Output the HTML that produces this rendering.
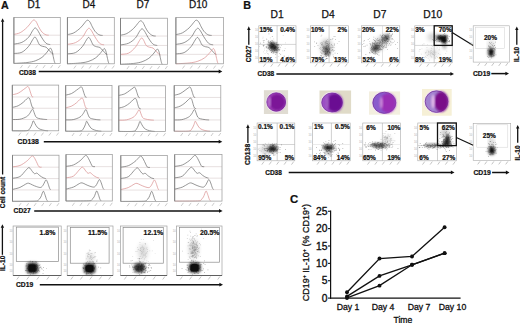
<!DOCTYPE html>
<html><head><meta charset="utf-8"><style>
html,body{margin:0;padding:0;background:#fff;width:520px;height:323px;overflow:hidden;}
svg{display:block;font-family:"Liberation Sans", sans-serif;}
</style></head><body>
<svg width="520" height="323" viewBox="0 0 520 323" font-family='"Liberation Sans", sans-serif'><defs><radialGradient id="cyt" cx="0.5" cy="0.5" r="0.5"><stop offset="0" stop-color="#9c5cc4"/><stop offset="0.8" stop-color="#9454be"/><stop offset="1" stop-color="#b890d0"/></radialGradient><filter id="b1" x="-60%" y="-60%" width="220%" height="220%"><feGaussianBlur stdDeviation="1.4"/></filter><filter id="b2" x="-60%" y="-60%" width="220%" height="220%"><feGaussianBlur stdDeviation="2.5"/></filter><filter id="b05" x="-20%" y="-20%" width="140%" height="140%"><feGaussianBlur stdDeviation="0.5"/></filter><filter id="b07" x="-30%" y="-30%" width="160%" height="160%"><feGaussianBlur stdDeviation="0.8"/></filter></defs><rect width="520" height="323" fill="#fff"/><text x="0.9" y="8.7" font-size="10.7" font-weight="bold" fill="#111" stroke="#111" stroke-width="0.22">A</text>
<text x="243.2" y="8.7" font-size="10.8" font-weight="bold" fill="#111" stroke="#111" stroke-width="0.22">B</text>
<text x="290.0" y="203.1" font-size="11.4" font-weight="bold" fill="#111" stroke="#111" stroke-width="0.22">C</text>
<text x="34.0" y="7.6" font-size="10" text-anchor="middle" fill="#111" stroke="#111" stroke-width="0.25">D1</text>
<text x="89.0" y="7.6" font-size="10" text-anchor="middle" fill="#111" stroke="#111" stroke-width="0.25">D4</text>
<text x="143.0" y="7.6" font-size="10" text-anchor="middle" fill="#111" stroke="#111" stroke-width="0.25">D7</text>
<text x="198.2" y="7.6" font-size="10" text-anchor="middle" fill="#111" stroke="#111" stroke-width="0.25">D10</text>
<line x1="13.9" y1="35.199999999999996" x2="60.3" y2="35.199999999999996" stroke="#ddd3d3" stroke-width="0.7"/>
<line x1="13.9" y1="44.599999999999994" x2="60.3" y2="44.599999999999994" stroke="#ddd3d3" stroke-width="0.7"/>
<line x1="13.9" y1="54.0" x2="60.3" y2="54.0" stroke="#ddd3d3" stroke-width="0.7"/>
<path d="M13.90,34.39 C14.95,34.10 18.05,33.80 20.21,32.66 C22.38,31.53 25.08,29.28 26.89,27.58 C28.70,25.89 29.95,23.78 31.07,22.51 C32.18,21.24 32.74,20.12 33.57,19.97 C34.41,19.82 35.24,20.48 36.08,21.59 C36.91,22.71 37.75,25.11 38.58,26.67 C39.42,28.23 40.26,29.80 41.09,30.94 C41.93,32.07 42.76,32.81 43.60,33.47 C44.43,34.13 45.25,34.61 46.10,34.90 C46.95,35.18 48.27,35.15 48.70,35.20" fill="none" stroke="#d88e8e" stroke-width="0.7"/>
<path d="M13.90,44.09 C15.23,43.80 19.44,43.50 21.88,42.37 C24.32,41.23 26.75,39.27 28.56,37.29 C30.37,35.31 31.62,32.04 32.74,30.49 C33.85,28.93 34.41,27.95 35.24,27.95 C36.08,27.95 36.78,29.06 37.75,30.49 C38.72,31.91 39.98,34.63 41.09,36.48 C42.20,38.32 43.46,40.34 44.43,41.55 C45.41,42.77 45.97,43.28 46.94,43.79 C47.90,44.30 49.68,44.46 50.23,44.60" fill="none" stroke="#6a6a6a" stroke-width="0.7"/>
<path d="M13.90,53.49 C15.23,53.29 19.44,53.46 21.88,52.27 C24.32,51.09 26.75,48.50 28.56,46.38 C30.37,44.27 31.68,41.14 32.74,39.58 C33.80,38.02 34.22,37.04 34.92,37.04 C35.62,37.04 36.16,38.31 36.91,39.58 C37.66,40.85 38.45,43.52 39.42,44.66 C40.39,45.79 41.65,45.96 42.76,46.38 C43.87,46.81 44.99,46.49 46.10,47.20 C47.22,47.91 48.47,49.60 49.44,50.65 C50.42,51.70 51.30,52.93 51.95,53.49 C52.60,54.05 53.11,53.92 53.34,54.00" fill="none" stroke="#6a6a6a" stroke-width="0.7"/>
<path d="M13.90,63.40 C16.07,63.26 23.33,62.97 26.89,62.55 C30.45,62.12 32.74,61.72 35.24,60.86 C37.75,60.01 40.12,58.68 41.93,57.41 C43.74,56.14 44.85,54.65 46.10,53.25 C47.35,51.84 48.70,49.83 49.44,48.98 C50.18,48.13 50.14,47.88 50.56,48.17 C50.97,48.46 51.50,49.30 51.95,50.71 C52.40,52.11 52.84,54.77 53.25,56.60 C53.66,58.42 54.07,60.54 54.41,61.67 C54.74,62.81 55.10,63.11 55.24,63.40" fill="none" stroke="#6a6a6a" stroke-width="0.7"/>
<rect x="13.90" y="17.40" width="46.40" height="46.00" fill="none" stroke="#9c9c9c" stroke-width="0.75"/>
<line x1="13.9" y1="17.4" x2="13.9" y2="63.4" stroke="#7c7c7c" stroke-width="0.9"/>
<path d="M20.3,68.2 L22.5,65.2" stroke="#b4b4b4" stroke-width="0.7" fill="none"/>
<path d="M27.8,68.2 L30.0,65.2" stroke="#b4b4b4" stroke-width="0.7" fill="none"/>
<path d="M35.4,68.2 L37.6,65.2" stroke="#b4b4b4" stroke-width="0.7" fill="none"/>
<path d="M42.9,68.2 L45.1,65.2" stroke="#b4b4b4" stroke-width="0.7" fill="none"/>
<path d="M50.5,68.2 L52.7,65.2" stroke="#b4b4b4" stroke-width="0.7" fill="none"/>
<path d="M58.1,68.2 L60.3,65.2" stroke="#b4b4b4" stroke-width="0.7" fill="none"/>
<line x1="67.4" y1="35.41608695652174" x2="114.3" y2="35.41608695652174" stroke="#ddd3d3" stroke-width="0.7"/>
<line x1="67.4" y1="44.877391304347825" x2="114.3" y2="44.877391304347825" stroke="#ddd3d3" stroke-width="0.7"/>
<line x1="67.4" y1="54.33869565217391" x2="114.3" y2="54.33869565217391" stroke="#ddd3d3" stroke-width="0.7"/>
<path d="M67.40,34.60 C68.46,34.32 71.59,34.01 73.78,32.88 C75.97,31.74 78.70,29.49 80.53,27.80 C82.36,26.11 83.63,23.99 84.75,22.72 C85.88,21.45 86.44,20.34 87.29,20.18 C88.13,20.03 88.97,20.69 89.82,21.81 C90.66,22.93 91.51,25.33 92.35,26.89 C93.20,28.44 94.04,30.02 94.88,31.15 C95.73,32.29 96.57,33.03 97.42,33.69 C98.26,34.35 99.09,34.82 99.95,35.11 C100.81,35.40 102.14,35.37 102.58,35.42" fill="none" stroke="#6a6a6a" stroke-width="0.7"/>
<path d="M67.40,44.37 C68.74,44.08 73.00,43.78 75.47,42.64 C77.94,41.51 80.39,39.55 82.22,37.57 C84.05,35.59 85.32,32.32 86.44,30.76 C87.57,29.21 88.13,28.22 88.97,28.22 C89.82,28.22 90.52,29.34 91.51,30.76 C92.49,32.18 93.76,34.91 94.88,36.75 C96.01,38.60 97.28,40.61 98.26,41.83 C99.25,43.05 99.82,43.56 100.79,44.07 C101.77,44.57 103.57,44.74 104.12,44.88" fill="none" stroke="#d88e8e" stroke-width="0.7"/>
<path d="M67.40,53.83 C68.74,53.63 73.00,53.80 75.47,52.61 C77.94,51.43 80.39,48.84 82.22,46.72 C84.05,44.61 85.37,41.48 86.44,39.92 C87.51,38.36 87.94,37.38 88.65,37.38 C89.35,37.38 89.90,38.65 90.66,39.92 C91.42,41.19 92.21,43.86 93.20,45.00 C94.18,46.13 95.45,46.30 96.57,46.72 C97.70,47.15 98.82,46.82 99.95,47.54 C101.07,48.25 102.34,49.94 103.33,50.99 C104.31,52.04 105.20,53.27 105.86,53.83 C106.51,54.39 107.03,54.25 107.27,54.34" fill="none" stroke="#6a6a6a" stroke-width="0.7"/>
<path d="M67.40,63.80 C69.59,63.66 76.94,63.37 80.53,62.95 C84.13,62.52 86.44,62.12 88.97,61.26 C91.51,60.41 93.90,59.08 95.73,57.81 C97.56,56.54 98.68,55.05 99.95,53.65 C101.21,52.24 102.58,50.23 103.33,49.38 C104.08,48.53 104.03,48.28 104.45,48.57 C104.87,48.86 105.40,49.70 105.86,51.11 C106.31,52.51 106.76,55.17 107.17,57.00 C107.59,58.82 108.01,60.94 108.34,62.07 C108.68,63.21 109.05,63.51 109.19,63.80" fill="none" stroke="#6a6a6a" stroke-width="0.7"/>
<rect x="67.40" y="17.50" width="46.90" height="46.30" fill="none" stroke="#9c9c9c" stroke-width="0.75"/>
<line x1="67.4" y1="17.5" x2="67.4" y2="63.8" stroke="#7c7c7c" stroke-width="0.9"/>
<path d="M73.8,68.6 L76.0,65.6" stroke="#b4b4b4" stroke-width="0.7" fill="none"/>
<path d="M81.5,68.6 L83.7,65.6" stroke="#b4b4b4" stroke-width="0.7" fill="none"/>
<path d="M89.1,68.6 L91.3,65.6" stroke="#b4b4b4" stroke-width="0.7" fill="none"/>
<path d="M96.8,68.6 L99.0,65.6" stroke="#b4b4b4" stroke-width="0.7" fill="none"/>
<path d="M104.4,68.6 L106.6,65.6" stroke="#b4b4b4" stroke-width="0.7" fill="none"/>
<path d="M112.1,68.6 L114.3,65.6" stroke="#b4b4b4" stroke-width="0.7" fill="none"/>
<line x1="120.5" y1="36.038695652173914" x2="167.4" y2="36.038695652173914" stroke="#ddd3d3" stroke-width="0.7"/>
<line x1="120.5" y1="45.45913043478261" x2="167.4" y2="45.45913043478261" stroke="#ddd3d3" stroke-width="0.7"/>
<line x1="120.5" y1="54.8795652173913" x2="167.4" y2="54.8795652173913" stroke="#ddd3d3" stroke-width="0.7"/>
<path d="M120.50,35.23 C121.56,34.94 124.69,34.63 126.88,33.50 C129.07,32.37 131.80,30.12 133.63,28.42 C135.46,26.73 136.73,24.61 137.85,23.35 C138.98,22.08 139.54,20.96 140.39,20.81 C141.23,20.65 142.07,21.31 142.92,22.43 C143.76,23.55 144.61,25.95 145.45,27.51 C146.30,29.07 147.14,30.64 147.98,31.77 C148.83,32.91 149.67,33.65 150.52,34.31 C151.36,34.97 152.19,35.45 153.05,35.73 C153.91,36.02 155.24,35.99 155.68,36.04" fill="none" stroke="#6a6a6a" stroke-width="0.7"/>
<path d="M120.50,44.95 C121.84,44.66 126.10,44.36 128.57,43.23 C131.04,42.09 133.49,40.13 135.32,38.15 C137.15,36.17 138.42,32.90 139.54,31.34 C140.67,29.79 141.23,28.81 142.07,28.81 C142.92,28.81 143.62,29.92 144.61,31.34 C145.59,32.77 146.86,35.49 147.98,37.34 C149.11,39.18 150.38,41.19 151.36,42.41 C152.35,43.63 152.92,44.14 153.89,44.65 C154.87,45.15 156.67,45.32 157.22,45.46" fill="none" stroke="#6a6a6a" stroke-width="0.7"/>
<path d="M120.50,54.37 C121.84,54.17 126.10,54.34 128.57,53.15 C131.04,51.97 133.49,49.38 135.32,47.26 C137.15,45.15 138.47,42.02 139.54,40.46 C140.61,38.90 141.04,37.92 141.75,37.92 C142.45,37.92 143.00,39.19 143.76,40.46 C144.52,41.73 145.31,44.40 146.30,45.54 C147.28,46.67 148.55,46.84 149.67,47.26 C150.80,47.69 151.92,47.37 153.05,48.08 C154.17,48.79 155.44,50.48 156.43,51.53 C157.41,52.58 158.30,53.81 158.96,54.37 C159.61,54.93 160.13,54.79 160.37,54.88" fill="none" stroke="#d88e8e" stroke-width="0.7"/>
<path d="M120.50,64.30 C122.69,64.16 130.04,63.87 133.63,63.45 C137.23,63.02 139.54,62.62 142.07,61.76 C144.61,60.91 147.00,59.58 148.83,58.31 C150.66,57.04 151.78,55.55 153.05,54.15 C154.31,52.74 155.67,50.73 156.43,49.88 C157.18,49.03 157.13,48.78 157.55,49.07 C157.97,49.36 158.50,50.20 158.96,51.61 C159.41,53.01 159.86,55.67 160.27,57.50 C160.69,59.32 161.11,61.44 161.44,62.57 C161.78,63.71 162.15,64.01 162.29,64.30" fill="none" stroke="#6a6a6a" stroke-width="0.7"/>
<rect x="120.50" y="18.20" width="46.90" height="46.10" fill="none" stroke="#9c9c9c" stroke-width="0.75"/>
<line x1="120.5" y1="18.2" x2="120.5" y2="64.3" stroke="#7c7c7c" stroke-width="0.9"/>
<path d="M126.9,69.1 L129.1,66.1" stroke="#b4b4b4" stroke-width="0.7" fill="none"/>
<path d="M134.6,69.1 L136.8,66.1" stroke="#b4b4b4" stroke-width="0.7" fill="none"/>
<path d="M142.2,69.1 L144.4,66.1" stroke="#b4b4b4" stroke-width="0.7" fill="none"/>
<path d="M149.9,69.1 L152.1,66.1" stroke="#b4b4b4" stroke-width="0.7" fill="none"/>
<path d="M157.5,69.1 L159.7,66.1" stroke="#b4b4b4" stroke-width="0.7" fill="none"/>
<path d="M165.2,69.1 L167.4,66.1" stroke="#b4b4b4" stroke-width="0.7" fill="none"/>
<line x1="175.9" y1="35.41608695652174" x2="223.5" y2="35.41608695652174" stroke="#ddd3d3" stroke-width="0.7"/>
<line x1="175.9" y1="44.877391304347825" x2="223.5" y2="44.877391304347825" stroke="#ddd3d3" stroke-width="0.7"/>
<line x1="175.9" y1="54.33869565217391" x2="223.5" y2="54.33869565217391" stroke="#ddd3d3" stroke-width="0.7"/>
<path d="M175.90,34.60 C176.98,34.32 180.15,34.01 182.37,32.88 C184.59,31.74 187.37,29.49 189.23,27.80 C191.08,26.11 192.37,23.99 193.51,22.72 C194.65,21.45 195.23,20.34 196.08,20.18 C196.94,20.03 197.80,20.69 198.65,21.81 C199.51,22.93 200.37,25.33 201.22,26.89 C202.08,28.44 202.94,30.02 203.79,31.15 C204.65,32.29 205.51,33.03 206.36,33.69 C207.22,34.35 208.06,34.82 208.93,35.11 C209.81,35.40 211.16,35.37 211.60,35.42" fill="none" stroke="#6a6a6a" stroke-width="0.7"/>
<path d="M175.90,44.37 C177.26,44.08 181.58,43.78 184.09,42.64 C186.59,41.51 189.09,39.55 190.94,37.57 C192.80,35.59 194.08,32.32 195.23,30.76 C196.37,29.21 196.94,28.22 197.80,28.22 C198.65,28.22 199.37,29.34 200.37,30.76 C201.37,32.18 202.65,34.91 203.79,36.75 C204.94,38.60 206.22,40.61 207.22,41.83 C208.22,43.05 208.80,43.56 209.79,44.07 C210.78,44.57 212.61,44.74 213.17,44.88" fill="none" stroke="#6a6a6a" stroke-width="0.7"/>
<path d="M175.90,53.83 C177.26,53.63 181.58,53.80 184.09,52.61 C186.59,51.43 189.09,48.84 190.94,46.72 C192.80,44.61 194.14,41.48 195.23,39.92 C196.31,38.36 196.75,37.38 197.46,37.38 C198.18,37.38 198.74,38.65 199.51,39.92 C200.28,41.19 201.08,43.86 202.08,45.00 C203.08,46.13 204.36,46.30 205.51,46.72 C206.65,47.15 207.79,46.82 208.93,47.54 C210.08,48.25 211.36,49.94 212.36,50.99 C213.36,52.04 214.27,53.27 214.93,53.83 C215.60,54.39 216.12,54.25 216.36,54.34" fill="none" stroke="#6a6a6a" stroke-width="0.7"/>
<path d="M175.90,63.80 C178.12,63.66 185.58,63.37 189.23,62.95 C192.88,62.52 195.23,62.12 197.80,61.26 C200.37,60.41 202.79,59.08 204.65,57.81 C206.51,56.54 207.65,55.05 208.93,53.65 C210.22,52.24 211.60,50.23 212.36,49.38 C213.12,48.53 213.08,48.28 213.50,48.57 C213.93,48.86 214.47,49.70 214.93,51.11 C215.39,52.51 215.84,55.17 216.26,57.00 C216.69,58.82 217.11,60.94 217.45,62.07 C217.80,63.21 218.17,63.51 218.31,63.80" fill="none" stroke="#d88e8e" stroke-width="0.7"/>
<rect x="175.90" y="17.50" width="47.60" height="46.30" fill="none" stroke="#9c9c9c" stroke-width="0.75"/>
<line x1="175.9" y1="17.5" x2="175.9" y2="63.8" stroke="#7c7c7c" stroke-width="0.9"/>
<path d="M182.5,68.6 L184.7,65.6" stroke="#b4b4b4" stroke-width="0.7" fill="none"/>
<path d="M190.2,68.6 L192.4,65.6" stroke="#b4b4b4" stroke-width="0.7" fill="none"/>
<path d="M198.0,68.6 L200.2,65.6" stroke="#b4b4b4" stroke-width="0.7" fill="none"/>
<path d="M205.7,68.6 L207.9,65.6" stroke="#b4b4b4" stroke-width="0.7" fill="none"/>
<path d="M213.5,68.6 L215.7,65.6" stroke="#b4b4b4" stroke-width="0.7" fill="none"/>
<path d="M221.2,68.6 L223.4,65.6" stroke="#b4b4b4" stroke-width="0.7" fill="none"/>
<line x1="12.3" y1="96.97598684210527" x2="58.7" y2="96.97598684210527" stroke="#ddd3d3" stroke-width="0.7"/>
<line x1="12.3" y1="108.25065789473685" x2="58.7" y2="108.25065789473685" stroke="#ddd3d3" stroke-width="0.7"/>
<line x1="12.3" y1="119.52532894736842" x2="58.7" y2="119.52532894736842" stroke="#ddd3d3" stroke-width="0.7"/>
<path d="M12.30,94.78 C13.28,94.51 16.38,94.01 18.19,93.18 C20.01,92.34 21.81,90.76 23.20,89.78 C24.60,88.79 25.76,87.83 26.54,87.28 C27.33,86.73 27.47,86.34 27.89,86.48 C28.31,86.61 28.58,86.96 29.05,88.08 C29.52,89.19 30.24,91.78 30.72,93.18 C31.20,94.58 31.52,95.84 31.93,96.48 C32.34,97.11 32.97,96.89 33.18,96.98" fill="none" stroke="#d88e8e" stroke-width="0.7"/>
<path d="M12.30,107.45 C13.28,107.17 16.38,106.60 18.19,105.75 C20.01,104.90 21.81,103.47 23.20,102.35 C24.60,101.23 25.66,99.82 26.54,99.05 C27.43,98.28 28.00,97.75 28.54,97.75 C29.08,97.75 29.34,98.00 29.79,99.05 C30.24,100.10 30.79,102.65 31.23,104.05 C31.67,105.45 31.96,106.75 32.44,107.45 C32.92,108.15 33.83,108.12 34.11,108.25" fill="none" stroke="#6a6a6a" stroke-width="0.7"/>
<path d="M12.30,119.53 C13.56,119.48 17.49,119.69 19.86,119.23 C22.24,118.76 24.89,117.71 26.54,116.73 C28.20,115.74 28.81,114.59 29.79,113.33 C30.77,112.06 31.72,109.26 32.44,109.13 C33.16,108.99 33.55,111.26 34.11,112.53 C34.66,113.79 35.08,115.76 35.78,116.73 C36.47,117.69 37.03,117.91 38.28,118.33 C39.54,118.74 41.83,119.03 43.30,119.23 C44.76,119.43 46.47,119.48 47.10,119.53" fill="none" stroke="#6a6a6a" stroke-width="0.7"/>
<path d="M12.30,130.80 C14.67,130.78 23.63,131.07 26.54,130.70 C29.46,130.33 28.90,129.65 29.79,128.60 C30.69,127.55 31.35,125.70 31.93,124.40 C32.51,123.10 32.77,120.93 33.27,120.80 C33.78,120.67 34.25,122.48 34.94,123.60 C35.64,124.72 36.47,126.52 37.45,127.50 C38.42,128.48 39.54,129.00 40.79,129.50 C42.04,130.00 43.76,130.28 44.97,130.50 C46.17,130.72 47.52,130.75 48.03,130.80" fill="none" stroke="#6a6a6a" stroke-width="0.7"/>
<rect x="12.30" y="85.10" width="46.40" height="45.70" fill="none" stroke="#9c9c9c" stroke-width="0.75"/>
<line x1="12.3" y1="85.1" x2="12.3" y2="130.8" stroke="#7c7c7c" stroke-width="0.9"/>
<path d="M18.7,135.6 L20.9,132.6" stroke="#b4b4b4" stroke-width="0.7" fill="none"/>
<path d="M26.2,135.6 L28.4,132.6" stroke="#b4b4b4" stroke-width="0.7" fill="none"/>
<path d="M33.8,135.6 L36.0,132.6" stroke="#b4b4b4" stroke-width="0.7" fill="none"/>
<path d="M41.3,135.6 L43.5,132.6" stroke="#b4b4b4" stroke-width="0.7" fill="none"/>
<path d="M48.9,135.6 L51.1,132.6" stroke="#b4b4b4" stroke-width="0.7" fill="none"/>
<path d="M56.5,135.6 L58.7,132.6" stroke="#b4b4b4" stroke-width="0.7" fill="none"/>
<line x1="65.7" y1="97.30197368421052" x2="112.0" y2="97.30197368421052" stroke="#ddd3d3" stroke-width="0.7"/>
<line x1="65.7" y1="108.60131578947369" x2="112.0" y2="108.60131578947369" stroke="#ddd3d3" stroke-width="0.7"/>
<line x1="65.7" y1="119.90065789473684" x2="112.0" y2="119.90065789473684" stroke="#ddd3d3" stroke-width="0.7"/>
<path d="M65.70,95.10 C66.68,94.84 69.77,94.34 71.58,93.50 C73.39,92.67 75.19,91.09 76.58,90.10 C77.97,89.12 79.13,88.15 79.91,87.60 C80.69,87.05 80.84,86.67 81.26,86.80 C81.67,86.94 81.94,87.29 82.41,88.40 C82.89,89.52 83.60,92.10 84.08,93.50 C84.56,94.90 84.88,96.17 85.28,96.80 C85.69,97.44 86.33,97.22 86.53,97.30" fill="none" stroke="#6a6a6a" stroke-width="0.7"/>
<path d="M65.70,107.80 C66.68,107.52 69.77,106.95 71.58,106.10 C73.39,105.25 75.19,103.82 76.58,102.70 C77.97,101.58 79.03,100.17 79.91,99.40 C80.80,98.63 81.36,98.10 81.91,98.10 C82.45,98.10 82.71,98.35 83.16,99.40 C83.60,100.45 84.15,103.00 84.59,104.40 C85.03,105.80 85.32,107.10 85.79,107.80 C86.27,108.50 87.18,108.47 87.46,108.60" fill="none" stroke="#d88e8e" stroke-width="0.7"/>
<path d="M65.70,119.90 C66.96,119.85 70.88,120.07 73.25,119.60 C75.62,119.13 78.26,118.08 79.91,117.10 C81.57,116.12 82.18,114.97 83.16,113.70 C84.14,112.43 85.08,109.63 85.79,109.50 C86.51,109.37 86.91,111.63 87.46,112.90 C88.02,114.17 88.43,116.13 89.13,117.10 C89.82,118.07 90.38,118.28 91.63,118.70 C92.88,119.12 95.16,119.40 96.63,119.60 C98.09,119.80 99.79,119.85 100.42,119.90" fill="none" stroke="#6a6a6a" stroke-width="0.7"/>
<path d="M65.70,131.20 C68.07,131.18 77.00,131.47 79.91,131.10 C82.82,130.73 82.26,130.05 83.16,129.00 C84.05,127.95 84.71,126.10 85.28,124.80 C85.86,123.50 86.13,121.33 86.63,121.20 C87.13,121.07 87.60,122.88 88.29,124.00 C88.99,125.12 89.82,126.92 90.79,127.90 C91.77,128.88 92.88,129.40 94.13,129.90 C95.38,130.40 97.09,130.68 98.30,130.90 C99.50,131.12 100.84,131.15 101.35,131.20" fill="none" stroke="#6a6a6a" stroke-width="0.7"/>
<rect x="65.70" y="85.40" width="46.30" height="45.80" fill="none" stroke="#9c9c9c" stroke-width="0.75"/>
<line x1="65.7" y1="85.4" x2="65.7" y2="131.2" stroke="#7c7c7c" stroke-width="0.9"/>
<path d="M72.0,136.0 L74.2,133.0" stroke="#b4b4b4" stroke-width="0.7" fill="none"/>
<path d="M79.6,136.0 L81.8,133.0" stroke="#b4b4b4" stroke-width="0.7" fill="none"/>
<path d="M87.1,136.0 L89.3,133.0" stroke="#b4b4b4" stroke-width="0.7" fill="none"/>
<path d="M94.7,136.0 L96.9,133.0" stroke="#b4b4b4" stroke-width="0.7" fill="none"/>
<path d="M102.2,136.0 L104.4,133.0" stroke="#b4b4b4" stroke-width="0.7" fill="none"/>
<path d="M109.8,136.0 L112.0,133.0" stroke="#b4b4b4" stroke-width="0.7" fill="none"/>
<line x1="118.8" y1="97.65" x2="165.5" y2="97.65" stroke="#ddd3d3" stroke-width="0.7"/>
<line x1="118.8" y1="108.9" x2="165.5" y2="108.9" stroke="#ddd3d3" stroke-width="0.7"/>
<line x1="118.8" y1="120.15" x2="165.5" y2="120.15" stroke="#ddd3d3" stroke-width="0.7"/>
<path d="M118.80,95.45 C119.79,95.18 122.90,94.68 124.73,93.85 C126.56,93.02 128.37,91.43 129.77,90.45 C131.18,89.47 132.35,88.50 133.14,87.95 C133.92,87.40 134.07,87.02 134.49,87.15 C134.91,87.28 135.18,87.63 135.66,88.75 C136.13,89.87 136.86,92.45 137.34,93.85 C137.82,95.25 138.14,96.52 138.55,97.15 C138.97,97.78 139.60,97.57 139.81,97.65" fill="none" stroke="#6a6a6a" stroke-width="0.7"/>
<path d="M118.80,108.10 C119.79,107.82 122.90,107.25 124.73,106.40 C126.56,105.55 128.37,104.12 129.77,103.00 C131.18,101.88 132.24,100.47 133.14,99.70 C134.03,98.93 134.60,98.40 135.14,98.40 C135.69,98.40 135.95,98.65 136.41,99.70 C136.86,100.75 137.41,103.30 137.85,104.70 C138.30,106.10 138.59,107.40 139.07,108.10 C139.55,108.80 140.47,108.77 140.75,108.90" fill="none" stroke="#6a6a6a" stroke-width="0.7"/>
<path d="M118.80,120.15 C120.07,120.10 124.02,120.32 126.41,119.85 C128.80,119.38 131.47,118.33 133.14,117.35 C134.80,116.37 135.42,115.22 136.41,113.95 C137.39,112.68 138.34,109.88 139.07,109.75 C139.79,109.62 140.19,111.88 140.75,113.15 C141.31,114.42 141.73,116.38 142.43,117.35 C143.13,118.32 143.69,118.53 144.95,118.95 C146.21,119.37 148.52,119.65 150.00,119.85 C151.47,120.05 153.19,120.10 153.82,120.15" fill="none" stroke="#d88e8e" stroke-width="0.7"/>
<path d="M118.80,131.40 C121.19,131.38 130.20,131.67 133.14,131.30 C136.07,130.93 135.50,130.25 136.41,129.20 C137.31,128.15 137.97,126.30 138.55,125.00 C139.14,123.70 139.40,121.53 139.91,121.40 C140.41,121.27 140.89,123.08 141.59,124.20 C142.29,125.32 143.13,127.12 144.11,128.10 C145.09,129.08 146.21,129.60 147.47,130.10 C148.73,130.60 150.46,130.88 151.68,131.10 C152.89,131.32 154.25,131.35 154.76,131.40" fill="none" stroke="#6a6a6a" stroke-width="0.7"/>
<rect x="118.80" y="85.80" width="46.70" height="45.60" fill="none" stroke="#9c9c9c" stroke-width="0.75"/>
<line x1="118.8" y1="85.8" x2="118.8" y2="131.4" stroke="#7c7c7c" stroke-width="0.9"/>
<path d="M125.2,136.2 L127.4,133.2" stroke="#b4b4b4" stroke-width="0.7" fill="none"/>
<path d="M132.8,136.2 L135.0,133.2" stroke="#b4b4b4" stroke-width="0.7" fill="none"/>
<path d="M140.4,136.2 L142.6,133.2" stroke="#b4b4b4" stroke-width="0.7" fill="none"/>
<path d="M148.0,136.2 L150.2,133.2" stroke="#b4b4b4" stroke-width="0.7" fill="none"/>
<path d="M155.7,136.2 L157.9,133.2" stroke="#b4b4b4" stroke-width="0.7" fill="none"/>
<path d="M163.3,136.2 L165.5,133.2" stroke="#b4b4b4" stroke-width="0.7" fill="none"/>
<line x1="174.2" y1="97.44999999999999" x2="220.8" y2="97.44999999999999" stroke="#ddd3d3" stroke-width="0.7"/>
<line x1="174.2" y1="108.69999999999999" x2="220.8" y2="108.69999999999999" stroke="#ddd3d3" stroke-width="0.7"/>
<line x1="174.2" y1="119.94999999999999" x2="220.8" y2="119.94999999999999" stroke="#ddd3d3" stroke-width="0.7"/>
<path d="M174.20,95.25 C175.19,94.98 178.29,94.48 180.12,93.65 C181.94,92.82 183.75,91.23 185.15,90.25 C186.55,89.27 187.72,88.30 188.51,87.75 C189.29,87.20 189.44,86.82 189.86,86.95 C190.28,87.08 190.55,87.43 191.02,88.55 C191.50,89.67 192.22,92.25 192.70,93.65 C193.18,95.05 193.50,96.32 193.91,96.95 C194.32,97.58 194.96,97.37 195.17,97.45" fill="none" stroke="#6a6a6a" stroke-width="0.7"/>
<path d="M174.20,107.90 C175.19,107.62 178.29,107.05 180.12,106.20 C181.94,105.35 183.75,103.92 185.15,102.80 C186.55,101.68 187.61,100.27 188.51,99.50 C189.40,98.73 189.97,98.20 190.51,98.20 C191.05,98.20 191.32,98.45 191.77,99.50 C192.22,100.55 192.77,103.10 193.21,104.50 C193.66,105.90 193.94,107.20 194.42,107.90 C194.91,108.60 195.82,108.57 196.10,108.70" fill="none" stroke="#6a6a6a" stroke-width="0.7"/>
<path d="M174.20,119.95 C175.47,119.90 179.41,120.12 181.80,119.65 C184.18,119.18 186.84,118.13 188.51,117.15 C190.17,116.17 190.78,115.02 191.77,113.75 C192.75,112.48 193.70,109.68 194.42,109.55 C195.15,109.42 195.54,111.68 196.10,112.95 C196.66,114.22 197.08,116.18 197.78,117.15 C198.48,118.12 199.04,118.33 200.30,118.75 C201.55,119.17 203.85,119.45 205.33,119.65 C206.80,119.85 208.51,119.90 209.15,119.95" fill="none" stroke="#6a6a6a" stroke-width="0.7"/>
<path d="M174.20,131.20 C176.58,131.18 185.58,131.47 188.51,131.10 C191.43,130.73 190.87,130.05 191.77,129.00 C192.67,127.95 193.33,126.10 193.91,124.80 C194.49,123.50 194.76,121.33 195.26,121.20 C195.77,121.07 196.24,122.88 196.94,124.00 C197.64,125.12 198.48,126.92 199.46,127.90 C200.44,128.88 201.55,129.40 202.81,129.90 C204.07,130.40 205.79,130.68 207.01,130.90 C208.22,131.12 209.57,131.15 210.08,131.20" fill="none" stroke="#d88e8e" stroke-width="0.7"/>
<rect x="174.20" y="85.60" width="46.60" height="45.60" fill="none" stroke="#9c9c9c" stroke-width="0.75"/>
<line x1="174.2" y1="85.6" x2="174.2" y2="131.2" stroke="#7c7c7c" stroke-width="0.9"/>
<path d="M180.6,136.0 L182.8,133.0" stroke="#b4b4b4" stroke-width="0.7" fill="none"/>
<path d="M188.2,136.0 L190.4,133.0" stroke="#b4b4b4" stroke-width="0.7" fill="none"/>
<path d="M195.8,136.0 L198.0,133.0" stroke="#b4b4b4" stroke-width="0.7" fill="none"/>
<path d="M203.4,136.0 L205.6,133.0" stroke="#b4b4b4" stroke-width="0.7" fill="none"/>
<path d="M211.0,136.0 L213.2,133.0" stroke="#b4b4b4" stroke-width="0.7" fill="none"/>
<path d="M218.6,136.0 L220.8,133.0" stroke="#b4b4b4" stroke-width="0.7" fill="none"/>
<line x1="12.5" y1="167.17402597402597" x2="59.0" y2="167.17402597402597" stroke="#ddd3d3" stroke-width="0.7"/>
<line x1="12.5" y1="178.54935064935066" x2="59.0" y2="178.54935064935066" stroke="#ddd3d3" stroke-width="0.7"/>
<line x1="12.5" y1="189.92467532467532" x2="59.0" y2="189.92467532467532" stroke="#ddd3d3" stroke-width="0.7"/>
<path d="M12.50,166.87 C13.75,166.64 17.63,166.41 19.99,165.47 C22.34,164.54 24.98,162.52 26.64,161.27 C28.29,160.02 28.97,158.89 29.94,157.97 C30.91,157.06 31.61,155.64 32.45,155.77 C33.29,155.91 34.13,157.42 34.96,158.77 C35.79,160.12 36.73,162.52 37.42,163.87 C38.11,165.22 38.41,166.32 39.10,166.87 C39.79,167.42 41.15,167.12 41.56,167.17" fill="none" stroke="#d88e8e" stroke-width="0.7"/>
<path d="M12.50,178.25 C13.75,177.97 17.77,177.87 19.99,176.55 C22.20,175.23 24.28,171.83 25.80,170.35 C27.32,168.87 27.99,167.45 29.10,167.65 C30.21,167.85 31.53,170.53 32.45,171.55 C33.36,172.57 33.84,173.48 34.59,173.75 C35.33,174.02 36.02,172.82 36.91,173.15 C37.80,173.48 38.89,174.98 39.94,175.75 C40.98,176.52 42.22,177.28 43.19,177.75 C44.16,178.22 45.32,178.42 45.75,178.55" fill="none" stroke="#6a6a6a" stroke-width="0.7"/>
<path d="M12.50,189.42 C13.75,189.09 17.77,188.32 19.99,187.42 C22.20,186.52 24.36,184.72 25.80,184.02 C27.24,183.32 27.53,183.07 28.64,183.22 C29.74,183.37 31.12,184.36 32.45,184.92 C33.77,185.49 35.20,186.21 36.59,186.62 C37.97,187.04 39.66,187.71 40.77,187.42 C41.88,187.14 42.55,185.91 43.24,184.92 C43.93,183.94 44.41,182.36 44.91,181.52 C45.41,180.69 45.76,179.64 46.26,179.92 C46.76,180.21 47.34,181.84 47.89,183.22 C48.44,184.61 49.09,187.11 49.56,188.22 C50.03,189.34 50.53,189.64 50.72,189.92" fill="none" stroke="#6a6a6a" stroke-width="0.7"/>
<path d="M12.50,201.30 C16.24,201.27 30.67,201.30 34.96,201.10 C39.25,200.90 37.29,200.77 38.26,200.10 C39.23,199.43 39.94,198.57 40.77,197.10 C41.60,195.63 42.55,191.72 43.24,191.30 C43.93,190.88 44.35,193.22 44.91,194.60 C45.47,195.98 46.09,198.48 46.58,199.60 C47.08,200.72 47.67,201.02 47.89,201.30" fill="none" stroke="#6a6a6a" stroke-width="0.7"/>
<rect x="12.50" y="155.20" width="46.50" height="46.10" fill="none" stroke="#9c9c9c" stroke-width="0.75"/>
<line x1="12.5" y1="155.2" x2="12.5" y2="201.3" stroke="#7c7c7c" stroke-width="0.9"/>
<path d="M18.9,206.1 L21.1,203.1" stroke="#b4b4b4" stroke-width="0.7" fill="none"/>
<path d="M26.5,206.1 L28.7,203.1" stroke="#b4b4b4" stroke-width="0.7" fill="none"/>
<path d="M34.0,206.1 L36.2,203.1" stroke="#b4b4b4" stroke-width="0.7" fill="none"/>
<path d="M41.6,206.1 L43.8,203.1" stroke="#b4b4b4" stroke-width="0.7" fill="none"/>
<path d="M49.2,206.1 L51.4,203.1" stroke="#b4b4b4" stroke-width="0.7" fill="none"/>
<path d="M56.8,206.1 L59.0,203.1" stroke="#b4b4b4" stroke-width="0.7" fill="none"/>
<line x1="66.0" y1="166.65194805194804" x2="112.3" y2="166.65194805194804" stroke="#ddd3d3" stroke-width="0.7"/>
<line x1="66.0" y1="178.1012987012987" x2="112.3" y2="178.1012987012987" stroke="#ddd3d3" stroke-width="0.7"/>
<line x1="66.0" y1="189.55064935064934" x2="112.3" y2="189.55064935064934" stroke="#ddd3d3" stroke-width="0.7"/>
<path d="M66.00,166.35 C67.24,166.12 71.11,165.89 73.45,164.95 C75.80,164.02 78.42,162.00 80.08,160.75 C81.73,159.50 82.40,158.37 83.36,157.45 C84.33,156.54 85.03,155.12 85.86,155.25 C86.70,155.39 87.54,156.90 88.36,158.25 C89.19,159.60 90.13,162.00 90.82,163.35 C91.50,164.70 91.80,165.80 92.48,166.35 C93.17,166.90 94.53,166.60 94.94,166.65" fill="none" stroke="#6a6a6a" stroke-width="0.7"/>
<path d="M66.00,177.80 C67.24,177.52 71.25,177.42 73.45,176.10 C75.66,174.78 77.73,171.38 79.24,169.90 C80.75,168.42 81.43,167.00 82.53,167.20 C83.63,167.40 84.95,170.08 85.86,171.10 C86.77,172.12 87.25,173.03 87.99,173.30 C88.73,173.57 89.42,172.37 90.31,172.70 C91.19,173.03 92.28,174.53 93.32,175.30 C94.36,176.07 95.59,176.83 96.56,177.30 C97.52,177.77 98.68,177.97 99.10,178.10" fill="none" stroke="#d88e8e" stroke-width="0.7"/>
<path d="M66.00,189.05 C67.24,188.72 71.25,187.95 73.45,187.05 C75.66,186.15 77.81,184.35 79.24,183.65 C80.68,182.95 80.96,182.70 82.07,182.85 C83.17,183.00 84.54,183.98 85.86,184.55 C87.18,185.12 88.60,185.83 89.98,186.25 C91.36,186.67 93.05,187.33 94.15,187.05 C95.25,186.77 95.92,185.53 96.60,184.55 C97.29,183.57 97.77,181.98 98.27,181.15 C98.77,180.32 99.12,179.27 99.61,179.55 C100.11,179.83 100.69,181.47 101.23,182.85 C101.78,184.23 102.43,186.73 102.90,187.85 C103.37,188.97 103.87,189.27 104.06,189.55" fill="none" stroke="#6a6a6a" stroke-width="0.7"/>
<path d="M66.00,201.00 C69.73,200.97 84.09,201.00 88.36,200.80 C92.64,200.60 90.69,200.47 91.65,199.80 C92.61,199.13 93.32,198.27 94.15,196.80 C94.98,195.33 95.92,191.42 96.60,191.00 C97.29,190.58 97.72,192.92 98.27,194.30 C98.83,195.68 99.44,198.18 99.94,199.30 C100.43,200.42 101.02,200.72 101.23,201.00" fill="none" stroke="#6a6a6a" stroke-width="0.7"/>
<rect x="66.00" y="154.60" width="46.30" height="46.40" fill="none" stroke="#9c9c9c" stroke-width="0.75"/>
<line x1="66.0" y1="154.6" x2="66.0" y2="201.0" stroke="#7c7c7c" stroke-width="0.9"/>
<path d="M72.3,205.8 L74.5,202.8" stroke="#b4b4b4" stroke-width="0.7" fill="none"/>
<path d="M79.9,205.8 L82.1,202.8" stroke="#b4b4b4" stroke-width="0.7" fill="none"/>
<path d="M87.4,205.8 L89.6,202.8" stroke="#b4b4b4" stroke-width="0.7" fill="none"/>
<path d="M95.0,205.8 L97.2,202.8" stroke="#b4b4b4" stroke-width="0.7" fill="none"/>
<path d="M102.5,205.8 L104.7,202.8" stroke="#b4b4b4" stroke-width="0.7" fill="none"/>
<path d="M110.1,205.8 L112.3,202.8" stroke="#b4b4b4" stroke-width="0.7" fill="none"/>
<line x1="120.8" y1="167.42207792207793" x2="167.3" y2="167.42207792207793" stroke="#ddd3d3" stroke-width="0.7"/>
<line x1="120.8" y1="178.74805194805197" x2="167.3" y2="178.74805194805197" stroke="#ddd3d3" stroke-width="0.7"/>
<line x1="120.8" y1="190.07402597402597" x2="167.3" y2="190.07402597402597" stroke="#ddd3d3" stroke-width="0.7"/>
<path d="M120.80,167.12 C122.05,166.89 125.93,166.66 128.29,165.72 C130.64,164.79 133.28,162.77 134.94,161.52 C136.59,160.27 137.27,159.14 138.24,158.22 C139.21,157.31 139.91,155.89 140.75,156.02 C141.59,156.16 142.43,157.67 143.26,159.02 C144.09,160.37 145.03,162.77 145.72,164.12 C146.41,165.47 146.71,166.57 147.40,167.12 C148.09,167.67 149.45,167.37 149.86,167.42" fill="none" stroke="#6a6a6a" stroke-width="0.7"/>
<path d="M120.80,178.45 C122.05,178.16 126.07,178.06 128.29,176.75 C130.50,175.43 132.58,172.03 134.10,170.55 C135.62,169.06 136.29,167.65 137.40,167.85 C138.51,168.05 139.83,170.73 140.75,171.75 C141.66,172.76 142.14,173.68 142.89,173.95 C143.63,174.21 144.32,173.01 145.21,173.35 C146.10,173.68 147.19,175.18 148.24,175.95 C149.28,176.71 150.52,177.48 151.49,177.95 C152.46,178.41 153.62,178.61 154.05,178.75" fill="none" stroke="#6a6a6a" stroke-width="0.7"/>
<path d="M120.80,189.57 C122.05,189.24 126.07,188.47 128.29,187.57 C130.50,186.67 132.66,184.87 134.10,184.17 C135.54,183.47 135.83,183.22 136.94,183.37 C138.04,183.52 139.42,184.51 140.75,185.07 C142.07,185.64 143.50,186.36 144.89,186.77 C146.27,187.19 147.96,187.86 149.07,187.57 C150.18,187.29 150.85,186.06 151.54,185.07 C152.23,184.09 152.71,182.51 153.21,181.67 C153.71,180.84 154.06,179.79 154.56,180.07 C155.06,180.36 155.64,181.99 156.19,183.37 C156.74,184.76 157.39,187.26 157.86,188.37 C158.33,189.49 158.83,189.79 159.02,190.07" fill="none" stroke="#d88e8e" stroke-width="0.7"/>
<path d="M120.80,201.40 C124.54,201.37 138.97,201.40 143.26,201.20 C147.55,201.00 145.59,200.87 146.56,200.20 C147.53,199.53 148.24,198.67 149.07,197.20 C149.90,195.73 150.85,191.82 151.54,191.40 C152.23,190.98 152.65,193.32 153.21,194.70 C153.77,196.08 154.39,198.58 154.88,199.70 C155.38,200.82 155.97,201.12 156.19,201.40" fill="none" stroke="#6a6a6a" stroke-width="0.7"/>
<rect x="120.80" y="155.50" width="46.50" height="45.90" fill="none" stroke="#9c9c9c" stroke-width="0.75"/>
<line x1="120.8" y1="155.5" x2="120.8" y2="201.4" stroke="#7c7c7c" stroke-width="0.9"/>
<path d="M127.2,206.2 L129.4,203.2" stroke="#b4b4b4" stroke-width="0.7" fill="none"/>
<path d="M134.8,206.2 L137.0,203.2" stroke="#b4b4b4" stroke-width="0.7" fill="none"/>
<path d="M142.3,206.2 L144.5,203.2" stroke="#b4b4b4" stroke-width="0.7" fill="none"/>
<path d="M149.9,206.2 L152.1,203.2" stroke="#b4b4b4" stroke-width="0.7" fill="none"/>
<path d="M157.5,206.2 L159.7,203.2" stroke="#b4b4b4" stroke-width="0.7" fill="none"/>
<path d="M165.1,206.2 L167.3,203.2" stroke="#b4b4b4" stroke-width="0.7" fill="none"/>
<line x1="174.7" y1="166.67792207792206" x2="222.0" y2="166.67792207792206" stroke="#ddd3d3" stroke-width="0.7"/>
<line x1="174.7" y1="178.15194805194804" x2="222.0" y2="178.15194805194804" stroke="#ddd3d3" stroke-width="0.7"/>
<line x1="174.7" y1="189.62597402597402" x2="222.0" y2="189.62597402597402" stroke="#ddd3d3" stroke-width="0.7"/>
<path d="M174.70,166.38 C175.97,166.14 179.92,165.91 182.32,164.98 C184.71,164.04 187.39,162.03 189.08,160.78 C190.77,159.53 191.45,158.39 192.44,157.48 C193.42,156.56 194.14,155.14 194.99,155.28 C195.84,155.41 196.70,156.93 197.55,158.28 C198.39,159.63 199.35,162.03 200.05,163.38 C200.75,164.73 201.05,165.83 201.76,166.38 C202.46,166.93 203.84,166.63 204.26,166.68" fill="none" stroke="#6a6a6a" stroke-width="0.7"/>
<path d="M174.70,177.85 C175.97,177.57 180.06,177.47 182.32,176.15 C184.57,174.84 186.68,171.44 188.23,169.95 C189.77,168.47 190.46,167.05 191.59,167.25 C192.71,167.45 194.06,170.14 194.99,171.15 C195.92,172.17 196.41,173.09 197.17,173.35 C197.92,173.62 198.63,172.42 199.53,172.75 C200.44,173.09 201.54,174.59 202.61,175.35 C203.67,176.12 204.93,176.89 205.92,177.35 C206.90,177.82 208.09,178.02 208.52,178.15" fill="none" stroke="#6a6a6a" stroke-width="0.7"/>
<path d="M174.70,189.13 C175.97,188.79 180.06,188.03 182.32,187.13 C184.57,186.23 186.76,184.43 188.23,183.73 C189.69,183.03 189.99,182.78 191.11,182.93 C192.24,183.08 193.64,184.06 194.99,184.63 C196.34,185.19 197.79,185.91 199.20,186.33 C200.61,186.74 202.33,187.41 203.46,187.13 C204.59,186.84 205.26,185.61 205.97,184.63 C206.67,183.64 207.16,182.06 207.67,181.23 C208.18,180.39 208.54,179.34 209.04,179.63 C209.54,179.91 210.14,181.54 210.70,182.93 C211.26,184.31 211.92,186.81 212.40,187.93 C212.88,189.04 213.38,189.34 213.58,189.63" fill="none" stroke="#6a6a6a" stroke-width="0.7"/>
<path d="M174.70,201.10 C178.51,201.07 193.18,201.10 197.55,200.90 C201.91,200.70 199.92,200.57 200.90,199.90 C201.89,199.23 202.61,198.37 203.46,196.90 C204.30,195.43 205.26,191.52 205.97,191.10 C206.67,190.68 207.10,193.02 207.67,194.40 C208.24,195.78 208.87,198.28 209.37,199.40 C209.88,200.52 210.47,200.82 210.70,201.10" fill="none" stroke="#d88e8e" stroke-width="0.7"/>
<rect x="174.70" y="154.60" width="47.30" height="46.50" fill="none" stroke="#9c9c9c" stroke-width="0.75"/>
<line x1="174.7" y1="154.6" x2="174.7" y2="201.1" stroke="#7c7c7c" stroke-width="0.9"/>
<path d="M181.2,205.9 L183.4,202.9" stroke="#b4b4b4" stroke-width="0.7" fill="none"/>
<path d="M188.9,205.9 L191.1,202.9" stroke="#b4b4b4" stroke-width="0.7" fill="none"/>
<path d="M196.6,205.9 L198.8,202.9" stroke="#b4b4b4" stroke-width="0.7" fill="none"/>
<path d="M204.3,205.9 L206.5,202.9" stroke="#b4b4b4" stroke-width="0.7" fill="none"/>
<path d="M212.0,205.9 L214.2,202.9" stroke="#b4b4b4" stroke-width="0.7" fill="none"/>
<path d="M219.8,205.9 L222.0,202.9" stroke="#b4b4b4" stroke-width="0.7" fill="none"/>
<rect x="13.10" y="226.00" width="48.10" height="49.50" fill="none" stroke="#a0a0a0" stroke-width="0.7"/>
<rect x="16.30" y="227.10" width="42.10" height="34.40" fill="none" stroke="#8a8a8a" stroke-width="0.7"/>
<text x="55.3" y="235.3" font-size="6.9" font-weight="bold" text-anchor="end" fill="#111" stroke="#111" stroke-width="0.22">1.8%</text>
<line x1="13.1" y1="275.5" x2="61.2" y2="275.5" stroke="#555" stroke-width="0.9"/>
<text x="10.899999999999999" y="232" font-size="2.6" text-anchor="middle" fill="#aaa">10</text>
<text x="10.899999999999999" y="243" font-size="2.6" text-anchor="middle" fill="#aaa">10</text>
<text x="10.899999999999999" y="255" font-size="2.6" text-anchor="middle" fill="#aaa">10</text>
<text x="10.899999999999999" y="265.6" font-size="2.6" text-anchor="middle" fill="#aaa">10</text>
<text x="10.899999999999999" y="271.5" font-size="2.6" text-anchor="middle" fill="#aaa">10</text>
<path d="M16.8,279.5 L19.0,276.5" stroke="#aaa" stroke-width="0.7" fill="none"/>
<path d="M26.8,279.5 L29.0,276.5" stroke="#aaa" stroke-width="0.7" fill="none"/>
<path d="M36.9,279.5 L39.1,276.5" stroke="#aaa" stroke-width="0.7" fill="none"/>
<path d="M46.9,279.5 L49.1,276.5" stroke="#aaa" stroke-width="0.7" fill="none"/>
<path d="M56.9,279.5 L59.1,276.5" stroke="#aaa" stroke-width="0.7" fill="none"/>
<rect x="67.20" y="226.00" width="45.80" height="49.50" fill="none" stroke="#a0a0a0" stroke-width="0.7"/>
<rect x="70.30" y="227.40" width="38.80" height="35.80" fill="none" stroke="#8a8a8a" stroke-width="0.7"/>
<text x="107.2" y="235.3" font-size="6.9" font-weight="bold" text-anchor="end" fill="#111" stroke="#111" stroke-width="0.22">11.5%</text>
<line x1="67.2" y1="275.5" x2="113.0" y2="275.5" stroke="#555" stroke-width="0.9"/>
<text x="65.0" y="232" font-size="2.6" text-anchor="middle" fill="#aaa">10</text>
<text x="65.0" y="243" font-size="2.6" text-anchor="middle" fill="#aaa">10</text>
<text x="65.0" y="255" font-size="2.6" text-anchor="middle" fill="#aaa">10</text>
<text x="65.0" y="265.6" font-size="2.6" text-anchor="middle" fill="#aaa">10</text>
<text x="65.0" y="271.5" font-size="2.6" text-anchor="middle" fill="#aaa">10</text>
<path d="M70.9,279.5 L73.1,276.5" stroke="#aaa" stroke-width="0.7" fill="none"/>
<path d="M80.4,279.5 L82.6,276.5" stroke="#aaa" stroke-width="0.7" fill="none"/>
<path d="M89.8,279.5 L92.0,276.5" stroke="#aaa" stroke-width="0.7" fill="none"/>
<path d="M99.2,279.5 L101.5,276.5" stroke="#aaa" stroke-width="0.7" fill="none"/>
<path d="M108.7,279.5 L110.9,276.5" stroke="#aaa" stroke-width="0.7" fill="none"/>
<rect x="120.60" y="226.00" width="46.40" height="49.50" fill="none" stroke="#a0a0a0" stroke-width="0.7"/>
<rect x="123.10" y="227.40" width="40.20" height="35.80" fill="none" stroke="#8a8a8a" stroke-width="0.7"/>
<text x="163.10000000000002" y="235.3" font-size="6.9" font-weight="bold" text-anchor="end" fill="#111" stroke="#111" stroke-width="0.22">12.1%</text>
<line x1="120.6" y1="275.5" x2="167.0" y2="275.5" stroke="#555" stroke-width="0.9"/>
<text x="118.39999999999999" y="232" font-size="2.6" text-anchor="middle" fill="#aaa">10</text>
<text x="118.39999999999999" y="243" font-size="2.6" text-anchor="middle" fill="#aaa">10</text>
<text x="118.39999999999999" y="255" font-size="2.6" text-anchor="middle" fill="#aaa">10</text>
<text x="118.39999999999999" y="265.6" font-size="2.6" text-anchor="middle" fill="#aaa">10</text>
<text x="118.39999999999999" y="271.5" font-size="2.6" text-anchor="middle" fill="#aaa">10</text>
<path d="M124.3,279.5 L126.5,276.5" stroke="#aaa" stroke-width="0.7" fill="none"/>
<path d="M133.9,279.5 L136.1,276.5" stroke="#aaa" stroke-width="0.7" fill="none"/>
<path d="M143.5,279.5 L145.7,276.5" stroke="#aaa" stroke-width="0.7" fill="none"/>
<path d="M153.1,279.5 L155.3,276.5" stroke="#aaa" stroke-width="0.7" fill="none"/>
<path d="M162.7,279.5 L164.9,276.5" stroke="#aaa" stroke-width="0.7" fill="none"/>
<rect x="176.50" y="226.00" width="45.50" height="49.50" fill="none" stroke="#a0a0a0" stroke-width="0.7"/>
<rect x="179.40" y="227.60" width="40.00" height="34.60" fill="none" stroke="#8a8a8a" stroke-width="0.7"/>
<text x="219.5" y="235.3" font-size="6.9" font-weight="bold" text-anchor="end" fill="#111" stroke="#111" stroke-width="0.22">20.5%</text>
<line x1="176.5" y1="275.5" x2="222.0" y2="275.5" stroke="#555" stroke-width="0.9"/>
<text x="174.3" y="232" font-size="2.6" text-anchor="middle" fill="#aaa">10</text>
<text x="174.3" y="243" font-size="2.6" text-anchor="middle" fill="#aaa">10</text>
<text x="174.3" y="255" font-size="2.6" text-anchor="middle" fill="#aaa">10</text>
<text x="174.3" y="265.6" font-size="2.6" text-anchor="middle" fill="#aaa">10</text>
<text x="174.3" y="271.5" font-size="2.6" text-anchor="middle" fill="#aaa">10</text>
<path d="M180.2,279.5 L182.4,276.5" stroke="#aaa" stroke-width="0.7" fill="none"/>
<path d="M189.6,279.5 L191.8,276.5" stroke="#aaa" stroke-width="0.7" fill="none"/>
<path d="M198.9,279.5 L201.2,276.5" stroke="#aaa" stroke-width="0.7" fill="none"/>
<path d="M208.3,279.5 L210.5,276.5" stroke="#aaa" stroke-width="0.7" fill="none"/>
<path d="M217.7,279.5 L219.9,276.5" stroke="#aaa" stroke-width="0.7" fill="none"/>
<path d="M28.1 269.1h0.7v0.7h-0.7zM37.0 266.5h0.7v0.7h-0.7zM27.7 267.8h0.7v0.7h-0.7zM34.9 271.3h0.7v0.7h-0.7zM28.1 264.1h0.7v0.7h-0.7zM35.8 269.4h0.7v0.7h-0.7zM39.1 270.9h0.7v0.7h-0.7zM32.6 267.2h0.7v0.7h-0.7zM43.3 267.1h0.7v0.7h-0.7zM29.9 264.6h0.7v0.7h-0.7zM33.4 268.4h0.7v0.7h-0.7zM31.6 267.8h0.7v0.7h-0.7zM34.1 270.1h0.7v0.7h-0.7zM37.4 268.6h0.7v0.7h-0.7zM25.8 270.1h0.7v0.7h-0.7zM27.3 267.5h0.7v0.7h-0.7zM27.1 268.0h0.7v0.7h-0.7zM29.9 268.6h0.7v0.7h-0.7zM46.2 267.9h0.7v0.7h-0.7zM36.4 264.0h0.7v0.7h-0.7zM31.8 270.0h0.7v0.7h-0.7zM32.6 269.1h0.7v0.7h-0.7zM33.4 265.0h0.7v0.7h-0.7zM35.3 265.6h0.7v0.7h-0.7zM40.5 266.5h0.7v0.7h-0.7zM35.7 268.0h0.7v0.7h-0.7zM36.8 266.2h0.7v0.7h-0.7zM37.0 267.6h0.7v0.7h-0.7zM38.1 269.9h0.7v0.7h-0.7zM33.6 265.7h0.7v0.7h-0.7zM36.1 269.4h0.7v0.7h-0.7zM39.6 266.9h0.7v0.7h-0.7zM35.2 269.5h0.7v0.7h-0.7zM34.1 268.6h0.7v0.7h-0.7zM33.7 266.2h0.7v0.7h-0.7zM28.9 266.8h0.7v0.7h-0.7zM35.4 272.5h0.7v0.7h-0.7zM36.9 271.2h0.7v0.7h-0.7zM36.1 270.1h0.7v0.7h-0.7zM33.7 270.3h0.7v0.7h-0.7zM40.1 267.0h0.7v0.7h-0.7zM30.2 273.9h0.7v0.7h-0.7zM34.0 270.9h0.7v0.7h-0.7zM36.5 264.6h0.7v0.7h-0.7zM42.7 273.3h0.7v0.7h-0.7zM33.7 270.3h0.7v0.7h-0.7zM33.5 265.3h0.7v0.7h-0.7zM32.6 269.1h0.7v0.7h-0.7zM37.5 270.1h0.7v0.7h-0.7zM33.2 272.1h0.7v0.7h-0.7zM30.0 270.4h0.7v0.7h-0.7zM37.4 267.1h0.7v0.7h-0.7zM25.8 265.3h0.7v0.7h-0.7zM33.9 269.6h0.7v0.7h-0.7zM39.2 265.0h0.7v0.7h-0.7zM33.0 269.9h0.7v0.7h-0.7zM32.4 260.9h0.7v0.7h-0.7zM37.0 265.2h0.7v0.7h-0.7zM31.4 268.7h0.7v0.7h-0.7zM43.0 269.9h0.7v0.7h-0.7zM33.5 272.7h0.7v0.7h-0.7zM32.7 273.6h0.7v0.7h-0.7zM30.3 266.6h0.7v0.7h-0.7zM35.9 272.3h0.7v0.7h-0.7zM35.6 268.9h0.7v0.7h-0.7zM25.7 265.9h0.7v0.7h-0.7zM30.6 266.4h0.7v0.7h-0.7zM35.3 267.0h0.7v0.7h-0.7zM36.2 268.2h0.7v0.7h-0.7zM31.7 268.4h0.7v0.7h-0.7zM34.7 270.6h0.7v0.7h-0.7zM31.1 267.3h0.7v0.7h-0.7zM27.5 272.8h0.7v0.7h-0.7zM38.8 267.5h0.7v0.7h-0.7zM31.1 264.3h0.7v0.7h-0.7zM33.7 268.6h0.7v0.7h-0.7zM41.7 268.7h0.7v0.7h-0.7zM29.9 260.7h0.7v0.7h-0.7zM38.6 268.6h0.7v0.7h-0.7zM26.6 268.5h0.7v0.7h-0.7zM37.5 269.7h0.7v0.7h-0.7zM32.3 261.6h0.7v0.7h-0.7zM32.5 263.3h0.7v0.7h-0.7zM35.4 261.6h0.7v0.7h-0.7zM29.4 271.7h0.7v0.7h-0.7zM39.6 264.5h0.7v0.7h-0.7zM26.9 270.6h0.7v0.7h-0.7zM36.4 265.0h0.7v0.7h-0.7zM30.2 265.9h0.7v0.7h-0.7zM28.2 266.0h0.7v0.7h-0.7zM38.0 270.1h0.7v0.7h-0.7zM41.2 267.7h0.7v0.7h-0.7zM32.5 265.1h0.7v0.7h-0.7zM32.5 264.1h0.7v0.7h-0.7zM25.9 270.1h0.7v0.7h-0.7zM38.8 270.5h0.7v0.7h-0.7zM38.3 268.8h0.7v0.7h-0.7zM30.1 268.3h0.7v0.7h-0.7zM31.5 264.7h0.7v0.7h-0.7zM26.2 263.6h0.7v0.7h-0.7zM33.0 268.5h0.7v0.7h-0.7zM31.1 272.3h0.7v0.7h-0.7zM33.7 269.7h0.7v0.7h-0.7zM37.9 265.5h0.7v0.7h-0.7zM25.1 270.3h0.7v0.7h-0.7zM30.2 271.9h0.7v0.7h-0.7zM34.4 271.0h0.7v0.7h-0.7zM36.1 261.8h0.7v0.7h-0.7zM35.9 266.0h0.7v0.7h-0.7zM30.0 266.7h0.7v0.7h-0.7z" fill="#222" opacity="0.5"/>
<rect x="26.8" y="262.8" width="11.2" height="10.5" rx="3.0" fill="#111" opacity="1.0" filter="url(#b1)"/>
<rect x="28.5" y="264.5" width="7.0" height="7.300000000000011" rx="2" fill="#111" opacity="1.0" filter="url(#b05)"/>
<path d="M92.6 271.2h0.7v0.7h-0.7zM93.5 263.5h0.7v0.7h-0.7zM87.1 261.4h0.7v0.7h-0.7zM89.1 270.3h0.7v0.7h-0.7zM86.4 269.2h0.7v0.7h-0.7zM90.4 271.5h0.7v0.7h-0.7zM86.2 266.0h0.7v0.7h-0.7zM86.4 273.8h0.7v0.7h-0.7zM93.9 268.1h0.7v0.7h-0.7zM90.4 268.8h0.7v0.7h-0.7zM90.3 267.9h0.7v0.7h-0.7zM88.2 264.7h0.7v0.7h-0.7zM86.9 273.5h0.7v0.7h-0.7zM91.6 268.7h0.7v0.7h-0.7zM88.6 268.7h0.7v0.7h-0.7zM90.9 266.6h0.7v0.7h-0.7zM90.3 269.2h0.7v0.7h-0.7zM86.5 266.1h0.7v0.7h-0.7zM85.5 265.3h0.7v0.7h-0.7zM93.1 261.4h0.7v0.7h-0.7zM88.4 266.7h0.7v0.7h-0.7zM87.0 268.8h0.7v0.7h-0.7zM94.0 268.7h0.7v0.7h-0.7zM88.9 266.7h0.7v0.7h-0.7zM89.0 271.2h0.7v0.7h-0.7zM87.9 265.1h0.7v0.7h-0.7zM84.4 265.2h0.7v0.7h-0.7zM83.9 271.8h0.7v0.7h-0.7zM90.9 267.8h0.7v0.7h-0.7zM95.3 266.5h0.7v0.7h-0.7zM92.5 270.9h0.7v0.7h-0.7zM83.3 263.8h0.7v0.7h-0.7zM85.8 271.2h0.7v0.7h-0.7zM94.7 264.8h0.7v0.7h-0.7zM93.7 267.4h0.7v0.7h-0.7zM87.9 266.8h0.7v0.7h-0.7zM88.2 263.0h0.7v0.7h-0.7zM85.5 264.8h0.7v0.7h-0.7zM100.4 267.5h0.7v0.7h-0.7zM82.6 267.3h0.7v0.7h-0.7zM85.7 274.4h0.7v0.7h-0.7zM91.8 266.3h0.7v0.7h-0.7zM93.2 270.1h0.7v0.7h-0.7zM83.0 266.9h0.7v0.7h-0.7zM88.5 268.6h0.7v0.7h-0.7zM90.0 267.5h0.7v0.7h-0.7zM90.3 266.7h0.7v0.7h-0.7zM85.9 273.0h0.7v0.7h-0.7zM90.9 269.8h0.7v0.7h-0.7zM83.1 268.0h0.7v0.7h-0.7zM92.8 264.6h0.7v0.7h-0.7zM93.9 267.3h0.7v0.7h-0.7zM91.1 268.1h0.7v0.7h-0.7zM90.4 272.1h0.7v0.7h-0.7zM87.9 273.2h0.7v0.7h-0.7zM86.4 265.7h0.7v0.7h-0.7zM92.3 265.3h0.7v0.7h-0.7zM88.0 271.2h0.7v0.7h-0.7zM94.3 263.2h0.7v0.7h-0.7zM91.5 274.2h0.7v0.7h-0.7zM94.3 267.8h0.7v0.7h-0.7zM87.1 267.6h0.7v0.7h-0.7zM84.9 267.7h0.7v0.7h-0.7zM88.8 268.1h0.7v0.7h-0.7zM94.2 267.8h0.7v0.7h-0.7zM83.7 271.7h0.7v0.7h-0.7zM85.2 267.2h0.7v0.7h-0.7zM89.0 267.5h0.7v0.7h-0.7zM85.5 267.8h0.7v0.7h-0.7zM98.2 266.7h0.7v0.7h-0.7zM89.0 271.9h0.7v0.7h-0.7zM92.5 270.8h0.7v0.7h-0.7zM92.9 262.6h0.7v0.7h-0.7zM86.0 268.9h0.7v0.7h-0.7zM91.5 272.4h0.7v0.7h-0.7zM91.4 267.8h0.7v0.7h-0.7zM89.7 267.9h0.7v0.7h-0.7zM90.5 270.5h0.7v0.7h-0.7zM88.1 266.1h0.7v0.7h-0.7zM86.1 271.8h0.7v0.7h-0.7zM94.6 271.5h0.7v0.7h-0.7zM92.9 271.0h0.7v0.7h-0.7zM89.5 270.5h0.7v0.7h-0.7zM85.3 267.9h0.7v0.7h-0.7zM86.6 270.7h0.7v0.7h-0.7zM87.2 268.2h0.7v0.7h-0.7zM91.1 272.6h0.7v0.7h-0.7zM86.3 265.7h0.7v0.7h-0.7zM92.8 265.2h0.7v0.7h-0.7zM91.3 266.8h0.7v0.7h-0.7zM89.1 263.0h0.7v0.7h-0.7zM92.4 267.0h0.7v0.7h-0.7zM91.1 267.5h0.7v0.7h-0.7zM89.9 273.3h0.7v0.7h-0.7zM89.4 269.9h0.7v0.7h-0.7zM91.6 265.8h0.7v0.7h-0.7zM90.0 267.0h0.7v0.7h-0.7zM84.5 271.1h0.7v0.7h-0.7zM92.2 268.7h0.7v0.7h-0.7zM85.9 262.5h0.7v0.7h-0.7zM91.4 268.2h0.7v0.7h-0.7zM82.8 268.3h0.7v0.7h-0.7zM83.4 268.4h0.7v0.7h-0.7zM90.1 269.6h0.7v0.7h-0.7zM90.4 269.0h0.7v0.7h-0.7zM84.9 267.3h0.7v0.7h-0.7zM87.5 267.8h0.7v0.7h-0.7zM90.6 270.4h0.7v0.7h-0.7zM96.0 260.8h0.7v0.7h-0.7zM91.1 267.9h0.7v0.7h-0.7z" fill="#222" opacity="0.5"/>
<path d="M96.9 260.7h0.7v0.7h-0.7zM85.9 258.6h0.7v0.7h-0.7zM89.0 261.0h0.7v0.7h-0.7zM87.5 256.6h0.7v0.7h-0.7zM90.1 256.6h0.7v0.7h-0.7zM88.9 249.6h0.7v0.7h-0.7zM91.8 261.0h0.7v0.7h-0.7zM90.3 252.9h0.7v0.7h-0.7zM91.1 259.3h0.7v0.7h-0.7zM90.0 256.9h0.7v0.7h-0.7zM94.4 252.5h0.7v0.7h-0.7zM88.9 249.4h0.7v0.7h-0.7zM88.5 254.0h0.7v0.7h-0.7zM87.8 254.2h0.7v0.7h-0.7zM95.5 256.2h0.7v0.7h-0.7zM90.2 265.8h0.7v0.7h-0.7zM90.3 250.1h0.7v0.7h-0.7zM91.6 253.3h0.7v0.7h-0.7zM95.1 252.0h0.7v0.7h-0.7zM88.9 250.6h0.7v0.7h-0.7zM90.8 252.9h0.7v0.7h-0.7zM90.3 255.5h0.7v0.7h-0.7zM88.8 260.8h0.7v0.7h-0.7zM93.1 257.2h0.7v0.7h-0.7zM88.0 252.7h0.7v0.7h-0.7zM91.3 266.6h0.7v0.7h-0.7zM89.2 253.9h0.7v0.7h-0.7zM88.5 252.6h0.7v0.7h-0.7zM87.8 256.2h0.7v0.7h-0.7zM94.5 257.0h0.7v0.7h-0.7zM89.1 250.5h0.7v0.7h-0.7zM91.1 256.9h0.7v0.7h-0.7zM87.1 252.7h0.7v0.7h-0.7zM90.4 261.0h0.7v0.7h-0.7zM92.3 257.8h0.7v0.7h-0.7zM89.6 258.3h0.7v0.7h-0.7zM90.5 265.7h0.7v0.7h-0.7zM87.3 255.5h0.7v0.7h-0.7zM94.1 255.9h0.7v0.7h-0.7zM94.5 256.8h0.7v0.7h-0.7zM90.9 255.5h0.7v0.7h-0.7zM86.6 253.1h0.7v0.7h-0.7zM96.7 259.6h0.7v0.7h-0.7zM92.2 260.8h0.7v0.7h-0.7zM92.1 261.1h0.7v0.7h-0.7z" fill="#555" opacity="0.35"/>
<ellipse cx="90.5" cy="258" rx="2.5" ry="4" fill="#111" opacity="0.25" filter="url(#b2)"/>
<rect x="84.0" y="263.5" width="11.200000000000003" height="10.0" rx="4" fill="#111" opacity="1.0" filter="url(#b1)"/>
<rect x="85.5" y="265.0" width="8.0" height="7.0" rx="3" fill="#111" opacity="1.0" filter="url(#b05)"/>
<path d="M138.8 267.1h0.7v0.7h-0.7zM144.4 266.7h0.7v0.7h-0.7zM134.0 267.1h0.7v0.7h-0.7zM137.5 269.6h0.7v0.7h-0.7zM136.8 264.6h0.7v0.7h-0.7zM138.5 272.5h0.7v0.7h-0.7zM139.8 268.3h0.7v0.7h-0.7zM140.0 268.7h0.7v0.7h-0.7zM144.2 272.0h0.7v0.7h-0.7zM132.6 271.9h0.7v0.7h-0.7zM140.0 266.8h0.7v0.7h-0.7zM150.8 267.3h0.7v0.7h-0.7zM148.8 270.7h0.7v0.7h-0.7zM135.4 269.3h0.7v0.7h-0.7zM143.3 267.4h0.7v0.7h-0.7zM129.5 266.8h0.7v0.7h-0.7zM139.1 264.5h0.7v0.7h-0.7zM148.2 267.1h0.7v0.7h-0.7zM138.2 266.9h0.7v0.7h-0.7zM136.5 265.5h0.7v0.7h-0.7zM140.4 268.7h0.7v0.7h-0.7zM137.7 267.5h0.7v0.7h-0.7zM133.7 269.4h0.7v0.7h-0.7zM136.6 268.4h0.7v0.7h-0.7zM135.9 266.3h0.7v0.7h-0.7zM141.0 264.2h0.7v0.7h-0.7zM151.1 267.7h0.7v0.7h-0.7zM139.7 265.6h0.7v0.7h-0.7zM147.2 272.0h0.7v0.7h-0.7zM141.3 263.7h0.7v0.7h-0.7zM137.7 269.6h0.7v0.7h-0.7zM137.7 264.2h0.7v0.7h-0.7zM134.7 265.5h0.7v0.7h-0.7zM140.1 265.9h0.7v0.7h-0.7zM148.0 264.7h0.7v0.7h-0.7zM141.5 268.1h0.7v0.7h-0.7zM139.4 270.9h0.7v0.7h-0.7zM138.5 266.8h0.7v0.7h-0.7zM138.3 267.5h0.7v0.7h-0.7zM145.8 270.1h0.7v0.7h-0.7zM134.0 266.5h0.7v0.7h-0.7zM136.4 270.2h0.7v0.7h-0.7zM141.0 270.5h0.7v0.7h-0.7zM139.7 262.1h0.7v0.7h-0.7zM142.0 268.5h0.7v0.7h-0.7zM142.3 263.9h0.7v0.7h-0.7zM140.4 265.7h0.7v0.7h-0.7zM136.9 268.9h0.7v0.7h-0.7zM141.6 265.1h0.7v0.7h-0.7zM132.3 260.4h0.7v0.7h-0.7zM137.4 271.2h0.7v0.7h-0.7zM139.8 261.0h0.7v0.7h-0.7zM136.1 269.1h0.7v0.7h-0.7zM147.5 271.3h0.7v0.7h-0.7zM141.7 268.4h0.7v0.7h-0.7zM135.2 266.4h0.7v0.7h-0.7zM138.5 265.5h0.7v0.7h-0.7zM140.3 266.6h0.7v0.7h-0.7zM141.5 272.1h0.7v0.7h-0.7zM143.3 269.1h0.7v0.7h-0.7zM138.9 263.2h0.7v0.7h-0.7zM139.5 269.4h0.7v0.7h-0.7zM135.5 271.6h0.7v0.7h-0.7zM138.5 268.9h0.7v0.7h-0.7zM138.5 264.0h0.7v0.7h-0.7zM149.3 264.3h0.7v0.7h-0.7zM144.1 266.1h0.7v0.7h-0.7zM141.3 265.4h0.7v0.7h-0.7zM138.1 270.6h0.7v0.7h-0.7zM148.8 265.3h0.7v0.7h-0.7zM140.0 270.6h0.7v0.7h-0.7zM137.2 269.9h0.7v0.7h-0.7zM136.5 269.6h0.7v0.7h-0.7zM142.0 271.4h0.7v0.7h-0.7zM141.6 264.2h0.7v0.7h-0.7zM143.0 264.5h0.7v0.7h-0.7zM143.4 272.3h0.7v0.7h-0.7zM142.7 266.1h0.7v0.7h-0.7zM145.4 268.3h0.7v0.7h-0.7zM134.4 266.7h0.7v0.7h-0.7zM146.4 266.9h0.7v0.7h-0.7zM140.5 266.8h0.7v0.7h-0.7zM132.4 266.3h0.7v0.7h-0.7zM141.6 268.4h0.7v0.7h-0.7zM139.2 261.4h0.7v0.7h-0.7zM145.5 270.0h0.7v0.7h-0.7zM144.6 271.7h0.7v0.7h-0.7zM138.0 266.0h0.7v0.7h-0.7zM141.4 272.8h0.7v0.7h-0.7zM132.4 267.1h0.7v0.7h-0.7zM136.8 269.5h0.7v0.7h-0.7zM146.6 266.9h0.7v0.7h-0.7zM134.4 267.9h0.7v0.7h-0.7zM138.7 263.2h0.7v0.7h-0.7zM144.0 266.2h0.7v0.7h-0.7zM143.1 263.9h0.7v0.7h-0.7zM144.9 263.5h0.7v0.7h-0.7zM144.7 262.4h0.7v0.7h-0.7zM146.2 266.7h0.7v0.7h-0.7zM133.0 267.1h0.7v0.7h-0.7zM141.5 264.8h0.7v0.7h-0.7zM137.8 268.6h0.7v0.7h-0.7zM139.2 258.6h0.7v0.7h-0.7zM138.1 269.1h0.7v0.7h-0.7zM141.3 270.8h0.7v0.7h-0.7zM143.6 268.7h0.7v0.7h-0.7zM144.9 270.7h0.7v0.7h-0.7zM140.5 265.9h0.7v0.7h-0.7zM144.6 269.1h0.7v0.7h-0.7zM131.5 264.5h0.7v0.7h-0.7zM142.1 268.1h0.7v0.7h-0.7zM141.3 269.7h0.7v0.7h-0.7zM140.7 272.5h0.7v0.7h-0.7zM137.3 266.6h0.7v0.7h-0.7zM141.5 270.0h0.7v0.7h-0.7zM143.5 272.3h0.7v0.7h-0.7zM137.9 271.3h0.7v0.7h-0.7zM142.1 264.7h0.7v0.7h-0.7zM139.4 274.1h0.7v0.7h-0.7zM143.5 266.4h0.7v0.7h-0.7zM129.2 265.6h0.7v0.7h-0.7zM136.8 268.0h0.7v0.7h-0.7zM150.4 270.0h0.7v0.7h-0.7zM141.4 265.0h0.7v0.7h-0.7zM134.7 267.2h0.7v0.7h-0.7zM138.2 266.0h0.7v0.7h-0.7zM145.1 268.0h0.7v0.7h-0.7zM134.4 271.7h0.7v0.7h-0.7zM138.6 263.8h0.7v0.7h-0.7zM141.4 269.3h0.7v0.7h-0.7zM138.5 269.9h0.7v0.7h-0.7zM143.7 265.2h0.7v0.7h-0.7zM130.7 260.6h0.7v0.7h-0.7zM139.4 271.5h0.7v0.7h-0.7zM144.5 272.0h0.7v0.7h-0.7zM148.4 267.8h0.7v0.7h-0.7zM144.8 263.2h0.7v0.7h-0.7zM143.1 269.0h0.7v0.7h-0.7zM139.6 266.5h0.7v0.7h-0.7zM135.0 268.2h0.7v0.7h-0.7zM145.7 266.7h0.7v0.7h-0.7zM142.4 265.8h0.7v0.7h-0.7zM141.1 264.8h0.7v0.7h-0.7zM141.7 267.1h0.7v0.7h-0.7zM141.4 266.0h0.7v0.7h-0.7zM134.7 266.8h0.7v0.7h-0.7zM144.7 272.5h0.7v0.7h-0.7zM138.5 270.2h0.7v0.7h-0.7zM143.4 269.0h0.7v0.7h-0.7zM133.0 268.8h0.7v0.7h-0.7z" fill="#222" opacity="0.5"/>
<path d="M138.6 260.2h0.7v0.7h-0.7zM145.7 256.3h0.7v0.7h-0.7zM132.4 256.3h0.7v0.7h-0.7zM145.3 243.1h0.7v0.7h-0.7zM146.4 252.5h0.7v0.7h-0.7zM141.8 247.0h0.7v0.7h-0.7zM138.4 249.0h0.7v0.7h-0.7zM154.8 253.4h0.7v0.7h-0.7zM143.3 247.5h0.7v0.7h-0.7zM140.0 248.1h0.7v0.7h-0.7zM139.0 258.1h0.7v0.7h-0.7zM141.4 258.1h0.7v0.7h-0.7zM137.9 258.5h0.7v0.7h-0.7zM142.4 256.7h0.7v0.7h-0.7zM142.1 245.8h0.7v0.7h-0.7zM147.3 249.0h0.7v0.7h-0.7zM141.9 245.8h0.7v0.7h-0.7zM143.3 249.3h0.7v0.7h-0.7zM143.6 254.4h0.7v0.7h-0.7zM139.7 242.1h0.7v0.7h-0.7zM144.2 258.4h0.7v0.7h-0.7zM145.3 244.0h0.7v0.7h-0.7zM144.9 254.7h0.7v0.7h-0.7zM143.6 255.0h0.7v0.7h-0.7zM141.2 253.5h0.7v0.7h-0.7zM146.2 248.5h0.7v0.7h-0.7zM136.7 251.3h0.7v0.7h-0.7zM143.3 239.1h0.7v0.7h-0.7zM139.8 256.1h0.7v0.7h-0.7zM141.9 252.6h0.7v0.7h-0.7zM137.5 258.3h0.7v0.7h-0.7zM149.5 250.6h0.7v0.7h-0.7zM139.6 243.9h0.7v0.7h-0.7zM146.1 252.7h0.7v0.7h-0.7zM139.3 260.5h0.7v0.7h-0.7zM145.6 256.2h0.7v0.7h-0.7zM135.5 251.3h0.7v0.7h-0.7zM145.0 243.4h0.7v0.7h-0.7zM146.2 262.0h0.7v0.7h-0.7zM146.6 246.9h0.7v0.7h-0.7zM139.7 258.6h0.7v0.7h-0.7zM146.5 260.6h0.7v0.7h-0.7zM147.3 251.3h0.7v0.7h-0.7zM140.9 239.0h0.7v0.7h-0.7zM145.6 267.9h0.7v0.7h-0.7zM140.6 248.7h0.7v0.7h-0.7zM145.1 254.6h0.7v0.7h-0.7zM137.0 247.0h0.7v0.7h-0.7zM138.1 266.2h0.7v0.7h-0.7zM139.6 258.0h0.7v0.7h-0.7zM150.2 265.3h0.7v0.7h-0.7zM148.2 263.4h0.7v0.7h-0.7zM137.6 249.6h0.7v0.7h-0.7zM139.6 250.0h0.7v0.7h-0.7zM153.0 240.2h0.7v0.7h-0.7zM144.7 243.3h0.7v0.7h-0.7zM147.9 261.1h0.7v0.7h-0.7zM140.5 266.5h0.7v0.7h-0.7zM142.8 261.1h0.7v0.7h-0.7zM143.7 248.1h0.7v0.7h-0.7zM141.0 251.2h0.7v0.7h-0.7zM145.0 252.9h0.7v0.7h-0.7zM151.9 250.6h0.7v0.7h-0.7zM140.6 247.0h0.7v0.7h-0.7zM139.4 241.9h0.7v0.7h-0.7zM138.6 258.3h0.7v0.7h-0.7zM142.7 250.8h0.7v0.7h-0.7zM143.9 259.5h0.7v0.7h-0.7zM145.0 257.4h0.7v0.7h-0.7zM140.3 250.2h0.7v0.7h-0.7z" fill="#666" opacity="0.3"/>
<ellipse cx="143" cy="252" rx="4" ry="8" fill="#111" opacity="0.18" filter="url(#b2)"/>
<rect x="134.0" y="263.2" width="11.0" height="9.400000000000034" rx="4" fill="#111" opacity="0.85" filter="url(#b1)"/>
<path d="M191.5 267.1h0.7v0.7h-0.7zM191.3 266.3h0.7v0.7h-0.7zM193.9 266.8h0.7v0.7h-0.7zM193.5 265.9h0.7v0.7h-0.7zM199.8 266.4h0.7v0.7h-0.7zM190.6 268.0h0.7v0.7h-0.7zM190.2 264.2h0.7v0.7h-0.7zM194.9 262.4h0.7v0.7h-0.7zM181.7 268.3h0.7v0.7h-0.7zM198.7 262.4h0.7v0.7h-0.7zM191.0 269.1h0.7v0.7h-0.7zM186.7 264.8h0.7v0.7h-0.7zM189.8 266.8h0.7v0.7h-0.7zM186.7 270.1h0.7v0.7h-0.7zM194.0 268.3h0.7v0.7h-0.7zM193.3 261.0h0.7v0.7h-0.7zM194.0 263.4h0.7v0.7h-0.7zM194.6 264.8h0.7v0.7h-0.7zM193.3 266.8h0.7v0.7h-0.7zM197.7 269.7h0.7v0.7h-0.7zM190.6 267.4h0.7v0.7h-0.7zM200.4 268.9h0.7v0.7h-0.7zM191.7 267.0h0.7v0.7h-0.7zM193.2 270.2h0.7v0.7h-0.7zM194.7 268.5h0.7v0.7h-0.7zM203.4 263.3h0.7v0.7h-0.7zM190.5 262.2h0.7v0.7h-0.7zM188.2 270.0h0.7v0.7h-0.7zM195.8 272.3h0.7v0.7h-0.7zM186.7 264.8h0.7v0.7h-0.7zM200.4 270.5h0.7v0.7h-0.7zM198.1 270.0h0.7v0.7h-0.7zM194.7 267.4h0.7v0.7h-0.7zM194.7 269.9h0.7v0.7h-0.7zM193.9 268.4h0.7v0.7h-0.7zM200.4 264.0h0.7v0.7h-0.7zM191.6 269.1h0.7v0.7h-0.7zM193.5 266.9h0.7v0.7h-0.7zM203.0 268.6h0.7v0.7h-0.7zM192.9 270.7h0.7v0.7h-0.7zM204.7 264.1h0.7v0.7h-0.7zM191.9 267.7h0.7v0.7h-0.7zM192.1 273.9h0.7v0.7h-0.7zM196.7 266.2h0.7v0.7h-0.7zM196.6 265.0h0.7v0.7h-0.7zM192.2 267.7h0.7v0.7h-0.7zM204.2 260.6h0.7v0.7h-0.7zM196.3 271.5h0.7v0.7h-0.7zM197.6 273.2h0.7v0.7h-0.7zM196.4 267.8h0.7v0.7h-0.7zM194.1 264.8h0.7v0.7h-0.7zM201.1 263.9h0.7v0.7h-0.7zM194.1 265.8h0.7v0.7h-0.7zM191.5 260.7h0.7v0.7h-0.7zM193.1 267.8h0.7v0.7h-0.7zM195.2 269.9h0.7v0.7h-0.7zM194.0 265.5h0.7v0.7h-0.7zM195.8 269.4h0.7v0.7h-0.7zM191.0 262.8h0.7v0.7h-0.7zM190.5 270.6h0.7v0.7h-0.7zM198.6 264.7h0.7v0.7h-0.7zM195.0 269.9h0.7v0.7h-0.7zM199.9 265.4h0.7v0.7h-0.7zM193.6 271.6h0.7v0.7h-0.7zM204.2 272.0h0.7v0.7h-0.7zM190.0 268.7h0.7v0.7h-0.7zM193.4 267.2h0.7v0.7h-0.7zM191.9 266.0h0.7v0.7h-0.7zM194.6 272.8h0.7v0.7h-0.7zM197.4 268.7h0.7v0.7h-0.7zM194.7 265.1h0.7v0.7h-0.7zM193.7 271.1h0.7v0.7h-0.7zM197.9 273.3h0.7v0.7h-0.7zM195.6 267.3h0.7v0.7h-0.7zM188.1 268.6h0.7v0.7h-0.7zM187.7 272.0h0.7v0.7h-0.7zM192.1 267.4h0.7v0.7h-0.7zM189.2 265.9h0.7v0.7h-0.7zM190.9 270.8h0.7v0.7h-0.7zM195.6 263.9h0.7v0.7h-0.7zM186.9 267.2h0.7v0.7h-0.7zM192.7 264.1h0.7v0.7h-0.7zM197.0 266.8h0.7v0.7h-0.7zM195.0 265.6h0.7v0.7h-0.7zM192.3 266.0h0.7v0.7h-0.7zM188.2 269.3h0.7v0.7h-0.7zM196.2 262.2h0.7v0.7h-0.7zM195.0 270.9h0.7v0.7h-0.7zM195.5 271.3h0.7v0.7h-0.7zM193.5 267.4h0.7v0.7h-0.7zM189.4 264.7h0.7v0.7h-0.7zM187.3 264.7h0.7v0.7h-0.7zM195.6 269.0h0.7v0.7h-0.7zM199.3 267.8h0.7v0.7h-0.7zM190.6 268.7h0.7v0.7h-0.7zM194.0 272.8h0.7v0.7h-0.7zM202.4 270.3h0.7v0.7h-0.7zM190.1 265.8h0.7v0.7h-0.7zM195.4 265.3h0.7v0.7h-0.7zM196.7 269.5h0.7v0.7h-0.7zM198.0 268.1h0.7v0.7h-0.7zM191.1 264.9h0.7v0.7h-0.7zM194.1 271.4h0.7v0.7h-0.7zM200.9 270.3h0.7v0.7h-0.7zM196.1 269.4h0.7v0.7h-0.7zM197.9 271.3h0.7v0.7h-0.7zM198.0 262.8h0.7v0.7h-0.7zM198.4 268.6h0.7v0.7h-0.7zM192.8 269.0h0.7v0.7h-0.7zM195.8 267.2h0.7v0.7h-0.7zM187.8 267.7h0.7v0.7h-0.7zM196.8 267.3h0.7v0.7h-0.7zM188.2 268.8h0.7v0.7h-0.7zM197.5 267.9h0.7v0.7h-0.7zM196.3 266.3h0.7v0.7h-0.7zM192.0 269.0h0.7v0.7h-0.7zM193.2 267.9h0.7v0.7h-0.7zM207.6 269.5h0.7v0.7h-0.7zM195.1 262.5h0.7v0.7h-0.7zM195.0 269.7h0.7v0.7h-0.7zM191.8 266.7h0.7v0.7h-0.7zM185.6 269.1h0.7v0.7h-0.7zM192.2 269.5h0.7v0.7h-0.7zM200.1 266.9h0.7v0.7h-0.7zM198.5 268.2h0.7v0.7h-0.7zM193.8 266.6h0.7v0.7h-0.7zM191.2 271.3h0.7v0.7h-0.7zM198.1 264.4h0.7v0.7h-0.7zM198.0 265.2h0.7v0.7h-0.7zM188.6 271.0h0.7v0.7h-0.7z" fill="#222" opacity="0.5"/>
<path d="M189.4 257.5h0.7v0.7h-0.7zM194.5 255.2h0.7v0.7h-0.7zM195.5 257.2h0.7v0.7h-0.7zM195.0 252.6h0.7v0.7h-0.7zM194.6 256.8h0.7v0.7h-0.7zM192.5 256.1h0.7v0.7h-0.7zM198.9 247.5h0.7v0.7h-0.7zM195.3 243.9h0.7v0.7h-0.7zM192.8 250.1h0.7v0.7h-0.7zM192.6 240.9h0.7v0.7h-0.7zM193.7 249.5h0.7v0.7h-0.7zM194.9 253.7h0.7v0.7h-0.7zM187.8 259.3h0.7v0.7h-0.7zM193.2 241.8h0.7v0.7h-0.7zM192.5 251.5h0.7v0.7h-0.7zM196.8 245.1h0.7v0.7h-0.7zM194.3 235.2h0.7v0.7h-0.7zM194.4 247.1h0.7v0.7h-0.7zM192.3 255.1h0.7v0.7h-0.7zM199.9 256.3h0.7v0.7h-0.7zM191.1 260.2h0.7v0.7h-0.7zM192.7 247.7h0.7v0.7h-0.7zM191.8 251.6h0.7v0.7h-0.7zM195.7 249.2h0.7v0.7h-0.7zM193.1 246.9h0.7v0.7h-0.7zM192.4 255.8h0.7v0.7h-0.7zM192.0 246.8h0.7v0.7h-0.7zM193.1 242.0h0.7v0.7h-0.7zM193.0 236.3h0.7v0.7h-0.7zM195.2 252.3h0.7v0.7h-0.7zM192.8 260.4h0.7v0.7h-0.7zM191.0 252.4h0.7v0.7h-0.7zM195.4 243.7h0.7v0.7h-0.7zM193.0 255.1h0.7v0.7h-0.7zM194.0 250.3h0.7v0.7h-0.7zM198.5 249.7h0.7v0.7h-0.7zM188.1 242.1h0.7v0.7h-0.7zM196.6 247.0h0.7v0.7h-0.7zM190.1 232.3h0.7v0.7h-0.7zM194.9 260.0h0.7v0.7h-0.7zM189.6 230.7h0.7v0.7h-0.7zM195.5 243.7h0.7v0.7h-0.7zM192.8 245.4h0.7v0.7h-0.7zM190.7 251.5h0.7v0.7h-0.7zM196.9 250.9h0.7v0.7h-0.7zM191.9 256.3h0.7v0.7h-0.7zM193.4 252.6h0.7v0.7h-0.7zM190.6 253.2h0.7v0.7h-0.7zM196.3 258.3h0.7v0.7h-0.7zM193.9 251.5h0.7v0.7h-0.7zM191.9 255.0h0.7v0.7h-0.7zM196.4 256.6h0.7v0.7h-0.7zM192.5 238.3h0.7v0.7h-0.7zM193.6 246.4h0.7v0.7h-0.7zM191.3 252.8h0.7v0.7h-0.7zM197.0 251.1h0.7v0.7h-0.7zM197.5 251.1h0.7v0.7h-0.7zM190.5 243.4h0.7v0.7h-0.7zM192.6 253.4h0.7v0.7h-0.7zM196.9 249.1h0.7v0.7h-0.7zM197.2 241.5h0.7v0.7h-0.7zM193.4 259.8h0.7v0.7h-0.7zM195.3 256.3h0.7v0.7h-0.7zM187.5 234.8h0.7v0.7h-0.7zM190.9 256.0h0.7v0.7h-0.7zM199.3 243.1h0.7v0.7h-0.7zM190.5 240.0h0.7v0.7h-0.7zM190.8 252.4h0.7v0.7h-0.7zM192.8 262.8h0.7v0.7h-0.7zM196.2 242.6h0.7v0.7h-0.7zM194.6 246.8h0.7v0.7h-0.7zM196.5 255.2h0.7v0.7h-0.7zM192.6 255.1h0.7v0.7h-0.7zM195.7 247.3h0.7v0.7h-0.7zM194.7 253.4h0.7v0.7h-0.7zM192.7 242.7h0.7v0.7h-0.7zM198.1 248.1h0.7v0.7h-0.7zM191.8 251.7h0.7v0.7h-0.7zM188.9 248.5h0.7v0.7h-0.7zM189.3 244.7h0.7v0.7h-0.7zM187.8 242.4h0.7v0.7h-0.7zM196.8 246.6h0.7v0.7h-0.7zM189.8 261.7h0.7v0.7h-0.7zM191.7 259.7h0.7v0.7h-0.7zM192.1 236.5h0.7v0.7h-0.7zM200.0 244.6h0.7v0.7h-0.7zM196.4 257.4h0.7v0.7h-0.7zM189.4 248.6h0.7v0.7h-0.7zM191.9 252.8h0.7v0.7h-0.7zM193.8 238.1h0.7v0.7h-0.7zM194.0 254.0h0.7v0.7h-0.7zM192.8 252.5h0.7v0.7h-0.7zM192.0 247.6h0.7v0.7h-0.7zM195.0 249.2h0.7v0.7h-0.7zM198.1 255.5h0.7v0.7h-0.7zM196.6 253.7h0.7v0.7h-0.7zM194.3 238.9h0.7v0.7h-0.7zM197.4 261.7h0.7v0.7h-0.7zM194.6 246.1h0.7v0.7h-0.7zM193.7 257.5h0.7v0.7h-0.7zM194.8 240.4h0.7v0.7h-0.7zM193.3 242.0h0.7v0.7h-0.7zM193.2 241.0h0.7v0.7h-0.7zM190.9 259.7h0.7v0.7h-0.7zM197.3 235.5h0.7v0.7h-0.7zM190.6 244.6h0.7v0.7h-0.7zM192.5 237.2h0.7v0.7h-0.7zM196.8 235.4h0.7v0.7h-0.7zM196.1 253.5h0.7v0.7h-0.7zM192.6 242.9h0.7v0.7h-0.7zM194.0 249.2h0.7v0.7h-0.7zM186.9 238.3h0.7v0.7h-0.7zM195.6 247.2h0.7v0.7h-0.7zM192.4 240.3h0.7v0.7h-0.7zM191.5 242.1h0.7v0.7h-0.7zM203.1 238.3h0.7v0.7h-0.7zM198.9 251.8h0.7v0.7h-0.7zM194.5 249.6h0.7v0.7h-0.7zM192.6 260.6h0.7v0.7h-0.7zM195.5 247.8h0.7v0.7h-0.7zM193.4 249.6h0.7v0.7h-0.7zM190.0 245.6h0.7v0.7h-0.7zM191.8 252.9h0.7v0.7h-0.7zM195.8 233.5h0.7v0.7h-0.7zM193.1 255.8h0.7v0.7h-0.7zM189.5 238.8h0.7v0.7h-0.7zM197.2 247.1h0.7v0.7h-0.7zM192.3 238.6h0.7v0.7h-0.7zM194.4 243.7h0.7v0.7h-0.7zM194.5 251.4h0.7v0.7h-0.7zM196.2 245.5h0.7v0.7h-0.7zM192.1 248.3h0.7v0.7h-0.7zM193.5 249.4h0.7v0.7h-0.7zM192.1 246.2h0.7v0.7h-0.7zM191.9 243.5h0.7v0.7h-0.7zM194.3 257.1h0.7v0.7h-0.7zM192.0 252.6h0.7v0.7h-0.7zM195.0 248.9h0.7v0.7h-0.7zM196.1 243.7h0.7v0.7h-0.7zM195.7 250.4h0.7v0.7h-0.7zM182.2 250.8h0.7v0.7h-0.7zM195.8 263.4h0.7v0.7h-0.7zM190.3 248.8h0.7v0.7h-0.7zM195.0 240.5h0.7v0.7h-0.7zM197.8 251.6h0.7v0.7h-0.7zM191.2 238.7h0.7v0.7h-0.7zM192.4 266.6h0.7v0.7h-0.7zM201.0 228.7h0.7v0.7h-0.7zM187.8 253.3h0.7v0.7h-0.7zM193.5 243.1h0.7v0.7h-0.7zM195.8 248.8h0.7v0.7h-0.7zM194.8 250.1h0.7v0.7h-0.7zM190.2 258.4h0.7v0.7h-0.7zM192.3 256.9h0.7v0.7h-0.7zM196.1 248.4h0.7v0.7h-0.7zM194.3 247.7h0.7v0.7h-0.7zM187.7 245.5h0.7v0.7h-0.7zM195.3 235.4h0.7v0.7h-0.7zM188.9 256.5h0.7v0.7h-0.7zM196.5 235.9h0.7v0.7h-0.7zM195.4 247.7h0.7v0.7h-0.7zM197.1 245.5h0.7v0.7h-0.7zM193.1 242.2h0.7v0.7h-0.7zM194.4 247.1h0.7v0.7h-0.7zM191.6 245.3h0.7v0.7h-0.7zM191.3 253.0h0.7v0.7h-0.7zM190.4 235.8h0.7v0.7h-0.7zM190.6 256.6h0.7v0.7h-0.7zM192.1 253.1h0.7v0.7h-0.7zM196.3 244.0h0.7v0.7h-0.7z" fill="#555" opacity="0.42"/>
<ellipse cx="193.8" cy="249" rx="3.6" ry="9" fill="#111" opacity="0.28" filter="url(#b2)"/>
<rect x="189.0" y="262.8" width="11.400000000000006" height="9.800000000000011" rx="3.5" fill="#111" opacity="1.0" filter="url(#b1)"/>
<rect x="190.5" y="264.0" width="8.0" height="7.5" rx="2.5" fill="#111" opacity="1.0" filter="url(#b05)"/>
<text x="19.0" y="74.9" font-size="6.6" font-weight="bold" fill="#111" stroke="#111" stroke-width="0.22">CD38</text>
<text x="17.6" y="143.6" font-size="6.8" font-weight="bold" fill="#111" stroke="#111" stroke-width="0.22">CD138</text>
<text x="13.6" y="213.4" font-size="6.7" font-weight="bold" fill="#111" stroke="#111" stroke-width="0.22">CD27</text>
<text x="16.0" y="287.2" font-size="6.7" font-weight="bold" fill="#111" stroke="#111" stroke-width="0.22">CD19</text>
<line x1="38.7" y1="71.5" x2="219.20000000000002" y2="71.5" stroke="#111" stroke-width="1.5"/>
<path d="M218.70000000000002,69.6 L222.3,71.5 L218.70000000000002,73.4 Z" fill="#111"/>
<line x1="43.8" y1="141.7" x2="219.20000000000002" y2="141.7" stroke="#111" stroke-width="1.5"/>
<path d="M218.70000000000002,139.79999999999998 L222.3,141.7 L218.70000000000002,143.6 Z" fill="#111"/>
<line x1="34.2" y1="210.9" x2="219.5" y2="210.9" stroke="#111" stroke-width="1.5"/>
<path d="M219.0,209.0 L222.6,210.9 L219.0,212.8 Z" fill="#111"/>
<line x1="39.8" y1="284.7" x2="219.9" y2="284.7" stroke="#111" stroke-width="1.5"/>
<path d="M219.4,282.8 L223.0,284.7 L219.4,286.59999999999997 Z" fill="#111"/>
<line x1="2.6" y1="21.3" x2="2.6" y2="174.5" stroke="#111" stroke-width="1.3"/>
<path d="M0.9000000000000001,21.8 L2.6,18.2 L4.3,21.8 Z" fill="#111"/>
<text x="5.1" y="208.3" font-size="6.5" font-weight="bold" fill="#111" transform="rotate(-90 5.1 208.3)" stroke="#111" stroke-width="0.22">Cell count</text>
<line x1="2.4" y1="227.29999999999998" x2="2.4" y2="254.8" stroke="#111" stroke-width="1.3"/>
<path d="M0.7,227.79999999999998 L2.4,224.2 L4.1,227.79999999999998 Z" fill="#111"/>
<text x="4.9" y="271.0" font-size="6.6" font-weight="bold" fill="#111" transform="rotate(-90 4.9 271.0)" stroke="#111" stroke-width="0.22">IL-10</text>
<text x="277.2" y="18.0" font-size="10.3" text-anchor="middle" fill="#111" stroke="#111" stroke-width="0.25">D1</text>
<text x="328.2" y="18.0" font-size="10.3" text-anchor="middle" fill="#111" stroke="#111" stroke-width="0.25">D4</text>
<text x="379.8" y="18.0" font-size="10.3" text-anchor="middle" fill="#111" stroke="#111" stroke-width="0.25">D7</text>
<text x="432.8" y="18.0" font-size="10.3" text-anchor="middle" fill="#111" stroke="#111" stroke-width="0.25">D10</text>
<rect x="258.80" y="25.80" width="37.20" height="37.00" fill="none" stroke="#a8a8a8" stroke-width="0.6"/>
<line x1="277.1" y1="25.8" x2="277.1" y2="62.8" stroke="#b0b0b0" stroke-width="0.6"/>
<line x1="258.8" y1="44.4" x2="296.0" y2="44.4" stroke="#b8b8b8" stroke-width="0.6"/>
<text x="256.40000000000003" y="30.8" font-size="2.6" text-anchor="middle" fill="#aaa">10</text>
<text x="256.40000000000003" y="37.8" font-size="2.6" text-anchor="middle" fill="#aaa">10</text>
<text x="256.40000000000003" y="44.8" font-size="2.6" text-anchor="middle" fill="#aaa">10</text>
<text x="256.40000000000003" y="51.8" font-size="2.6" text-anchor="middle" fill="#aaa">10</text>
<text x="256.40000000000003" y="58.8" font-size="2.6" text-anchor="middle" fill="#aaa">10</text>
<path d="M263.5,66.6 L265.7,63.6" stroke="#aaa" stroke-width="0.7" fill="none"/>
<path d="M270.8,66.6 L273.0,63.6" stroke="#aaa" stroke-width="0.7" fill="none"/>
<path d="M278.1,66.6 L280.3,63.6" stroke="#aaa" stroke-width="0.7" fill="none"/>
<path d="M285.4,66.6 L287.6,63.6" stroke="#aaa" stroke-width="0.7" fill="none"/>
<path d="M292.7,66.6 L294.9,63.6" stroke="#aaa" stroke-width="0.7" fill="none"/>
<rect x="310.40" y="25.80" width="38.00" height="37.00" fill="none" stroke="#a8a8a8" stroke-width="0.6"/>
<line x1="329.1" y1="25.8" x2="329.1" y2="62.8" stroke="#b0b0b0" stroke-width="0.6"/>
<text x="308.0" y="30.8" font-size="2.6" text-anchor="middle" fill="#aaa">10</text>
<text x="308.0" y="37.8" font-size="2.6" text-anchor="middle" fill="#aaa">10</text>
<text x="308.0" y="44.8" font-size="2.6" text-anchor="middle" fill="#aaa">10</text>
<text x="308.0" y="51.8" font-size="2.6" text-anchor="middle" fill="#aaa">10</text>
<text x="308.0" y="58.8" font-size="2.6" text-anchor="middle" fill="#aaa">10</text>
<path d="M315.1,66.6 L317.3,63.6" stroke="#aaa" stroke-width="0.7" fill="none"/>
<path d="M322.6,66.6 L324.8,63.6" stroke="#aaa" stroke-width="0.7" fill="none"/>
<path d="M330.1,66.6 L332.3,63.6" stroke="#aaa" stroke-width="0.7" fill="none"/>
<path d="M337.6,66.6 L339.8,63.6" stroke="#aaa" stroke-width="0.7" fill="none"/>
<path d="M345.1,66.6 L347.3,63.6" stroke="#aaa" stroke-width="0.7" fill="none"/>
<rect x="361.40" y="25.80" width="38.40" height="37.00" fill="none" stroke="#a8a8a8" stroke-width="0.6"/>
<line x1="382.5" y1="25.8" x2="382.5" y2="62.8" stroke="#d0d0d0" stroke-width="0.6"/>
<text x="359.0" y="30.8" font-size="2.6" text-anchor="middle" fill="#aaa">10</text>
<text x="359.0" y="37.8" font-size="2.6" text-anchor="middle" fill="#aaa">10</text>
<text x="359.0" y="44.8" font-size="2.6" text-anchor="middle" fill="#aaa">10</text>
<text x="359.0" y="51.8" font-size="2.6" text-anchor="middle" fill="#aaa">10</text>
<text x="359.0" y="58.8" font-size="2.6" text-anchor="middle" fill="#aaa">10</text>
<path d="M366.1,66.6 L368.3,63.6" stroke="#aaa" stroke-width="0.7" fill="none"/>
<path d="M373.7,66.6 L375.9,63.6" stroke="#aaa" stroke-width="0.7" fill="none"/>
<path d="M381.3,66.6 L383.5,63.6" stroke="#aaa" stroke-width="0.7" fill="none"/>
<path d="M388.9,66.6 L391.1,63.6" stroke="#aaa" stroke-width="0.7" fill="none"/>
<path d="M396.5,66.6 L398.7,63.6" stroke="#aaa" stroke-width="0.7" fill="none"/>
<rect x="414.80" y="25.80" width="37.40" height="37.00" fill="none" stroke="#a8a8a8" stroke-width="0.6"/>
<line x1="434.2" y1="25.8" x2="434.2" y2="62.8" stroke="#b0b0b0" stroke-width="0.6"/>
<line x1="414.8" y1="45.4" x2="452.2" y2="45.4" stroke="#b8b8b8" stroke-width="0.6"/>
<text x="412.40000000000003" y="30.8" font-size="2.6" text-anchor="middle" fill="#aaa">10</text>
<text x="412.40000000000003" y="37.8" font-size="2.6" text-anchor="middle" fill="#aaa">10</text>
<text x="412.40000000000003" y="44.8" font-size="2.6" text-anchor="middle" fill="#aaa">10</text>
<text x="412.40000000000003" y="51.8" font-size="2.6" text-anchor="middle" fill="#aaa">10</text>
<text x="412.40000000000003" y="58.8" font-size="2.6" text-anchor="middle" fill="#aaa">10</text>
<path d="M419.5,66.6 L421.7,63.6" stroke="#aaa" stroke-width="0.7" fill="none"/>
<path d="M426.8,66.6 L429.0,63.6" stroke="#aaa" stroke-width="0.7" fill="none"/>
<path d="M434.2,66.6 L436.4,63.6" stroke="#aaa" stroke-width="0.7" fill="none"/>
<path d="M441.6,66.6 L443.8,63.6" stroke="#aaa" stroke-width="0.7" fill="none"/>
<path d="M448.9,66.6 L451.1,63.6" stroke="#aaa" stroke-width="0.7" fill="none"/>
<path d="M276.1 49.6h0.7v0.7h-0.7zM272.8 44.2h0.7v0.7h-0.7zM272.8 42.3h0.7v0.7h-0.7zM271.9 44.1h0.7v0.7h-0.7zM274.8 48.5h0.7v0.7h-0.7zM270.4 48.1h0.7v0.7h-0.7zM278.0 49.0h0.7v0.7h-0.7zM270.0 46.8h0.7v0.7h-0.7zM262.9 40.1h0.7v0.7h-0.7zM275.4 54.1h0.7v0.7h-0.7zM270.0 50.1h0.7v0.7h-0.7zM282.7 57.0h0.7v0.7h-0.7zM263.3 45.7h0.7v0.7h-0.7zM273.8 50.2h0.7v0.7h-0.7zM272.3 44.2h0.7v0.7h-0.7zM272.1 51.0h0.7v0.7h-0.7zM276.5 47.1h0.7v0.7h-0.7zM274.6 50.1h0.7v0.7h-0.7zM275.4 47.5h0.7v0.7h-0.7zM270.3 42.9h0.7v0.7h-0.7zM271.2 43.9h0.7v0.7h-0.7zM266.5 38.9h0.7v0.7h-0.7zM276.7 44.5h0.7v0.7h-0.7zM267.6 43.9h0.7v0.7h-0.7zM279.0 53.4h0.7v0.7h-0.7zM271.3 42.4h0.7v0.7h-0.7zM270.8 42.5h0.7v0.7h-0.7zM270.7 47.0h0.7v0.7h-0.7zM268.6 42.0h0.7v0.7h-0.7zM271.9 45.9h0.7v0.7h-0.7zM269.8 42.5h0.7v0.7h-0.7zM268.3 41.9h0.7v0.7h-0.7zM275.2 46.7h0.7v0.7h-0.7zM260.0 42.7h0.7v0.7h-0.7zM272.7 43.5h0.7v0.7h-0.7zM271.9 36.1h0.7v0.7h-0.7zM266.1 47.2h0.7v0.7h-0.7zM281.9 57.7h0.7v0.7h-0.7zM269.9 45.2h0.7v0.7h-0.7zM276.3 44.0h0.7v0.7h-0.7zM280.3 47.4h0.7v0.7h-0.7zM274.5 43.4h0.7v0.7h-0.7zM274.5 47.1h0.7v0.7h-0.7zM277.5 44.8h0.7v0.7h-0.7zM273.0 52.5h0.7v0.7h-0.7zM268.0 45.4h0.7v0.7h-0.7zM274.8 45.7h0.7v0.7h-0.7zM271.9 50.6h0.7v0.7h-0.7zM277.8 50.5h0.7v0.7h-0.7zM274.1 43.3h0.7v0.7h-0.7zM273.4 52.6h0.7v0.7h-0.7zM277.4 44.0h0.7v0.7h-0.7zM264.3 40.4h0.7v0.7h-0.7zM273.7 45.0h0.7v0.7h-0.7zM271.7 47.0h0.7v0.7h-0.7zM276.8 48.9h0.7v0.7h-0.7zM278.3 44.2h0.7v0.7h-0.7zM275.0 48.8h0.7v0.7h-0.7zM266.8 47.8h0.7v0.7h-0.7zM266.3 38.7h0.7v0.7h-0.7zM284.2 55.8h0.7v0.7h-0.7zM274.6 51.7h0.7v0.7h-0.7zM277.8 45.0h0.7v0.7h-0.7zM275.0 52.0h0.7v0.7h-0.7zM272.3 46.4h0.7v0.7h-0.7zM271.0 48.0h0.7v0.7h-0.7zM270.7 43.5h0.7v0.7h-0.7zM267.8 41.1h0.7v0.7h-0.7zM273.9 48.5h0.7v0.7h-0.7zM271.4 42.3h0.7v0.7h-0.7zM274.4 48.3h0.7v0.7h-0.7zM278.4 47.3h0.7v0.7h-0.7zM271.3 47.4h0.7v0.7h-0.7zM279.4 49.2h0.7v0.7h-0.7zM272.7 43.2h0.7v0.7h-0.7zM271.4 48.9h0.7v0.7h-0.7zM276.6 51.8h0.7v0.7h-0.7zM266.1 46.1h0.7v0.7h-0.7zM269.1 46.7h0.7v0.7h-0.7zM263.0 41.7h0.7v0.7h-0.7zM269.3 49.0h0.7v0.7h-0.7zM273.5 51.0h0.7v0.7h-0.7zM271.1 52.2h0.7v0.7h-0.7zM271.1 51.9h0.7v0.7h-0.7zM270.9 42.3h0.7v0.7h-0.7zM276.8 46.9h0.7v0.7h-0.7zM272.8 41.9h0.7v0.7h-0.7zM271.5 46.2h0.7v0.7h-0.7zM270.0 46.5h0.7v0.7h-0.7zM263.3 45.1h0.7v0.7h-0.7zM271.3 50.6h0.7v0.7h-0.7zM271.5 43.7h0.7v0.7h-0.7zM271.1 46.6h0.7v0.7h-0.7zM275.5 46.1h0.7v0.7h-0.7zM269.6 46.4h0.7v0.7h-0.7zM276.5 42.3h0.7v0.7h-0.7zM268.6 42.3h0.7v0.7h-0.7zM280.3 53.9h0.7v0.7h-0.7zM276.4 49.7h0.7v0.7h-0.7zM268.3 48.1h0.7v0.7h-0.7zM271.1 43.0h0.7v0.7h-0.7zM281.2 45.4h0.7v0.7h-0.7zM278.9 49.8h0.7v0.7h-0.7zM269.1 45.3h0.7v0.7h-0.7zM269.4 45.5h0.7v0.7h-0.7zM270.3 41.3h0.7v0.7h-0.7zM284.3 49.9h0.7v0.7h-0.7zM277.2 48.2h0.7v0.7h-0.7zM275.9 43.6h0.7v0.7h-0.7zM268.6 33.6h0.7v0.7h-0.7zM277.3 49.9h0.7v0.7h-0.7zM268.0 47.0h0.7v0.7h-0.7zM275.5 57.4h0.7v0.7h-0.7zM274.0 50.0h0.7v0.7h-0.7zM275.6 50.3h0.7v0.7h-0.7zM272.9 45.1h0.7v0.7h-0.7zM276.0 52.0h0.7v0.7h-0.7zM268.1 40.5h0.7v0.7h-0.7zM272.8 52.4h0.7v0.7h-0.7zM272.1 40.5h0.7v0.7h-0.7z" fill="#222" opacity="0.5"/>
<path d="M276.7 51.6h0.7v0.7h-0.7zM284.8 48.2h0.7v0.7h-0.7zM285.0 42.6h0.7v0.7h-0.7zM277.4 47.8h0.7v0.7h-0.7zM262.6 45.3h0.7v0.7h-0.7zM280.5 53.8h0.7v0.7h-0.7zM268.3 53.8h0.7v0.7h-0.7zM277.4 52.5h0.7v0.7h-0.7zM273.1 48.9h0.7v0.7h-0.7zM265.2 46.6h0.7v0.7h-0.7zM271.9 42.6h0.7v0.7h-0.7zM269.0 48.0h0.7v0.7h-0.7zM272.5 53.4h0.7v0.7h-0.7zM263.7 44.6h0.7v0.7h-0.7zM272.9 44.7h0.7v0.7h-0.7zM273.4 44.2h0.7v0.7h-0.7zM279.4 45.6h0.7v0.7h-0.7zM263.0 51.6h0.7v0.7h-0.7zM282.8 35.3h0.7v0.7h-0.7zM270.1 47.5h0.7v0.7h-0.7zM278.4 56.1h0.7v0.7h-0.7zM269.9 37.6h0.7v0.7h-0.7zM275.8 53.1h0.7v0.7h-0.7zM274.3 47.5h0.7v0.7h-0.7zM262.5 37.9h0.7v0.7h-0.7zM278.0 48.8h0.7v0.7h-0.7zM275.8 49.2h0.7v0.7h-0.7zM283.0 55.7h0.7v0.7h-0.7zM267.1 53.1h0.7v0.7h-0.7zM262.7 36.7h0.7v0.7h-0.7zM279.6 44.4h0.7v0.7h-0.7zM266.3 50.1h0.7v0.7h-0.7zM270.6 42.4h0.7v0.7h-0.7zM266.0 51.7h0.7v0.7h-0.7zM264.5 47.8h0.7v0.7h-0.7zM264.1 49.8h0.7v0.7h-0.7zM283.7 50.5h0.7v0.7h-0.7zM278.9 49.8h0.7v0.7h-0.7zM264.2 45.2h0.7v0.7h-0.7zM271.5 49.7h0.7v0.7h-0.7zM266.8 50.8h0.7v0.7h-0.7zM266.0 47.4h0.7v0.7h-0.7zM271.0 40.1h0.7v0.7h-0.7zM278.1 47.3h0.7v0.7h-0.7zM271.8 46.8h0.7v0.7h-0.7zM264.7 53.1h0.7v0.7h-0.7zM267.0 50.7h0.7v0.7h-0.7zM263.8 41.9h0.7v0.7h-0.7zM267.7 53.5h0.7v0.7h-0.7zM259.3 46.0h0.7v0.7h-0.7zM273.9 47.9h0.7v0.7h-0.7zM270.9 51.8h0.7v0.7h-0.7zM273.1 40.9h0.7v0.7h-0.7zM275.5 42.3h0.7v0.7h-0.7zM268.6 55.8h0.7v0.7h-0.7zM288.3 55.8h0.7v0.7h-0.7zM274.1 42.3h0.7v0.7h-0.7zM265.7 57.1h0.7v0.7h-0.7zM273.4 38.6h0.7v0.7h-0.7zM282.1 50.6h0.7v0.7h-0.7z" fill="#555" opacity="0.3"/>
<ellipse cx="273.2" cy="46.8" rx="5.2" ry="3.8" fill="#111" opacity="0.9" filter="url(#b1)" transform="rotate(40 273.2 46.8)"/>
<path d="M332.9 50.7h0.7v0.7h-0.7zM316.1 43.2h0.7v0.7h-0.7zM325.8 46.9h0.7v0.7h-0.7zM333.9 43.6h0.7v0.7h-0.7zM326.1 47.7h0.7v0.7h-0.7zM326.1 41.3h0.7v0.7h-0.7zM320.6 31.1h0.7v0.7h-0.7zM328.1 46.7h0.7v0.7h-0.7zM327.5 41.1h0.7v0.7h-0.7zM326.5 41.7h0.7v0.7h-0.7zM321.6 50.2h0.7v0.7h-0.7zM329.6 51.9h0.7v0.7h-0.7zM326.3 45.5h0.7v0.7h-0.7zM333.3 56.2h0.7v0.7h-0.7zM323.5 40.9h0.7v0.7h-0.7zM328.3 50.1h0.7v0.7h-0.7zM316.4 42.6h0.7v0.7h-0.7zM327.7 54.5h0.7v0.7h-0.7zM317.6 45.2h0.7v0.7h-0.7zM333.5 57.3h0.7v0.7h-0.7zM325.3 48.3h0.7v0.7h-0.7zM322.2 50.6h0.7v0.7h-0.7zM321.5 34.7h0.7v0.7h-0.7zM319.2 48.4h0.7v0.7h-0.7zM320.1 55.3h0.7v0.7h-0.7zM332.7 54.6h0.7v0.7h-0.7zM329.7 55.5h0.7v0.7h-0.7zM327.8 53.7h0.7v0.7h-0.7zM328.8 53.2h0.7v0.7h-0.7zM321.6 43.7h0.7v0.7h-0.7zM321.7 53.5h0.7v0.7h-0.7zM329.0 42.9h0.7v0.7h-0.7zM321.8 44.3h0.7v0.7h-0.7zM330.7 47.3h0.7v0.7h-0.7zM325.4 43.5h0.7v0.7h-0.7zM326.0 58.5h0.7v0.7h-0.7zM323.2 45.7h0.7v0.7h-0.7zM334.7 52.8h0.7v0.7h-0.7zM321.0 55.2h0.7v0.7h-0.7zM320.4 51.7h0.7v0.7h-0.7zM314.3 41.5h0.7v0.7h-0.7zM331.0 44.1h0.7v0.7h-0.7zM323.0 48.4h0.7v0.7h-0.7zM326.5 45.0h0.7v0.7h-0.7zM323.3 59.8h0.7v0.7h-0.7zM333.8 50.2h0.7v0.7h-0.7zM321.0 44.6h0.7v0.7h-0.7zM325.1 51.2h0.7v0.7h-0.7zM334.3 44.6h0.7v0.7h-0.7zM327.2 45.2h0.7v0.7h-0.7zM327.2 43.5h0.7v0.7h-0.7zM328.4 55.6h0.7v0.7h-0.7zM324.6 45.9h0.7v0.7h-0.7zM327.1 39.4h0.7v0.7h-0.7zM335.3 39.3h0.7v0.7h-0.7zM324.8 42.3h0.7v0.7h-0.7zM333.8 44.9h0.7v0.7h-0.7zM324.1 60.4h0.7v0.7h-0.7zM326.0 43.0h0.7v0.7h-0.7zM326.5 49.3h0.7v0.7h-0.7zM322.9 46.8h0.7v0.7h-0.7zM325.5 52.8h0.7v0.7h-0.7zM330.2 53.5h0.7v0.7h-0.7zM325.9 53.3h0.7v0.7h-0.7zM325.5 55.6h0.7v0.7h-0.7zM328.5 45.3h0.7v0.7h-0.7zM332.5 38.1h0.7v0.7h-0.7zM321.9 42.8h0.7v0.7h-0.7zM325.9 40.0h0.7v0.7h-0.7zM320.7 35.7h0.7v0.7h-0.7zM327.1 43.0h0.7v0.7h-0.7zM337.1 53.1h0.7v0.7h-0.7zM321.0 56.7h0.7v0.7h-0.7zM327.0 55.1h0.7v0.7h-0.7zM321.2 55.6h0.7v0.7h-0.7zM331.8 45.3h0.7v0.7h-0.7zM322.4 45.6h0.7v0.7h-0.7zM335.3 57.9h0.7v0.7h-0.7zM325.5 45.9h0.7v0.7h-0.7zM328.3 46.3h0.7v0.7h-0.7zM324.3 46.7h0.7v0.7h-0.7zM330.6 47.6h0.7v0.7h-0.7zM327.7 46.3h0.7v0.7h-0.7zM325.6 45.9h0.7v0.7h-0.7zM332.6 49.6h0.7v0.7h-0.7zM333.8 46.9h0.7v0.7h-0.7zM331.7 39.0h0.7v0.7h-0.7zM324.6 47.7h0.7v0.7h-0.7zM323.5 47.3h0.7v0.7h-0.7zM322.1 47.0h0.7v0.7h-0.7zM323.3 48.0h0.7v0.7h-0.7zM325.1 41.5h0.7v0.7h-0.7zM324.6 48.2h0.7v0.7h-0.7zM320.4 48.7h0.7v0.7h-0.7zM332.6 46.6h0.7v0.7h-0.7zM329.2 52.1h0.7v0.7h-0.7zM322.7 56.7h0.7v0.7h-0.7zM338.7 41.3h0.7v0.7h-0.7zM336.9 43.4h0.7v0.7h-0.7zM333.6 36.2h0.7v0.7h-0.7zM332.0 49.0h0.7v0.7h-0.7zM320.3 42.7h0.7v0.7h-0.7zM321.5 42.2h0.7v0.7h-0.7zM328.4 46.9h0.7v0.7h-0.7zM314.4 46.0h0.7v0.7h-0.7zM328.8 48.6h0.7v0.7h-0.7zM334.7 36.0h0.7v0.7h-0.7zM327.7 48.2h0.7v0.7h-0.7zM330.0 39.3h0.7v0.7h-0.7zM320.2 46.9h0.7v0.7h-0.7z" fill="#333" opacity="0.45"/>
<path d="M326.2 46.6h0.7v0.7h-0.7zM326.9 52.0h0.7v0.7h-0.7zM327.9 44.1h0.7v0.7h-0.7zM327.3 49.3h0.7v0.7h-0.7zM324.8 54.4h0.7v0.7h-0.7zM330.3 52.5h0.7v0.7h-0.7zM325.7 56.0h0.7v0.7h-0.7zM323.8 51.6h0.7v0.7h-0.7zM324.7 49.1h0.7v0.7h-0.7zM326.5 58.2h0.7v0.7h-0.7zM326.6 53.5h0.7v0.7h-0.7zM325.9 55.4h0.7v0.7h-0.7zM326.5 49.4h0.7v0.7h-0.7zM326.3 56.4h0.7v0.7h-0.7zM325.8 55.6h0.7v0.7h-0.7zM325.8 58.1h0.7v0.7h-0.7zM326.7 54.0h0.7v0.7h-0.7zM325.3 54.5h0.7v0.7h-0.7zM325.4 47.6h0.7v0.7h-0.7zM326.8 48.4h0.7v0.7h-0.7zM329.7 54.4h0.7v0.7h-0.7zM326.1 54.1h0.7v0.7h-0.7zM319.5 56.7h0.7v0.7h-0.7zM324.4 54.0h0.7v0.7h-0.7zM332.5 47.1h0.7v0.7h-0.7zM325.0 53.1h0.7v0.7h-0.7zM327.1 46.9h0.7v0.7h-0.7zM323.7 56.5h0.7v0.7h-0.7zM324.5 53.7h0.7v0.7h-0.7zM322.6 49.3h0.7v0.7h-0.7zM321.4 52.8h0.7v0.7h-0.7zM328.9 52.3h0.7v0.7h-0.7zM325.3 52.8h0.7v0.7h-0.7zM327.2 51.1h0.7v0.7h-0.7zM327.4 57.9h0.7v0.7h-0.7zM331.6 50.3h0.7v0.7h-0.7zM322.8 57.8h0.7v0.7h-0.7zM328.5 55.7h0.7v0.7h-0.7zM327.5 51.3h0.7v0.7h-0.7zM328.5 55.4h0.7v0.7h-0.7zM329.0 48.7h0.7v0.7h-0.7zM328.6 51.0h0.7v0.7h-0.7zM325.1 53.1h0.7v0.7h-0.7zM325.1 59.0h0.7v0.7h-0.7zM327.4 52.8h0.7v0.7h-0.7zM325.5 52.8h0.7v0.7h-0.7zM325.4 53.8h0.7v0.7h-0.7zM328.2 54.6h0.7v0.7h-0.7zM322.9 51.0h0.7v0.7h-0.7zM326.2 48.3h0.7v0.7h-0.7z" fill="#222" opacity="0.5"/>
<ellipse cx="326.4" cy="47" rx="5" ry="7" fill="#111" opacity="0.35" filter="url(#b2)"/>
<ellipse cx="326.8" cy="51.2" rx="2.8" ry="3.6" fill="#111" opacity="0.6" filter="url(#b1)"/>
<path d="M383.4 42.6h0.7v0.7h-0.7zM381.0 44.1h0.7v0.7h-0.7zM375.9 47.4h0.7v0.7h-0.7zM388.4 41.5h0.7v0.7h-0.7zM384.1 45.1h0.7v0.7h-0.7zM374.8 42.0h0.7v0.7h-0.7zM385.8 35.8h0.7v0.7h-0.7zM370.6 44.0h0.7v0.7h-0.7zM385.3 40.4h0.7v0.7h-0.7zM387.0 49.3h0.7v0.7h-0.7zM382.2 42.9h0.7v0.7h-0.7zM381.1 40.2h0.7v0.7h-0.7zM384.7 43.5h0.7v0.7h-0.7zM386.2 47.0h0.7v0.7h-0.7zM380.9 43.5h0.7v0.7h-0.7zM383.0 47.9h0.7v0.7h-0.7zM369.6 43.0h0.7v0.7h-0.7zM375.9 43.4h0.7v0.7h-0.7zM386.9 43.2h0.7v0.7h-0.7zM386.1 43.6h0.7v0.7h-0.7zM375.2 41.2h0.7v0.7h-0.7zM370.2 43.7h0.7v0.7h-0.7zM377.6 45.4h0.7v0.7h-0.7zM387.9 40.5h0.7v0.7h-0.7zM372.4 44.7h0.7v0.7h-0.7zM374.0 43.6h0.7v0.7h-0.7zM385.2 41.9h0.7v0.7h-0.7zM394.0 40.8h0.7v0.7h-0.7zM383.8 41.9h0.7v0.7h-0.7zM379.4 44.7h0.7v0.7h-0.7zM379.6 41.0h0.7v0.7h-0.7zM376.7 42.2h0.7v0.7h-0.7zM386.3 42.3h0.7v0.7h-0.7zM389.9 45.4h0.7v0.7h-0.7zM375.0 45.9h0.7v0.7h-0.7zM363.5 43.1h0.7v0.7h-0.7zM373.2 42.8h0.7v0.7h-0.7zM389.3 43.0h0.7v0.7h-0.7zM379.3 46.6h0.7v0.7h-0.7zM374.9 40.7h0.7v0.7h-0.7zM387.9 44.8h0.7v0.7h-0.7zM369.8 43.5h0.7v0.7h-0.7zM386.5 42.6h0.7v0.7h-0.7zM377.5 43.4h0.7v0.7h-0.7zM382.2 41.1h0.7v0.7h-0.7zM386.9 38.6h0.7v0.7h-0.7zM380.0 49.0h0.7v0.7h-0.7zM372.6 42.9h0.7v0.7h-0.7zM363.5 40.7h0.7v0.7h-0.7zM371.9 43.2h0.7v0.7h-0.7zM376.9 48.2h0.7v0.7h-0.7zM373.6 43.0h0.7v0.7h-0.7zM382.2 44.8h0.7v0.7h-0.7zM387.3 38.6h0.7v0.7h-0.7zM397.1 42.2h0.7v0.7h-0.7zM375.2 38.4h0.7v0.7h-0.7zM377.2 38.0h0.7v0.7h-0.7zM382.0 41.3h0.7v0.7h-0.7zM383.0 40.8h0.7v0.7h-0.7zM381.1 49.3h0.7v0.7h-0.7zM389.4 43.5h0.7v0.7h-0.7zM373.2 47.1h0.7v0.7h-0.7zM367.8 39.1h0.7v0.7h-0.7zM390.3 41.3h0.7v0.7h-0.7zM390.7 44.6h0.7v0.7h-0.7zM397.0 48.0h0.7v0.7h-0.7zM385.0 41.3h0.7v0.7h-0.7zM385.0 47.0h0.7v0.7h-0.7zM381.6 34.9h0.7v0.7h-0.7zM377.7 42.0h0.7v0.7h-0.7zM380.1 42.0h0.7v0.7h-0.7zM389.2 39.5h0.7v0.7h-0.7zM383.9 37.4h0.7v0.7h-0.7zM364.2 40.2h0.7v0.7h-0.7zM374.9 40.5h0.7v0.7h-0.7zM375.3 44.7h0.7v0.7h-0.7zM384.9 43.2h0.7v0.7h-0.7zM382.0 41.1h0.7v0.7h-0.7zM373.1 39.0h0.7v0.7h-0.7zM377.4 39.8h0.7v0.7h-0.7zM378.1 45.0h0.7v0.7h-0.7zM384.7 46.7h0.7v0.7h-0.7zM373.5 36.8h0.7v0.7h-0.7zM372.2 48.6h0.7v0.7h-0.7zM385.8 41.8h0.7v0.7h-0.7zM390.5 41.8h0.7v0.7h-0.7zM393.1 41.9h0.7v0.7h-0.7zM377.5 45.0h0.7v0.7h-0.7zM371.9 42.5h0.7v0.7h-0.7zM395.1 44.2h0.7v0.7h-0.7zM372.2 42.3h0.7v0.7h-0.7zM380.3 40.9h0.7v0.7h-0.7zM383.6 46.5h0.7v0.7h-0.7zM380.9 45.5h0.7v0.7h-0.7zM382.7 43.4h0.7v0.7h-0.7zM374.9 45.7h0.7v0.7h-0.7zM390.7 41.7h0.7v0.7h-0.7zM373.9 44.5h0.7v0.7h-0.7zM381.3 46.2h0.7v0.7h-0.7zM384.2 42.6h0.7v0.7h-0.7zM370.1 44.7h0.7v0.7h-0.7zM381.2 39.4h0.7v0.7h-0.7zM369.3 37.9h0.7v0.7h-0.7zM385.2 41.8h0.7v0.7h-0.7zM375.7 42.7h0.7v0.7h-0.7zM380.8 42.0h0.7v0.7h-0.7zM386.1 45.9h0.7v0.7h-0.7zM378.8 47.4h0.7v0.7h-0.7zM379.5 40.6h0.7v0.7h-0.7zM381.7 39.0h0.7v0.7h-0.7zM378.2 40.0h0.7v0.7h-0.7zM377.3 43.5h0.7v0.7h-0.7zM362.1 44.1h0.7v0.7h-0.7zM382.4 42.4h0.7v0.7h-0.7zM385.9 44.0h0.7v0.7h-0.7zM377.7 40.2h0.7v0.7h-0.7zM386.0 45.1h0.7v0.7h-0.7zM369.4 40.9h0.7v0.7h-0.7zM371.6 45.3h0.7v0.7h-0.7zM376.2 39.5h0.7v0.7h-0.7z" fill="#333" opacity="0.45"/>
<path d="M381.7 49.4h0.7v0.7h-0.7zM376.6 48.8h0.7v0.7h-0.7zM375.0 48.1h0.7v0.7h-0.7zM379.3 49.4h0.7v0.7h-0.7zM373.8 48.3h0.7v0.7h-0.7zM383.2 46.2h0.7v0.7h-0.7zM370.4 48.4h0.7v0.7h-0.7zM371.1 56.4h0.7v0.7h-0.7zM378.2 49.9h0.7v0.7h-0.7zM377.2 54.3h0.7v0.7h-0.7zM371.6 47.8h0.7v0.7h-0.7zM369.0 52.0h0.7v0.7h-0.7zM375.4 53.7h0.7v0.7h-0.7zM374.6 44.6h0.7v0.7h-0.7zM372.8 50.6h0.7v0.7h-0.7zM372.4 48.8h0.7v0.7h-0.7zM372.8 45.7h0.7v0.7h-0.7zM373.4 53.2h0.7v0.7h-0.7zM371.3 49.0h0.7v0.7h-0.7zM378.9 45.6h0.7v0.7h-0.7zM369.6 52.8h0.7v0.7h-0.7zM382.6 47.2h0.7v0.7h-0.7zM370.8 50.8h0.7v0.7h-0.7zM375.5 45.3h0.7v0.7h-0.7zM374.1 40.3h0.7v0.7h-0.7zM372.4 44.1h0.7v0.7h-0.7zM370.4 49.8h0.7v0.7h-0.7zM376.7 53.4h0.7v0.7h-0.7zM364.9 45.8h0.7v0.7h-0.7zM372.3 52.2h0.7v0.7h-0.7zM379.8 48.3h0.7v0.7h-0.7zM376.0 45.5h0.7v0.7h-0.7zM373.6 46.5h0.7v0.7h-0.7zM365.5 54.1h0.7v0.7h-0.7zM378.6 54.7h0.7v0.7h-0.7zM380.6 49.6h0.7v0.7h-0.7zM379.0 42.5h0.7v0.7h-0.7zM371.6 50.7h0.7v0.7h-0.7zM374.1 42.7h0.7v0.7h-0.7zM375.6 43.8h0.7v0.7h-0.7zM375.6 53.0h0.7v0.7h-0.7zM371.1 46.5h0.7v0.7h-0.7zM377.9 47.9h0.7v0.7h-0.7zM376.4 45.2h0.7v0.7h-0.7zM374.3 40.2h0.7v0.7h-0.7zM374.9 52.1h0.7v0.7h-0.7zM371.1 47.3h0.7v0.7h-0.7zM378.5 51.9h0.7v0.7h-0.7zM380.3 45.1h0.7v0.7h-0.7zM373.9 53.6h0.7v0.7h-0.7zM373.7 48.9h0.7v0.7h-0.7zM372.2 45.8h0.7v0.7h-0.7zM363.6 46.2h0.7v0.7h-0.7zM366.7 44.7h0.7v0.7h-0.7zM371.6 52.3h0.7v0.7h-0.7zM378.7 49.2h0.7v0.7h-0.7zM373.5 43.4h0.7v0.7h-0.7zM377.6 45.2h0.7v0.7h-0.7zM375.1 51.0h0.7v0.7h-0.7zM374.8 47.8h0.7v0.7h-0.7z" fill="#222" opacity="0.5"/>
<path d="M382.1 40.1h0.7v0.7h-0.7zM388.0 39.3h0.7v0.7h-0.7zM392.2 33.6h0.7v0.7h-0.7zM386.0 39.1h0.7v0.7h-0.7zM387.2 38.3h0.7v0.7h-0.7zM387.7 33.8h0.7v0.7h-0.7zM385.6 40.4h0.7v0.7h-0.7zM385.7 37.1h0.7v0.7h-0.7zM389.2 33.3h0.7v0.7h-0.7zM387.4 41.2h0.7v0.7h-0.7zM384.9 35.5h0.7v0.7h-0.7zM387.9 36.4h0.7v0.7h-0.7zM382.7 37.9h0.7v0.7h-0.7zM379.5 39.2h0.7v0.7h-0.7zM381.3 36.2h0.7v0.7h-0.7zM388.7 37.5h0.7v0.7h-0.7zM386.9 40.9h0.7v0.7h-0.7zM391.8 42.6h0.7v0.7h-0.7zM383.8 39.8h0.7v0.7h-0.7zM379.5 39.5h0.7v0.7h-0.7zM390.9 35.8h0.7v0.7h-0.7zM387.7 39.6h0.7v0.7h-0.7zM385.3 36.0h0.7v0.7h-0.7zM391.7 34.3h0.7v0.7h-0.7zM386.5 39.9h0.7v0.7h-0.7zM386.8 41.4h0.7v0.7h-0.7zM391.6 38.7h0.7v0.7h-0.7zM392.7 39.4h0.7v0.7h-0.7zM381.2 36.7h0.7v0.7h-0.7zM386.9 38.0h0.7v0.7h-0.7zM379.4 43.1h0.7v0.7h-0.7zM379.9 34.8h0.7v0.7h-0.7zM387.6 38.0h0.7v0.7h-0.7zM391.8 38.1h0.7v0.7h-0.7zM387.4 39.3h0.7v0.7h-0.7zM383.1 34.4h0.7v0.7h-0.7zM384.1 40.0h0.7v0.7h-0.7zM384.8 40.6h0.7v0.7h-0.7zM383.8 39.4h0.7v0.7h-0.7zM386.0 39.6h0.7v0.7h-0.7zM386.0 38.0h0.7v0.7h-0.7zM384.1 40.6h0.7v0.7h-0.7zM385.8 38.8h0.7v0.7h-0.7zM388.4 35.4h0.7v0.7h-0.7zM382.7 37.4h0.7v0.7h-0.7zM390.8 35.0h0.7v0.7h-0.7zM382.0 35.1h0.7v0.7h-0.7zM384.4 35.0h0.7v0.7h-0.7zM382.8 38.8h0.7v0.7h-0.7zM381.7 37.5h0.7v0.7h-0.7z" fill="#222" opacity="0.5"/>
<ellipse cx="380.6" cy="43" rx="10" ry="4.2" fill="#111" opacity="0.35" filter="url(#b2)" transform="rotate(-42 380.6 43)"/>
<ellipse cx="375.7" cy="48.2" rx="4.2" ry="3.2" fill="#111" opacity="0.7" filter="url(#b1)" transform="rotate(-35 375.7 48.2)"/>
<ellipse cx="386.2" cy="37.6" rx="3.8" ry="2.3" fill="#111" opacity="0.7" filter="url(#b1)" transform="rotate(-30 386.2 37.6)"/>
<path d="M437.9 38.4h0.7v0.7h-0.7zM444.4 33.3h0.7v0.7h-0.7zM442.6 39.6h0.7v0.7h-0.7zM442.2 39.7h0.7v0.7h-0.7zM444.0 35.3h0.7v0.7h-0.7zM442.0 40.8h0.7v0.7h-0.7zM447.4 35.1h0.7v0.7h-0.7zM440.1 35.1h0.7v0.7h-0.7zM442.4 35.9h0.7v0.7h-0.7zM438.6 41.1h0.7v0.7h-0.7zM451.1 33.1h0.7v0.7h-0.7zM448.8 36.3h0.7v0.7h-0.7zM445.1 40.0h0.7v0.7h-0.7zM447.2 38.4h0.7v0.7h-0.7zM439.2 38.8h0.7v0.7h-0.7zM445.5 36.4h0.7v0.7h-0.7zM444.0 38.9h0.7v0.7h-0.7zM443.1 39.0h0.7v0.7h-0.7zM444.8 41.2h0.7v0.7h-0.7zM441.3 38.0h0.7v0.7h-0.7zM434.2 36.5h0.7v0.7h-0.7zM436.6 40.9h0.7v0.7h-0.7zM438.3 37.0h0.7v0.7h-0.7zM444.5 41.8h0.7v0.7h-0.7zM447.1 36.5h0.7v0.7h-0.7zM443.4 42.0h0.7v0.7h-0.7zM439.2 38.3h0.7v0.7h-0.7zM437.8 37.1h0.7v0.7h-0.7zM445.2 39.2h0.7v0.7h-0.7zM441.0 37.4h0.7v0.7h-0.7zM448.3 41.1h0.7v0.7h-0.7zM437.7 45.1h0.7v0.7h-0.7zM440.9 38.5h0.7v0.7h-0.7zM440.6 37.3h0.7v0.7h-0.7zM444.9 34.9h0.7v0.7h-0.7zM442.6 38.0h0.7v0.7h-0.7zM449.1 40.1h0.7v0.7h-0.7zM444.1 40.5h0.7v0.7h-0.7zM444.7 39.3h0.7v0.7h-0.7zM433.1 40.2h0.7v0.7h-0.7zM441.2 41.0h0.7v0.7h-0.7zM443.6 37.4h0.7v0.7h-0.7zM439.0 36.1h0.7v0.7h-0.7zM443.5 38.7h0.7v0.7h-0.7zM439.1 37.9h0.7v0.7h-0.7zM443.8 37.1h0.7v0.7h-0.7zM442.0 37.3h0.7v0.7h-0.7zM432.5 39.2h0.7v0.7h-0.7zM442.7 41.3h0.7v0.7h-0.7zM447.4 36.9h0.7v0.7h-0.7zM444.7 39.7h0.7v0.7h-0.7zM442.8 41.3h0.7v0.7h-0.7zM445.8 35.4h0.7v0.7h-0.7zM448.1 38.5h0.7v0.7h-0.7zM439.9 37.0h0.7v0.7h-0.7zM441.6 35.8h0.7v0.7h-0.7zM446.6 40.2h0.7v0.7h-0.7zM439.0 41.3h0.7v0.7h-0.7zM443.4 39.2h0.7v0.7h-0.7zM446.1 38.7h0.7v0.7h-0.7zM441.5 40.4h0.7v0.7h-0.7zM435.5 35.6h0.7v0.7h-0.7zM444.4 42.0h0.7v0.7h-0.7zM436.0 39.0h0.7v0.7h-0.7zM439.9 38.2h0.7v0.7h-0.7zM444.8 43.2h0.7v0.7h-0.7zM449.2 41.6h0.7v0.7h-0.7zM444.9 39.4h0.7v0.7h-0.7zM435.3 40.1h0.7v0.7h-0.7zM437.9 35.8h0.7v0.7h-0.7zM442.9 34.5h0.7v0.7h-0.7zM449.2 40.7h0.7v0.7h-0.7zM443.9 40.3h0.7v0.7h-0.7zM443.4 39.2h0.7v0.7h-0.7zM445.2 37.1h0.7v0.7h-0.7zM443.5 39.4h0.7v0.7h-0.7zM445.4 35.9h0.7v0.7h-0.7zM443.4 38.6h0.7v0.7h-0.7zM444.9 40.5h0.7v0.7h-0.7zM443.2 40.3h0.7v0.7h-0.7z" fill="#222" opacity="0.55"/>
<path d="M435.1 58.4h0.7v0.7h-0.7zM434.1 55.1h0.7v0.7h-0.7zM425.4 52.1h0.7v0.7h-0.7zM437.3 57.2h0.7v0.7h-0.7zM425.1 52.8h0.7v0.7h-0.7zM430.0 53.2h0.7v0.7h-0.7zM428.6 51.3h0.7v0.7h-0.7zM431.5 53.5h0.7v0.7h-0.7zM439.1 49.5h0.7v0.7h-0.7zM425.2 56.1h0.7v0.7h-0.7zM435.5 52.2h0.7v0.7h-0.7zM423.8 57.2h0.7v0.7h-0.7zM424.4 57.5h0.7v0.7h-0.7zM433.7 52.4h0.7v0.7h-0.7zM430.7 56.3h0.7v0.7h-0.7zM432.0 46.0h0.7v0.7h-0.7zM427.0 44.4h0.7v0.7h-0.7zM434.8 56.7h0.7v0.7h-0.7zM439.2 47.6h0.7v0.7h-0.7zM446.9 60.3h0.7v0.7h-0.7zM431.2 45.0h0.7v0.7h-0.7zM425.8 57.2h0.7v0.7h-0.7zM446.5 50.8h0.7v0.7h-0.7zM419.0 49.1h0.7v0.7h-0.7zM445.4 53.0h0.7v0.7h-0.7zM422.1 44.6h0.7v0.7h-0.7zM436.4 56.2h0.7v0.7h-0.7zM428.6 52.2h0.7v0.7h-0.7zM432.5 51.6h0.7v0.7h-0.7zM428.1 50.7h0.7v0.7h-0.7zM427.8 57.9h0.7v0.7h-0.7zM434.7 57.1h0.7v0.7h-0.7zM444.9 43.8h0.7v0.7h-0.7zM431.5 56.8h0.7v0.7h-0.7zM430.4 50.6h0.7v0.7h-0.7zM434.7 50.8h0.7v0.7h-0.7zM426.0 51.7h0.7v0.7h-0.7zM432.3 53.0h0.7v0.7h-0.7zM438.2 53.0h0.7v0.7h-0.7zM430.3 51.9h0.7v0.7h-0.7zM430.9 50.2h0.7v0.7h-0.7zM420.9 53.7h0.7v0.7h-0.7zM442.2 45.7h0.7v0.7h-0.7zM426.6 54.7h0.7v0.7h-0.7zM427.2 55.1h0.7v0.7h-0.7zM431.6 48.5h0.7v0.7h-0.7zM430.4 50.9h0.7v0.7h-0.7zM435.7 42.8h0.7v0.7h-0.7zM434.8 58.3h0.7v0.7h-0.7zM433.0 53.9h0.7v0.7h-0.7zM428.2 54.3h0.7v0.7h-0.7zM430.9 47.8h0.7v0.7h-0.7zM423.6 43.7h0.7v0.7h-0.7zM435.0 53.7h0.7v0.7h-0.7zM439.6 54.0h0.7v0.7h-0.7zM436.8 47.6h0.7v0.7h-0.7zM418.8 50.7h0.7v0.7h-0.7zM429.6 54.4h0.7v0.7h-0.7zM431.0 52.3h0.7v0.7h-0.7zM432.2 54.0h0.7v0.7h-0.7zM433.3 54.2h0.7v0.7h-0.7zM428.4 52.6h0.7v0.7h-0.7zM421.6 48.5h0.7v0.7h-0.7zM430.0 54.7h0.7v0.7h-0.7zM426.6 47.3h0.7v0.7h-0.7zM438.6 49.6h0.7v0.7h-0.7zM419.9 49.1h0.7v0.7h-0.7zM423.6 43.3h0.7v0.7h-0.7zM429.2 59.7h0.7v0.7h-0.7zM426.7 49.7h0.7v0.7h-0.7z" fill="#666" opacity="0.3"/>
<ellipse cx="432" cy="53" rx="7" ry="4" fill="#111" opacity="0.12" filter="url(#b2)"/>
<ellipse cx="433" cy="37" rx="5" ry="2.6" fill="#111" opacity="0.3" filter="url(#b2)"/>
<ellipse cx="439.5" cy="38.2" rx="3.6" ry="2.6" fill="#111" opacity="0.75" filter="url(#b1)"/>
<path d="M437.5,36.2 L446.8,35.0 L447,42.8 L442.5,43.2 Z" fill="#111" filter="url(#b07)"/>
<ellipse cx="444.5" cy="46" rx="1.5" ry="3" fill="#111" opacity="0.4" filter="url(#b1)"/>
<rect x="434.20" y="25.80" width="18.00" height="19.60" fill="none" stroke="#111" stroke-width="1.3"/>
<line x1="452.2" y1="32.4" x2="473.2" y2="45.6" stroke="#111" stroke-width="1.2"/>
<rect x="473.20" y="25.80" width="36.30" height="36.30" fill="none" stroke="#aaa" stroke-width="0.6"/>
<rect x="475.50" y="27.40" width="29.00" height="21.10" fill="none" stroke="#d0d0d0" stroke-width="0.5"/>
<text x="470.8" y="31" font-size="2.6" text-anchor="middle" fill="#aaa">10</text>
<text x="470.8" y="38" font-size="2.6" text-anchor="middle" fill="#aaa">10</text>
<text x="470.8" y="45" font-size="2.6" text-anchor="middle" fill="#aaa">10</text>
<text x="470.8" y="52" font-size="2.6" text-anchor="middle" fill="#aaa">10</text>
<text x="470.8" y="59" font-size="2.6" text-anchor="middle" fill="#aaa">10</text>
<path d="M477.7,65.9 L479.9,62.9" stroke="#aaa" stroke-width="0.7" fill="none"/>
<path d="M484.7,65.9 L486.9,62.9" stroke="#aaa" stroke-width="0.7" fill="none"/>
<path d="M491.7,65.9 L493.9,62.9" stroke="#aaa" stroke-width="0.7" fill="none"/>
<path d="M498.7,65.9 L500.9,62.9" stroke="#aaa" stroke-width="0.7" fill="none"/>
<path d="M505.7,65.9 L507.9,62.9" stroke="#aaa" stroke-width="0.7" fill="none"/>
<path d="M493.6 50.3h0.7v0.7h-0.7zM490.8 56.1h0.7v0.7h-0.7zM488.5 49.7h0.7v0.7h-0.7zM492.2 50.9h0.7v0.7h-0.7zM488.5 45.8h0.7v0.7h-0.7zM495.0 49.5h0.7v0.7h-0.7zM490.5 54.8h0.7v0.7h-0.7zM487.1 49.7h0.7v0.7h-0.7zM487.2 56.2h0.7v0.7h-0.7zM488.9 50.5h0.7v0.7h-0.7zM489.0 50.5h0.7v0.7h-0.7zM491.8 50.0h0.7v0.7h-0.7zM490.4 51.1h0.7v0.7h-0.7zM490.5 47.7h0.7v0.7h-0.7zM492.5 53.8h0.7v0.7h-0.7zM488.1 45.4h0.7v0.7h-0.7zM489.4 51.3h0.7v0.7h-0.7zM488.0 57.0h0.7v0.7h-0.7zM491.2 50.7h0.7v0.7h-0.7zM493.0 46.6h0.7v0.7h-0.7zM491.9 51.8h0.7v0.7h-0.7zM493.9 45.2h0.7v0.7h-0.7zM494.1 52.7h0.7v0.7h-0.7zM491.6 54.8h0.7v0.7h-0.7zM490.5 49.1h0.7v0.7h-0.7zM492.9 48.4h0.7v0.7h-0.7zM493.5 56.2h0.7v0.7h-0.7zM491.6 50.8h0.7v0.7h-0.7zM489.7 45.9h0.7v0.7h-0.7zM494.3 45.3h0.7v0.7h-0.7zM491.3 51.3h0.7v0.7h-0.7zM489.1 46.9h0.7v0.7h-0.7zM489.6 59.5h0.7v0.7h-0.7zM491.9 56.2h0.7v0.7h-0.7zM495.6 54.5h0.7v0.7h-0.7zM494.0 48.0h0.7v0.7h-0.7zM489.6 56.5h0.7v0.7h-0.7zM494.3 45.4h0.7v0.7h-0.7zM493.6 51.3h0.7v0.7h-0.7zM492.9 54.4h0.7v0.7h-0.7zM495.3 47.2h0.7v0.7h-0.7zM491.1 55.7h0.7v0.7h-0.7zM490.6 52.5h0.7v0.7h-0.7zM491.0 42.4h0.7v0.7h-0.7zM489.9 54.0h0.7v0.7h-0.7zM489.9 43.1h0.7v0.7h-0.7zM490.0 50.5h0.7v0.7h-0.7zM492.2 51.6h0.7v0.7h-0.7zM492.3 45.3h0.7v0.7h-0.7zM489.8 46.6h0.7v0.7h-0.7zM490.2 52.1h0.7v0.7h-0.7zM494.1 49.0h0.7v0.7h-0.7zM493.5 55.1h0.7v0.7h-0.7zM488.6 46.4h0.7v0.7h-0.7zM491.5 43.9h0.7v0.7h-0.7zM495.3 41.7h0.7v0.7h-0.7zM488.5 53.6h0.7v0.7h-0.7zM489.5 53.3h0.7v0.7h-0.7zM489.0 54.8h0.7v0.7h-0.7zM489.9 53.4h0.7v0.7h-0.7zM493.4 43.4h0.7v0.7h-0.7zM489.2 42.2h0.7v0.7h-0.7zM488.7 54.2h0.7v0.7h-0.7zM491.1 53.9h0.7v0.7h-0.7zM494.3 54.8h0.7v0.7h-0.7zM492.7 48.2h0.7v0.7h-0.7zM490.3 51.6h0.7v0.7h-0.7zM493.1 55.0h0.7v0.7h-0.7zM491.8 48.8h0.7v0.7h-0.7zM491.0 57.6h0.7v0.7h-0.7z" fill="#333" opacity="0.5"/>
<ellipse cx="491.1" cy="45" rx="2" ry="4" fill="#111" opacity="0.3" filter="url(#b2)"/>
<ellipse cx="491.1" cy="52.2" rx="2.9" ry="4.2" fill="#111" opacity="1.0" filter="url(#b1)"/>
<text x="490.5" y="39.6" font-size="6.5" font-weight="bold" text-anchor="middle" fill="#111" stroke="#111" stroke-width="0.22">20%</text>
<line x1="248.8" y1="29.400000000000002" x2="248.8" y2="44.8" stroke="#111" stroke-width="1.3"/>
<path d="M247.10000000000002,29.900000000000002 L248.8,26.3 L250.5,29.900000000000002 Z" fill="#111"/>
<text x="250.9" y="62.3" font-size="6.5" font-weight="bold" fill="#111" transform="rotate(-90 250.9 62.3)" stroke="#111" stroke-width="0.22">CD27</text>
<text x="257.6" y="75.9" font-size="6.5" font-weight="bold" fill="#111" stroke="#111" stroke-width="0.22">CD38</text>
<line x1="276.4" y1="73.9" x2="450.9" y2="73.9" stroke="#111" stroke-width="1.5"/>
<path d="M450.4,72.0 L454.0,73.9 L450.4,75.80000000000001 Z" fill="#111"/>
<line x1="516.8" y1="29.6" x2="516.8" y2="44.8" stroke="#111" stroke-width="1.3"/>
<path d="M515.0999999999999,30.1 L516.8,26.5 L518.5,30.1 Z" fill="#111"/>
<text x="519.3" y="62.0" font-size="6.5" font-weight="bold" fill="#111" transform="rotate(-90 519.3 62.0)" stroke="#111" stroke-width="0.22">IL-10</text>
<text x="473.0" y="75.6" font-size="6.7" font-weight="bold" fill="#111" stroke="#111" stroke-width="0.22">CD19</text>
<line x1="491.3" y1="73.6" x2="505.9" y2="73.6" stroke="#111" stroke-width="1.5"/>
<path d="M505.4,71.69999999999999 L509.0,73.6 L505.4,75.5 Z" fill="#111"/>
<rect x="263.9" y="90.2" width="24.2" height="23.8" fill="#e0dcd2" filter="url(#b05)"/>
<ellipse cx="276.2" cy="102.0" rx="10.6" ry="10.4" fill="#f2e6f0" filter="url(#b05)"/>
<ellipse cx="276.2" cy="102.0" rx="9.399999999999999" ry="9.2" fill="#a044b8" stroke="#74309a" stroke-width="0.8" filter="url(#b05)"/>
<ellipse cx="277.2" cy="102.2" rx="8.0" ry="8.3" fill="#7c1298" filter="url(#b07)"/>
<ellipse cx="269.59999999999997" cy="102.0" rx="1.3" ry="5.0" fill="#c898dc" opacity="0.8" filter="url(#b07)"/>
<rect x="319.5" y="90.5" width="31.6" height="23.2" fill="#e0dbc8" filter="url(#b05)"/>
<ellipse cx="332.0" cy="102.5" rx="11.5" ry="10.700000000000001" fill="#f2e6f0" filter="url(#b05)"/>
<ellipse cx="332.0" cy="102.5" rx="10.299999999999999" ry="9.5" fill="#9c50c4" stroke="#74309a" stroke-width="0.8" filter="url(#b05)"/>
<ellipse cx="334.8" cy="102.7" rx="8.0" ry="9.3" fill="#6a0c92" filter="url(#b07)"/>
<ellipse cx="327.4" cy="102.5" rx="1.5" ry="6.5" fill="#b880d4" opacity="0.7" filter="url(#b07)"/>
<rect x="369.0" y="91.4" width="31.1" height="23.3" fill="#f3efdf" filter="url(#b05)"/>
<ellipse cx="384.3" cy="102.8" rx="12.700000000000001" ry="11.8" fill="#f2e6f0" filter="url(#b05)"/>
<ellipse cx="384.3" cy="102.8" rx="11.5" ry="10.6" fill="#8a5ccc" stroke="#74309a" stroke-width="0.8" filter="url(#b05)"/>
<ellipse cx="387.90000000000003" cy="103.0" rx="8.0" ry="9.8" fill="#9a2eb4" filter="url(#b07)"/>
<ellipse cx="381.3" cy="102.8" rx="1.5" ry="6.0" fill="#d8a8e4" opacity="0.8" filter="url(#b07)"/>
<rect x="422.0" y="89.0" width="29.7" height="26.7" fill="#f6f0d6" filter="url(#b05)"/>
<ellipse cx="436.5" cy="101.6" rx="12.5" ry="12.0" fill="#f2e6f0" filter="url(#b05)"/>
<ellipse cx="436.5" cy="101.6" rx="11.299999999999999" ry="10.799999999999999" fill="#a282cf" stroke="#74309a" stroke-width="0.8" filter="url(#b05)"/>
<ellipse cx="441.3" cy="101.8" rx="7.0" ry="10.2" fill="#7a1088" filter="url(#b07)"/>
<ellipse cx="433.1" cy="101.6" rx="1.6" ry="7.0" fill="#f0c8ee" opacity="0.9" filter="url(#b07)"/>
<rect x="257.10" y="123.00" width="37.70" height="37.80" fill="none" stroke="#a8a8a8" stroke-width="0.6"/>
<line x1="277.2" y1="123.0" x2="277.2" y2="160.8" stroke="#b0b0b0" stroke-width="0.6"/>
<line x1="257.1" y1="144.5" x2="294.8" y2="144.5" stroke="#b8b8b8" stroke-width="0.6"/>
<text x="254.70000000000002" y="129" font-size="2.6" text-anchor="middle" fill="#aaa">10</text>
<text x="254.70000000000002" y="136" font-size="2.6" text-anchor="middle" fill="#aaa">10</text>
<text x="254.70000000000002" y="143" font-size="2.6" text-anchor="middle" fill="#aaa">10</text>
<text x="254.70000000000002" y="150" font-size="2.6" text-anchor="middle" fill="#aaa">10</text>
<text x="254.70000000000002" y="157" font-size="2.6" text-anchor="middle" fill="#aaa">10</text>
<path d="M261.8,164.6 L264.0,161.6" stroke="#aaa" stroke-width="0.7" fill="none"/>
<path d="M269.2,164.6 L271.4,161.6" stroke="#aaa" stroke-width="0.7" fill="none"/>
<path d="M276.7,164.6 L278.9,161.6" stroke="#aaa" stroke-width="0.7" fill="none"/>
<path d="M284.1,164.6 L286.3,161.6" stroke="#aaa" stroke-width="0.7" fill="none"/>
<path d="M291.5,164.6 L293.7,161.6" stroke="#aaa" stroke-width="0.7" fill="none"/>
<rect x="312.40" y="123.00" width="37.80" height="37.80" fill="none" stroke="#a8a8a8" stroke-width="0.6"/>
<line x1="331.4" y1="123.0" x2="331.4" y2="160.8" stroke="#b0b0b0" stroke-width="0.6"/>
<line x1="312.4" y1="144.5" x2="350.2" y2="144.5" stroke="#dddddd" stroke-width="0.6"/>
<text x="310.0" y="129" font-size="2.6" text-anchor="middle" fill="#aaa">10</text>
<text x="310.0" y="136" font-size="2.6" text-anchor="middle" fill="#aaa">10</text>
<text x="310.0" y="143" font-size="2.6" text-anchor="middle" fill="#aaa">10</text>
<text x="310.0" y="150" font-size="2.6" text-anchor="middle" fill="#aaa">10</text>
<text x="310.0" y="157" font-size="2.6" text-anchor="middle" fill="#aaa">10</text>
<path d="M317.1,164.6 L319.3,161.6" stroke="#aaa" stroke-width="0.7" fill="none"/>
<path d="M324.5,164.6 L326.7,161.6" stroke="#aaa" stroke-width="0.7" fill="none"/>
<path d="M332.0,164.6 L334.2,161.6" stroke="#aaa" stroke-width="0.7" fill="none"/>
<path d="M339.4,164.6 L341.6,161.6" stroke="#aaa" stroke-width="0.7" fill="none"/>
<path d="M346.9,164.6 L349.1,161.6" stroke="#aaa" stroke-width="0.7" fill="none"/>
<rect x="362.80" y="123.00" width="37.70" height="37.80" fill="none" stroke="#a8a8a8" stroke-width="0.6"/>
<line x1="382.4" y1="123.0" x2="382.4" y2="160.8" stroke="#b0b0b0" stroke-width="0.6"/>
<line x1="362.8" y1="144.5" x2="400.5" y2="144.5" stroke="#e2e2e2" stroke-width="0.6"/>
<text x="360.40000000000003" y="129" font-size="2.6" text-anchor="middle" fill="#aaa">10</text>
<text x="360.40000000000003" y="136" font-size="2.6" text-anchor="middle" fill="#aaa">10</text>
<text x="360.40000000000003" y="143" font-size="2.6" text-anchor="middle" fill="#aaa">10</text>
<text x="360.40000000000003" y="150" font-size="2.6" text-anchor="middle" fill="#aaa">10</text>
<text x="360.40000000000003" y="157" font-size="2.6" text-anchor="middle" fill="#aaa">10</text>
<path d="M367.5,164.6 L369.7,161.6" stroke="#aaa" stroke-width="0.7" fill="none"/>
<path d="M374.9,164.6 L377.1,161.6" stroke="#aaa" stroke-width="0.7" fill="none"/>
<path d="M382.3,164.6 L384.5,161.6" stroke="#aaa" stroke-width="0.7" fill="none"/>
<path d="M389.8,164.6 L392.0,161.6" stroke="#aaa" stroke-width="0.7" fill="none"/>
<path d="M397.2,164.6 L399.4,161.6" stroke="#aaa" stroke-width="0.7" fill="none"/>
<rect x="417.80" y="123.00" width="38.50" height="37.80" fill="none" stroke="#a8a8a8" stroke-width="0.6"/>
<line x1="437.5" y1="123.0" x2="437.5" y2="160.8" stroke="#b0b0b0" stroke-width="0.6"/>
<line x1="417.8" y1="145.6" x2="456.3" y2="145.6" stroke="#b8b8b8" stroke-width="0.6"/>
<text x="415.40000000000003" y="129" font-size="2.6" text-anchor="middle" fill="#aaa">10</text>
<text x="415.40000000000003" y="136" font-size="2.6" text-anchor="middle" fill="#aaa">10</text>
<text x="415.40000000000003" y="143" font-size="2.6" text-anchor="middle" fill="#aaa">10</text>
<text x="415.40000000000003" y="150" font-size="2.6" text-anchor="middle" fill="#aaa">10</text>
<text x="415.40000000000003" y="157" font-size="2.6" text-anchor="middle" fill="#aaa">10</text>
<path d="M422.5,164.6 L424.7,161.6" stroke="#aaa" stroke-width="0.7" fill="none"/>
<path d="M430.1,164.6 L432.3,161.6" stroke="#aaa" stroke-width="0.7" fill="none"/>
<path d="M437.8,164.6 L439.9,161.6" stroke="#aaa" stroke-width="0.7" fill="none"/>
<path d="M445.4,164.6 L447.6,161.6" stroke="#aaa" stroke-width="0.7" fill="none"/>
<path d="M453.0,164.6 L455.2,161.6" stroke="#aaa" stroke-width="0.7" fill="none"/>
<path d="M273.4 154.5h0.7v0.7h-0.7zM268.9 151.3h0.7v0.7h-0.7zM273.1 151.0h0.7v0.7h-0.7zM268.8 149.8h0.7v0.7h-0.7zM271.9 148.1h0.7v0.7h-0.7zM266.8 144.9h0.7v0.7h-0.7zM270.6 150.4h0.7v0.7h-0.7zM273.3 149.6h0.7v0.7h-0.7zM273.6 145.1h0.7v0.7h-0.7zM276.9 149.1h0.7v0.7h-0.7zM268.8 147.4h0.7v0.7h-0.7zM276.6 149.4h0.7v0.7h-0.7zM264.7 154.8h0.7v0.7h-0.7zM265.5 153.7h0.7v0.7h-0.7zM276.0 146.1h0.7v0.7h-0.7zM277.7 152.4h0.7v0.7h-0.7zM276.8 150.7h0.7v0.7h-0.7zM273.6 149.5h0.7v0.7h-0.7zM269.8 149.7h0.7v0.7h-0.7zM277.9 148.6h0.7v0.7h-0.7zM281.0 144.6h0.7v0.7h-0.7zM272.3 144.8h0.7v0.7h-0.7zM264.3 149.6h0.7v0.7h-0.7zM270.7 147.4h0.7v0.7h-0.7zM267.4 148.3h0.7v0.7h-0.7zM264.9 148.4h0.7v0.7h-0.7zM269.8 145.4h0.7v0.7h-0.7zM274.0 143.7h0.7v0.7h-0.7zM274.1 149.7h0.7v0.7h-0.7zM274.5 149.3h0.7v0.7h-0.7zM275.7 148.2h0.7v0.7h-0.7zM267.3 150.0h0.7v0.7h-0.7zM268.7 147.9h0.7v0.7h-0.7zM272.7 146.3h0.7v0.7h-0.7zM276.6 144.6h0.7v0.7h-0.7zM277.7 148.8h0.7v0.7h-0.7zM279.8 152.0h0.7v0.7h-0.7zM275.2 149.7h0.7v0.7h-0.7zM272.7 145.1h0.7v0.7h-0.7zM269.7 146.3h0.7v0.7h-0.7zM269.0 148.6h0.7v0.7h-0.7zM268.6 149.3h0.7v0.7h-0.7zM271.0 147.6h0.7v0.7h-0.7zM273.9 150.2h0.7v0.7h-0.7zM266.2 148.0h0.7v0.7h-0.7zM285.3 149.0h0.7v0.7h-0.7zM274.2 146.4h0.7v0.7h-0.7zM276.6 153.2h0.7v0.7h-0.7zM274.8 148.5h0.7v0.7h-0.7zM272.3 143.6h0.7v0.7h-0.7zM274.8 148.1h0.7v0.7h-0.7zM274.0 150.0h0.7v0.7h-0.7zM273.1 154.8h0.7v0.7h-0.7zM276.3 147.1h0.7v0.7h-0.7zM274.9 150.7h0.7v0.7h-0.7zM272.4 152.8h0.7v0.7h-0.7zM270.5 144.0h0.7v0.7h-0.7zM267.4 150.0h0.7v0.7h-0.7zM267.8 149.3h0.7v0.7h-0.7zM265.4 150.0h0.7v0.7h-0.7zM271.0 146.4h0.7v0.7h-0.7zM269.7 148.2h0.7v0.7h-0.7zM276.3 149.6h0.7v0.7h-0.7zM271.3 149.4h0.7v0.7h-0.7zM276.2 150.2h0.7v0.7h-0.7zM280.0 146.9h0.7v0.7h-0.7zM275.9 149.3h0.7v0.7h-0.7zM269.4 150.6h0.7v0.7h-0.7zM275.9 151.6h0.7v0.7h-0.7zM274.3 146.5h0.7v0.7h-0.7zM272.9 150.0h0.7v0.7h-0.7zM279.6 149.3h0.7v0.7h-0.7zM272.9 153.3h0.7v0.7h-0.7zM272.5 147.7h0.7v0.7h-0.7zM273.5 151.1h0.7v0.7h-0.7zM272.9 144.3h0.7v0.7h-0.7zM270.4 151.7h0.7v0.7h-0.7zM268.9 151.3h0.7v0.7h-0.7zM272.9 146.7h0.7v0.7h-0.7zM275.8 143.0h0.7v0.7h-0.7zM262.8 144.6h0.7v0.7h-0.7zM274.6 148.1h0.7v0.7h-0.7zM275.0 148.7h0.7v0.7h-0.7zM272.8 147.5h0.7v0.7h-0.7zM270.4 151.7h0.7v0.7h-0.7zM275.6 145.2h0.7v0.7h-0.7zM274.7 154.5h0.7v0.7h-0.7zM275.6 146.3h0.7v0.7h-0.7zM275.5 149.5h0.7v0.7h-0.7zM270.8 151.6h0.7v0.7h-0.7zM277.7 147.5h0.7v0.7h-0.7zM272.7 147.8h0.7v0.7h-0.7zM272.2 153.3h0.7v0.7h-0.7zM270.3 150.5h0.7v0.7h-0.7zM273.3 149.1h0.7v0.7h-0.7zM267.2 150.6h0.7v0.7h-0.7zM267.3 150.9h0.7v0.7h-0.7zM271.8 149.3h0.7v0.7h-0.7zM270.1 146.5h0.7v0.7h-0.7zM267.6 148.9h0.7v0.7h-0.7zM271.8 149.7h0.7v0.7h-0.7zM270.9 151.1h0.7v0.7h-0.7zM272.8 149.3h0.7v0.7h-0.7zM271.1 148.9h0.7v0.7h-0.7zM275.1 147.0h0.7v0.7h-0.7zM266.8 150.0h0.7v0.7h-0.7zM274.1 149.0h0.7v0.7h-0.7zM273.3 145.3h0.7v0.7h-0.7zM267.9 148.9h0.7v0.7h-0.7zM272.0 145.5h0.7v0.7h-0.7zM274.2 143.7h0.7v0.7h-0.7zM277.7 146.0h0.7v0.7h-0.7zM269.7 146.0h0.7v0.7h-0.7zM266.2 148.0h0.7v0.7h-0.7zM263.8 148.0h0.7v0.7h-0.7zM272.9 148.1h0.7v0.7h-0.7zM272.1 144.9h0.7v0.7h-0.7zM264.0 145.3h0.7v0.7h-0.7zM276.9 149.8h0.7v0.7h-0.7zM264.2 153.6h0.7v0.7h-0.7z" fill="#222" opacity="0.5"/>
<path d="M269.3 152.3h0.7v0.7h-0.7zM271.2 153.0h0.7v0.7h-0.7zM257.9 149.3h0.7v0.7h-0.7zM262.4 154.8h0.7v0.7h-0.7zM269.6 149.1h0.7v0.7h-0.7zM264.9 142.9h0.7v0.7h-0.7zM266.7 146.6h0.7v0.7h-0.7zM272.9 151.3h0.7v0.7h-0.7zM265.8 147.9h0.7v0.7h-0.7zM271.6 147.5h0.7v0.7h-0.7zM271.6 149.7h0.7v0.7h-0.7zM264.8 150.2h0.7v0.7h-0.7zM274.8 144.4h0.7v0.7h-0.7zM269.9 151.3h0.7v0.7h-0.7zM264.9 153.4h0.7v0.7h-0.7zM269.5 150.7h0.7v0.7h-0.7zM261.2 150.8h0.7v0.7h-0.7zM259.8 150.6h0.7v0.7h-0.7zM276.8 146.5h0.7v0.7h-0.7zM273.8 145.9h0.7v0.7h-0.7zM266.5 151.2h0.7v0.7h-0.7zM259.0 150.1h0.7v0.7h-0.7zM262.4 147.3h0.7v0.7h-0.7zM270.3 148.9h0.7v0.7h-0.7zM268.2 149.2h0.7v0.7h-0.7zM268.0 153.7h0.7v0.7h-0.7zM266.8 148.3h0.7v0.7h-0.7zM266.3 151.2h0.7v0.7h-0.7zM268.4 142.8h0.7v0.7h-0.7zM265.8 150.4h0.7v0.7h-0.7zM279.0 147.3h0.7v0.7h-0.7zM264.8 145.7h0.7v0.7h-0.7zM265.8 143.9h0.7v0.7h-0.7zM262.0 148.9h0.7v0.7h-0.7zM258.7 148.3h0.7v0.7h-0.7zM262.8 152.8h0.7v0.7h-0.7zM274.0 155.4h0.7v0.7h-0.7zM266.9 151.1h0.7v0.7h-0.7zM277.9 147.2h0.7v0.7h-0.7zM274.6 146.4h0.7v0.7h-0.7zM271.4 144.5h0.7v0.7h-0.7zM264.2 148.5h0.7v0.7h-0.7zM264.9 143.3h0.7v0.7h-0.7zM266.8 148.2h0.7v0.7h-0.7zM273.5 150.8h0.7v0.7h-0.7zM271.4 148.8h0.7v0.7h-0.7zM262.7 145.0h0.7v0.7h-0.7zM264.3 146.3h0.7v0.7h-0.7zM264.8 148.1h0.7v0.7h-0.7zM272.5 146.2h0.7v0.7h-0.7z" fill="#555" opacity="0.3"/>
<ellipse cx="266" cy="149.5" rx="5" ry="2.6" fill="#111" opacity="0.35" filter="url(#b2)"/>
<ellipse cx="272.5" cy="148.8" rx="4.4" ry="3.2" fill="#111" opacity="0.9" filter="url(#b1)"/>
<path d="M330.4 145.0h0.7v0.7h-0.7zM330.1 150.9h0.7v0.7h-0.7zM325.5 144.8h0.7v0.7h-0.7zM328.8 148.2h0.7v0.7h-0.7zM325.1 149.3h0.7v0.7h-0.7zM329.0 150.0h0.7v0.7h-0.7zM321.1 150.2h0.7v0.7h-0.7zM335.5 145.8h0.7v0.7h-0.7zM339.4 148.7h0.7v0.7h-0.7zM321.5 145.1h0.7v0.7h-0.7zM324.5 146.3h0.7v0.7h-0.7zM327.3 148.9h0.7v0.7h-0.7zM327.5 147.2h0.7v0.7h-0.7zM323.3 142.4h0.7v0.7h-0.7zM324.7 144.7h0.7v0.7h-0.7zM333.4 141.4h0.7v0.7h-0.7zM334.8 140.1h0.7v0.7h-0.7zM327.5 148.1h0.7v0.7h-0.7zM322.5 145.4h0.7v0.7h-0.7zM333.3 145.1h0.7v0.7h-0.7zM328.1 148.2h0.7v0.7h-0.7zM332.1 144.6h0.7v0.7h-0.7zM335.7 147.7h0.7v0.7h-0.7zM334.1 144.2h0.7v0.7h-0.7zM334.5 147.8h0.7v0.7h-0.7zM332.8 146.3h0.7v0.7h-0.7zM333.3 148.2h0.7v0.7h-0.7zM318.2 155.0h0.7v0.7h-0.7zM324.9 149.4h0.7v0.7h-0.7zM327.5 146.8h0.7v0.7h-0.7zM326.5 150.6h0.7v0.7h-0.7zM333.7 150.7h0.7v0.7h-0.7zM319.6 150.3h0.7v0.7h-0.7zM320.3 154.5h0.7v0.7h-0.7zM330.7 151.2h0.7v0.7h-0.7zM328.5 148.5h0.7v0.7h-0.7zM324.7 153.6h0.7v0.7h-0.7zM326.8 151.1h0.7v0.7h-0.7zM324.1 147.7h0.7v0.7h-0.7zM326.4 147.8h0.7v0.7h-0.7zM325.8 149.9h0.7v0.7h-0.7zM332.2 143.6h0.7v0.7h-0.7zM326.2 144.4h0.7v0.7h-0.7zM334.4 144.6h0.7v0.7h-0.7zM331.1 148.5h0.7v0.7h-0.7zM328.3 142.6h0.7v0.7h-0.7zM337.9 147.7h0.7v0.7h-0.7zM332.3 151.0h0.7v0.7h-0.7zM323.1 145.3h0.7v0.7h-0.7zM338.0 153.5h0.7v0.7h-0.7zM324.1 147.9h0.7v0.7h-0.7zM333.8 147.7h0.7v0.7h-0.7zM335.8 149.8h0.7v0.7h-0.7zM328.2 150.0h0.7v0.7h-0.7zM326.0 151.6h0.7v0.7h-0.7zM324.9 151.7h0.7v0.7h-0.7zM342.4 143.2h0.7v0.7h-0.7zM337.9 143.9h0.7v0.7h-0.7zM328.2 153.2h0.7v0.7h-0.7zM334.5 150.0h0.7v0.7h-0.7zM330.6 148.6h0.7v0.7h-0.7zM331.1 147.5h0.7v0.7h-0.7zM327.0 144.6h0.7v0.7h-0.7zM338.2 148.0h0.7v0.7h-0.7zM339.1 150.2h0.7v0.7h-0.7zM331.1 145.0h0.7v0.7h-0.7zM327.2 148.2h0.7v0.7h-0.7zM327.9 147.2h0.7v0.7h-0.7zM316.0 147.0h0.7v0.7h-0.7zM327.2 146.7h0.7v0.7h-0.7zM326.9 143.7h0.7v0.7h-0.7zM323.9 152.2h0.7v0.7h-0.7zM323.4 146.6h0.7v0.7h-0.7zM324.0 147.6h0.7v0.7h-0.7zM325.7 153.7h0.7v0.7h-0.7zM322.9 151.9h0.7v0.7h-0.7zM326.0 149.4h0.7v0.7h-0.7zM342.5 148.1h0.7v0.7h-0.7zM328.6 140.1h0.7v0.7h-0.7zM326.7 147.5h0.7v0.7h-0.7zM329.3 148.8h0.7v0.7h-0.7zM322.6 145.5h0.7v0.7h-0.7zM332.8 147.4h0.7v0.7h-0.7zM328.8 150.0h0.7v0.7h-0.7zM329.2 148.5h0.7v0.7h-0.7zM322.7 148.1h0.7v0.7h-0.7zM319.3 153.1h0.7v0.7h-0.7zM324.4 152.8h0.7v0.7h-0.7zM325.9 147.7h0.7v0.7h-0.7zM335.8 148.7h0.7v0.7h-0.7zM329.6 147.4h0.7v0.7h-0.7zM327.2 146.1h0.7v0.7h-0.7zM324.4 143.1h0.7v0.7h-0.7zM327.8 145.9h0.7v0.7h-0.7zM336.4 154.1h0.7v0.7h-0.7zM339.2 144.8h0.7v0.7h-0.7zM326.7 147.8h0.7v0.7h-0.7zM320.2 152.5h0.7v0.7h-0.7zM332.6 149.0h0.7v0.7h-0.7zM339.3 149.5h0.7v0.7h-0.7zM327.0 148.9h0.7v0.7h-0.7zM326.1 149.5h0.7v0.7h-0.7zM321.4 149.6h0.7v0.7h-0.7zM327.0 146.9h0.7v0.7h-0.7zM326.6 147.8h0.7v0.7h-0.7zM319.1 149.8h0.7v0.7h-0.7zM327.6 153.2h0.7v0.7h-0.7zM328.6 150.8h0.7v0.7h-0.7zM328.5 147.8h0.7v0.7h-0.7zM322.0 146.8h0.7v0.7h-0.7zM325.5 141.4h0.7v0.7h-0.7zM327.1 146.1h0.7v0.7h-0.7zM330.4 151.0h0.7v0.7h-0.7zM327.0 151.5h0.7v0.7h-0.7zM335.6 150.3h0.7v0.7h-0.7zM326.9 148.4h0.7v0.7h-0.7zM337.7 152.5h0.7v0.7h-0.7zM335.0 143.3h0.7v0.7h-0.7zM316.2 153.2h0.7v0.7h-0.7zM332.7 151.9h0.7v0.7h-0.7z" fill="#222" opacity="0.5"/>
<path d="M329.8 152.3h0.7v0.7h-0.7zM329.5 153.0h0.7v0.7h-0.7zM331.4 155.7h0.7v0.7h-0.7zM327.0 150.9h0.7v0.7h-0.7zM330.5 155.8h0.7v0.7h-0.7zM329.2 154.2h0.7v0.7h-0.7zM326.5 150.6h0.7v0.7h-0.7zM329.7 147.7h0.7v0.7h-0.7zM329.6 154.9h0.7v0.7h-0.7zM329.9 155.7h0.7v0.7h-0.7zM332.2 154.1h0.7v0.7h-0.7zM327.2 148.0h0.7v0.7h-0.7zM324.6 153.5h0.7v0.7h-0.7zM330.3 148.1h0.7v0.7h-0.7zM329.0 151.0h0.7v0.7h-0.7zM328.3 153.8h0.7v0.7h-0.7zM328.8 149.6h0.7v0.7h-0.7zM330.1 152.8h0.7v0.7h-0.7zM325.3 155.5h0.7v0.7h-0.7zM331.6 152.0h0.7v0.7h-0.7zM331.6 148.4h0.7v0.7h-0.7zM328.3 157.1h0.7v0.7h-0.7zM331.1 154.8h0.7v0.7h-0.7zM330.6 152.0h0.7v0.7h-0.7zM330.0 156.1h0.7v0.7h-0.7zM330.4 154.3h0.7v0.7h-0.7zM330.2 154.5h0.7v0.7h-0.7zM329.8 148.5h0.7v0.7h-0.7zM329.8 150.4h0.7v0.7h-0.7zM328.0 153.4h0.7v0.7h-0.7z" fill="#444" opacity="0.4"/>
<ellipse cx="328.5" cy="147.6" rx="5.5" ry="2.8" fill="#111" opacity="0.9" filter="url(#b1)"/>
<ellipse cx="328.6" cy="152.5" rx="1.5" ry="2.5" fill="#111" opacity="0.4" filter="url(#b1)"/>
<path d="M381.4 142.8h0.7v0.7h-0.7zM375.5 145.8h0.7v0.7h-0.7zM376.4 145.4h0.7v0.7h-0.7zM381.2 145.7h0.7v0.7h-0.7zM375.4 145.7h0.7v0.7h-0.7zM383.8 142.9h0.7v0.7h-0.7zM385.4 143.4h0.7v0.7h-0.7zM382.2 146.5h0.7v0.7h-0.7zM384.3 143.1h0.7v0.7h-0.7zM372.6 143.1h0.7v0.7h-0.7zM383.8 145.6h0.7v0.7h-0.7zM365.9 146.7h0.7v0.7h-0.7zM388.4 144.3h0.7v0.7h-0.7zM378.9 145.8h0.7v0.7h-0.7zM371.8 144.5h0.7v0.7h-0.7zM383.6 144.7h0.7v0.7h-0.7zM379.4 145.5h0.7v0.7h-0.7zM392.4 145.8h0.7v0.7h-0.7zM382.0 144.4h0.7v0.7h-0.7zM388.8 145.4h0.7v0.7h-0.7zM379.2 147.8h0.7v0.7h-0.7zM389.6 143.5h0.7v0.7h-0.7zM377.1 147.7h0.7v0.7h-0.7zM375.9 148.3h0.7v0.7h-0.7zM378.2 149.0h0.7v0.7h-0.7zM372.1 141.6h0.7v0.7h-0.7zM368.5 149.1h0.7v0.7h-0.7zM374.0 144.5h0.7v0.7h-0.7zM375.1 143.9h0.7v0.7h-0.7zM380.6 145.6h0.7v0.7h-0.7zM374.7 144.3h0.7v0.7h-0.7zM389.5 147.1h0.7v0.7h-0.7zM386.9 147.7h0.7v0.7h-0.7zM378.0 147.0h0.7v0.7h-0.7zM391.8 143.7h0.7v0.7h-0.7zM389.7 140.6h0.7v0.7h-0.7zM365.0 142.5h0.7v0.7h-0.7zM371.9 143.5h0.7v0.7h-0.7zM375.7 146.9h0.7v0.7h-0.7zM373.9 144.6h0.7v0.7h-0.7zM369.6 142.2h0.7v0.7h-0.7zM378.0 143.9h0.7v0.7h-0.7zM386.1 145.5h0.7v0.7h-0.7zM365.7 146.7h0.7v0.7h-0.7zM370.3 144.5h0.7v0.7h-0.7zM371.5 143.7h0.7v0.7h-0.7zM374.8 143.0h0.7v0.7h-0.7zM373.8 144.7h0.7v0.7h-0.7zM384.8 146.6h0.7v0.7h-0.7zM392.7 142.2h0.7v0.7h-0.7zM376.4 147.6h0.7v0.7h-0.7zM370.8 145.0h0.7v0.7h-0.7zM384.8 148.2h0.7v0.7h-0.7zM383.6 145.9h0.7v0.7h-0.7zM378.1 146.5h0.7v0.7h-0.7zM380.1 145.9h0.7v0.7h-0.7zM374.4 145.0h0.7v0.7h-0.7zM372.7 143.2h0.7v0.7h-0.7zM372.9 143.7h0.7v0.7h-0.7zM374.2 144.2h0.7v0.7h-0.7zM367.8 145.9h0.7v0.7h-0.7zM381.6 148.2h0.7v0.7h-0.7zM372.0 143.6h0.7v0.7h-0.7zM379.7 143.6h0.7v0.7h-0.7zM373.4 146.7h0.7v0.7h-0.7zM377.8 142.2h0.7v0.7h-0.7zM386.4 149.5h0.7v0.7h-0.7zM387.7 145.0h0.7v0.7h-0.7zM389.4 145.1h0.7v0.7h-0.7zM376.6 145.7h0.7v0.7h-0.7zM389.0 145.5h0.7v0.7h-0.7zM377.0 142.6h0.7v0.7h-0.7zM380.6 143.2h0.7v0.7h-0.7zM378.5 142.6h0.7v0.7h-0.7zM372.7 143.4h0.7v0.7h-0.7zM374.2 143.1h0.7v0.7h-0.7zM388.5 146.7h0.7v0.7h-0.7zM376.7 143.3h0.7v0.7h-0.7zM387.4 144.8h0.7v0.7h-0.7zM383.5 147.2h0.7v0.7h-0.7zM376.2 146.1h0.7v0.7h-0.7zM382.6 144.4h0.7v0.7h-0.7zM377.9 144.1h0.7v0.7h-0.7zM391.6 147.2h0.7v0.7h-0.7zM385.9 144.1h0.7v0.7h-0.7zM373.6 143.6h0.7v0.7h-0.7zM382.6 146.7h0.7v0.7h-0.7zM364.9 146.6h0.7v0.7h-0.7zM386.0 146.8h0.7v0.7h-0.7zM369.6 145.6h0.7v0.7h-0.7zM381.7 142.7h0.7v0.7h-0.7zM370.7 149.4h0.7v0.7h-0.7zM374.1 144.3h0.7v0.7h-0.7zM364.6 144.1h0.7v0.7h-0.7zM389.4 146.0h0.7v0.7h-0.7zM372.8 145.3h0.7v0.7h-0.7zM381.9 146.4h0.7v0.7h-0.7zM371.7 146.0h0.7v0.7h-0.7zM374.2 144.3h0.7v0.7h-0.7zM372.8 143.7h0.7v0.7h-0.7zM382.8 141.9h0.7v0.7h-0.7zM380.7 150.4h0.7v0.7h-0.7zM372.5 144.7h0.7v0.7h-0.7zM378.7 148.2h0.7v0.7h-0.7zM368.5 146.3h0.7v0.7h-0.7zM378.4 149.0h0.7v0.7h-0.7zM377.6 149.0h0.7v0.7h-0.7zM372.0 145.9h0.7v0.7h-0.7zM370.9 144.1h0.7v0.7h-0.7zM369.8 144.5h0.7v0.7h-0.7zM390.8 144.2h0.7v0.7h-0.7zM397.6 148.3h0.7v0.7h-0.7zM381.5 145.3h0.7v0.7h-0.7zM381.5 143.8h0.7v0.7h-0.7zM383.6 145.4h0.7v0.7h-0.7zM364.6 145.3h0.7v0.7h-0.7zM383.5 145.3h0.7v0.7h-0.7zM381.5 145.3h0.7v0.7h-0.7zM375.5 147.2h0.7v0.7h-0.7zM389.6 144.7h0.7v0.7h-0.7zM385.1 143.2h0.7v0.7h-0.7zM388.5 143.7h0.7v0.7h-0.7zM379.5 147.0h0.7v0.7h-0.7zM375.4 145.3h0.7v0.7h-0.7zM386.7 144.2h0.7v0.7h-0.7zM381.7 147.3h0.7v0.7h-0.7zM381.0 143.8h0.7v0.7h-0.7zM376.2 144.8h0.7v0.7h-0.7zM379.3 146.4h0.7v0.7h-0.7zM367.6 145.1h0.7v0.7h-0.7zM380.6 148.1h0.7v0.7h-0.7zM368.3 143.6h0.7v0.7h-0.7zM385.8 145.2h0.7v0.7h-0.7zM387.3 145.2h0.7v0.7h-0.7zM374.3 145.1h0.7v0.7h-0.7zM388.3 146.6h0.7v0.7h-0.7zM380.6 145.5h0.7v0.7h-0.7zM387.1 146.4h0.7v0.7h-0.7zM381.0 146.6h0.7v0.7h-0.7zM379.9 143.1h0.7v0.7h-0.7zM385.8 147.5h0.7v0.7h-0.7zM389.5 145.1h0.7v0.7h-0.7zM370.2 146.0h0.7v0.7h-0.7zM374.8 141.7h0.7v0.7h-0.7zM380.3 143.8h0.7v0.7h-0.7zM379.7 144.3h0.7v0.7h-0.7zM385.2 146.8h0.7v0.7h-0.7zM382.8 147.4h0.7v0.7h-0.7zM375.2 149.7h0.7v0.7h-0.7zM366.4 146.6h0.7v0.7h-0.7z" fill="#222" opacity="0.5"/>
<path d="M390.6 138.3h0.7v0.7h-0.7zM387.5 135.8h0.7v0.7h-0.7zM385.5 140.5h0.7v0.7h-0.7zM382.7 133.4h0.7v0.7h-0.7zM385.8 136.9h0.7v0.7h-0.7zM383.8 139.0h0.7v0.7h-0.7zM382.3 143.0h0.7v0.7h-0.7zM391.0 139.7h0.7v0.7h-0.7zM385.0 139.4h0.7v0.7h-0.7zM386.7 137.1h0.7v0.7h-0.7zM384.8 140.9h0.7v0.7h-0.7zM384.0 137.5h0.7v0.7h-0.7zM385.5 136.4h0.7v0.7h-0.7zM387.9 135.5h0.7v0.7h-0.7zM390.2 141.8h0.7v0.7h-0.7zM386.9 142.2h0.7v0.7h-0.7zM390.8 138.3h0.7v0.7h-0.7zM386.9 137.6h0.7v0.7h-0.7zM385.8 138.3h0.7v0.7h-0.7zM387.3 141.1h0.7v0.7h-0.7zM394.5 140.6h0.7v0.7h-0.7zM390.3 138.8h0.7v0.7h-0.7zM392.7 139.9h0.7v0.7h-0.7zM386.4 138.7h0.7v0.7h-0.7zM387.1 138.3h0.7v0.7h-0.7zM387.6 145.0h0.7v0.7h-0.7zM387.3 137.2h0.7v0.7h-0.7zM380.7 139.2h0.7v0.7h-0.7zM383.6 137.1h0.7v0.7h-0.7zM387.5 140.6h0.7v0.7h-0.7zM388.6 143.1h0.7v0.7h-0.7zM383.8 137.5h0.7v0.7h-0.7zM384.0 136.4h0.7v0.7h-0.7zM384.8 136.9h0.7v0.7h-0.7zM389.4 136.2h0.7v0.7h-0.7zM394.5 133.1h0.7v0.7h-0.7zM389.8 134.6h0.7v0.7h-0.7zM385.4 135.7h0.7v0.7h-0.7zM387.0 141.0h0.7v0.7h-0.7zM385.6 137.5h0.7v0.7h-0.7zM383.6 136.9h0.7v0.7h-0.7zM384.1 137.4h0.7v0.7h-0.7zM387.2 142.2h0.7v0.7h-0.7zM384.6 133.2h0.7v0.7h-0.7zM385.7 142.0h0.7v0.7h-0.7zM383.5 140.6h0.7v0.7h-0.7zM383.0 135.5h0.7v0.7h-0.7zM387.7 133.7h0.7v0.7h-0.7zM385.6 131.1h0.7v0.7h-0.7zM383.4 140.6h0.7v0.7h-0.7z" fill="#444" opacity="0.4"/>
<ellipse cx="379" cy="145.3" rx="7.5" ry="1.9" fill="#111" opacity="0.85" filter="url(#b1)"/>
<ellipse cx="387" cy="140" rx="3.5" ry="3" fill="#111" opacity="0.2" filter="url(#b2)"/>
<path d="M432.0 144.2h0.7v0.7h-0.7zM440.0 143.9h0.7v0.7h-0.7zM426.9 144.7h0.7v0.7h-0.7zM435.2 145.5h0.7v0.7h-0.7zM434.4 147.0h0.7v0.7h-0.7zM440.1 145.1h0.7v0.7h-0.7zM453.6 143.0h0.7v0.7h-0.7zM437.7 144.1h0.7v0.7h-0.7zM452.4 145.7h0.7v0.7h-0.7zM442.1 145.8h0.7v0.7h-0.7zM447.1 144.5h0.7v0.7h-0.7zM442.8 142.8h0.7v0.7h-0.7zM440.1 146.9h0.7v0.7h-0.7zM442.5 146.1h0.7v0.7h-0.7zM421.3 145.4h0.7v0.7h-0.7zM433.1 147.5h0.7v0.7h-0.7zM439.9 146.2h0.7v0.7h-0.7zM445.8 146.0h0.7v0.7h-0.7zM425.2 144.1h0.7v0.7h-0.7zM419.5 147.0h0.7v0.7h-0.7zM434.2 143.4h0.7v0.7h-0.7zM439.5 144.6h0.7v0.7h-0.7zM433.3 147.1h0.7v0.7h-0.7zM419.8 143.1h0.7v0.7h-0.7zM434.9 144.9h0.7v0.7h-0.7zM444.4 144.7h0.7v0.7h-0.7zM439.7 147.7h0.7v0.7h-0.7zM425.1 143.2h0.7v0.7h-0.7zM430.2 144.9h0.7v0.7h-0.7zM427.2 145.6h0.7v0.7h-0.7zM429.7 146.9h0.7v0.7h-0.7zM439.6 146.2h0.7v0.7h-0.7zM437.4 145.5h0.7v0.7h-0.7zM423.1 144.9h0.7v0.7h-0.7zM421.9 147.2h0.7v0.7h-0.7zM426.9 143.9h0.7v0.7h-0.7zM432.1 148.4h0.7v0.7h-0.7zM427.1 147.7h0.7v0.7h-0.7zM436.7 149.0h0.7v0.7h-0.7zM434.0 144.4h0.7v0.7h-0.7zM435.5 144.4h0.7v0.7h-0.7zM430.1 146.3h0.7v0.7h-0.7zM432.2 146.5h0.7v0.7h-0.7zM440.3 146.6h0.7v0.7h-0.7zM447.9 146.8h0.7v0.7h-0.7zM428.3 147.2h0.7v0.7h-0.7zM445.1 143.7h0.7v0.7h-0.7zM445.6 142.5h0.7v0.7h-0.7zM443.5 144.6h0.7v0.7h-0.7zM433.5 145.0h0.7v0.7h-0.7zM431.3 146.3h0.7v0.7h-0.7zM435.3 145.2h0.7v0.7h-0.7zM436.1 144.7h0.7v0.7h-0.7zM427.8 146.1h0.7v0.7h-0.7zM442.2 143.5h0.7v0.7h-0.7zM443.1 147.1h0.7v0.7h-0.7zM437.0 147.4h0.7v0.7h-0.7zM418.9 147.2h0.7v0.7h-0.7zM430.0 145.7h0.7v0.7h-0.7zM428.6 148.8h0.7v0.7h-0.7zM432.5 146.2h0.7v0.7h-0.7zM424.4 144.8h0.7v0.7h-0.7zM439.0 145.1h0.7v0.7h-0.7zM429.9 147.4h0.7v0.7h-0.7zM423.7 145.4h0.7v0.7h-0.7zM434.4 144.7h0.7v0.7h-0.7zM440.8 145.6h0.7v0.7h-0.7zM434.3 146.2h0.7v0.7h-0.7zM435.1 146.0h0.7v0.7h-0.7zM445.6 145.6h0.7v0.7h-0.7zM436.2 144.4h0.7v0.7h-0.7zM446.7 146.7h0.7v0.7h-0.7zM439.9 145.7h0.7v0.7h-0.7zM429.3 145.4h0.7v0.7h-0.7zM438.1 143.6h0.7v0.7h-0.7zM428.3 145.1h0.7v0.7h-0.7zM450.6 145.8h0.7v0.7h-0.7zM424.5 147.1h0.7v0.7h-0.7zM442.7 146.3h0.7v0.7h-0.7zM431.5 145.1h0.7v0.7h-0.7zM452.7 146.9h0.7v0.7h-0.7zM423.5 144.6h0.7v0.7h-0.7zM428.7 144.3h0.7v0.7h-0.7zM441.4 147.2h0.7v0.7h-0.7zM424.7 146.1h0.7v0.7h-0.7zM442.4 145.6h0.7v0.7h-0.7zM446.3 147.0h0.7v0.7h-0.7zM429.5 145.5h0.7v0.7h-0.7zM437.9 143.5h0.7v0.7h-0.7zM434.0 146.7h0.7v0.7h-0.7zM438.8 145.3h0.7v0.7h-0.7zM443.2 144.0h0.7v0.7h-0.7zM445.3 144.6h0.7v0.7h-0.7zM434.4 144.7h0.7v0.7h-0.7zM425.9 146.1h0.7v0.7h-0.7zM426.2 146.5h0.7v0.7h-0.7zM429.5 147.1h0.7v0.7h-0.7zM438.4 147.0h0.7v0.7h-0.7zM427.2 146.1h0.7v0.7h-0.7zM441.6 145.7h0.7v0.7h-0.7zM435.0 144.4h0.7v0.7h-0.7zM426.0 143.7h0.7v0.7h-0.7zM438.7 141.4h0.7v0.7h-0.7zM429.9 146.3h0.7v0.7h-0.7zM436.1 145.0h0.7v0.7h-0.7zM429.8 145.5h0.7v0.7h-0.7zM423.8 144.4h0.7v0.7h-0.7zM442.1 143.9h0.7v0.7h-0.7zM434.8 144.7h0.7v0.7h-0.7zM426.1 142.4h0.7v0.7h-0.7z" fill="#222" opacity="0.55"/>
<path d="M443.4 136.5h0.7v0.7h-0.7zM442.9 139.7h0.7v0.7h-0.7zM446.9 142.7h0.7v0.7h-0.7zM447.0 134.8h0.7v0.7h-0.7zM450.0 141.5h0.7v0.7h-0.7zM448.1 134.3h0.7v0.7h-0.7zM449.1 150.0h0.7v0.7h-0.7zM447.5 144.9h0.7v0.7h-0.7zM444.3 140.7h0.7v0.7h-0.7zM445.8 142.9h0.7v0.7h-0.7zM446.4 141.1h0.7v0.7h-0.7zM443.3 134.7h0.7v0.7h-0.7zM445.9 151.1h0.7v0.7h-0.7zM443.1 142.3h0.7v0.7h-0.7zM449.9 137.1h0.7v0.7h-0.7zM441.1 141.6h0.7v0.7h-0.7zM445.8 136.1h0.7v0.7h-0.7zM450.4 143.1h0.7v0.7h-0.7zM445.9 133.9h0.7v0.7h-0.7zM449.7 145.0h0.7v0.7h-0.7zM448.4 147.2h0.7v0.7h-0.7zM442.9 135.6h0.7v0.7h-0.7zM448.5 141.9h0.7v0.7h-0.7zM445.8 137.8h0.7v0.7h-0.7zM449.0 141.1h0.7v0.7h-0.7zM448.5 134.9h0.7v0.7h-0.7zM446.2 141.8h0.7v0.7h-0.7zM449.0 132.6h0.7v0.7h-0.7zM445.4 137.1h0.7v0.7h-0.7zM446.0 139.4h0.7v0.7h-0.7zM447.2 143.5h0.7v0.7h-0.7zM446.8 139.7h0.7v0.7h-0.7zM448.6 146.2h0.7v0.7h-0.7zM446.2 136.5h0.7v0.7h-0.7zM451.2 144.1h0.7v0.7h-0.7zM452.4 138.2h0.7v0.7h-0.7zM444.8 139.2h0.7v0.7h-0.7zM445.7 133.5h0.7v0.7h-0.7zM448.5 133.4h0.7v0.7h-0.7zM437.8 139.8h0.7v0.7h-0.7zM442.8 141.2h0.7v0.7h-0.7zM442.6 134.0h0.7v0.7h-0.7zM439.9 134.4h0.7v0.7h-0.7zM445.1 149.5h0.7v0.7h-0.7zM448.0 137.1h0.7v0.7h-0.7zM450.0 141.1h0.7v0.7h-0.7zM440.4 132.2h0.7v0.7h-0.7zM441.5 137.4h0.7v0.7h-0.7zM446.1 137.3h0.7v0.7h-0.7zM444.4 135.8h0.7v0.7h-0.7zM446.5 143.5h0.7v0.7h-0.7zM442.8 145.6h0.7v0.7h-0.7zM443.5 138.7h0.7v0.7h-0.7zM451.0 142.7h0.7v0.7h-0.7zM446.1 131.4h0.7v0.7h-0.7zM446.2 138.4h0.7v0.7h-0.7zM445.3 144.9h0.7v0.7h-0.7zM444.4 148.0h0.7v0.7h-0.7zM446.1 140.7h0.7v0.7h-0.7zM445.1 140.4h0.7v0.7h-0.7zM450.0 141.1h0.7v0.7h-0.7zM443.0 136.6h0.7v0.7h-0.7zM449.5 142.5h0.7v0.7h-0.7zM443.5 139.5h0.7v0.7h-0.7zM446.3 142.6h0.7v0.7h-0.7zM443.1 140.5h0.7v0.7h-0.7zM442.1 136.6h0.7v0.7h-0.7zM445.3 146.1h0.7v0.7h-0.7zM445.7 147.4h0.7v0.7h-0.7zM447.1 145.8h0.7v0.7h-0.7zM445.5 132.0h0.7v0.7h-0.7zM439.5 138.1h0.7v0.7h-0.7zM451.3 139.3h0.7v0.7h-0.7zM444.5 142.7h0.7v0.7h-0.7zM444.9 138.3h0.7v0.7h-0.7zM446.6 141.8h0.7v0.7h-0.7zM444.3 136.4h0.7v0.7h-0.7zM450.8 136.1h0.7v0.7h-0.7zM443.3 139.2h0.7v0.7h-0.7zM445.6 141.3h0.7v0.7h-0.7zM450.7 145.9h0.7v0.7h-0.7zM445.9 140.6h0.7v0.7h-0.7zM448.9 139.5h0.7v0.7h-0.7zM446.5 135.1h0.7v0.7h-0.7zM447.2 139.6h0.7v0.7h-0.7zM441.7 141.1h0.7v0.7h-0.7zM452.6 141.5h0.7v0.7h-0.7zM443.6 145.8h0.7v0.7h-0.7zM447.1 140.9h0.7v0.7h-0.7zM450.5 144.1h0.7v0.7h-0.7zM452.2 136.4h0.7v0.7h-0.7zM444.7 139.6h0.7v0.7h-0.7zM446.6 134.7h0.7v0.7h-0.7zM446.9 133.8h0.7v0.7h-0.7zM444.3 138.9h0.7v0.7h-0.7zM446.8 141.5h0.7v0.7h-0.7zM443.7 141.5h0.7v0.7h-0.7zM446.9 139.6h0.7v0.7h-0.7zM446.1 137.7h0.7v0.7h-0.7zM451.4 146.2h0.7v0.7h-0.7z" fill="#222" opacity="0.5"/>
<ellipse cx="433" cy="145.3" rx="8" ry="1.3" fill="#111" opacity="0.7" filter="url(#b1)"/>
<path d="M441.5,146.2 L450.5,146.2 L450,136.5 L447.2,134.5 Z" fill="#111" opacity="0.85" filter="url(#b07)"/>
<ellipse cx="445" cy="133" rx="3.5" ry="4" fill="#111" opacity="0.3" filter="url(#b2)"/>
<rect x="437.50" y="123.00" width="18.80" height="22.60" fill="none" stroke="#111" stroke-width="1.3"/>
<line x1="456.3" y1="137.5" x2="473.2" y2="145.2" stroke="#111" stroke-width="1.2"/>
<rect x="473.20" y="123.40" width="37.50" height="37.10" fill="none" stroke="#aaa" stroke-width="0.6"/>
<rect x="476.80" y="124.80" width="31.00" height="22.40" fill="none" stroke="#d0d0d0" stroke-width="0.5"/>
<text x="470.8" y="129" font-size="2.6" text-anchor="middle" fill="#aaa">10</text>
<text x="470.8" y="136" font-size="2.6" text-anchor="middle" fill="#aaa">10</text>
<text x="470.8" y="143" font-size="2.6" text-anchor="middle" fill="#aaa">10</text>
<text x="470.8" y="150" font-size="2.6" text-anchor="middle" fill="#aaa">10</text>
<text x="470.8" y="157" font-size="2.6" text-anchor="middle" fill="#aaa">10</text>
<path d="M477.7,164.4 L479.9,161.4" stroke="#aaa" stroke-width="0.7" fill="none"/>
<path d="M484.7,164.4 L486.9,161.4" stroke="#aaa" stroke-width="0.7" fill="none"/>
<path d="M491.7,164.4 L493.9,161.4" stroke="#aaa" stroke-width="0.7" fill="none"/>
<path d="M498.7,164.4 L500.9,161.4" stroke="#aaa" stroke-width="0.7" fill="none"/>
<path d="M505.7,164.4 L507.9,161.4" stroke="#aaa" stroke-width="0.7" fill="none"/>
<path d="M492.4 153.9h0.7v0.7h-0.7zM489.6 145.7h0.7v0.7h-0.7zM491.0 150.0h0.7v0.7h-0.7zM491.0 143.9h0.7v0.7h-0.7zM488.1 143.1h0.7v0.7h-0.7zM494.1 150.2h0.7v0.7h-0.7zM488.3 156.3h0.7v0.7h-0.7zM490.6 145.9h0.7v0.7h-0.7zM491.4 148.2h0.7v0.7h-0.7zM490.9 147.8h0.7v0.7h-0.7zM493.7 152.1h0.7v0.7h-0.7zM490.1 147.3h0.7v0.7h-0.7zM489.9 146.1h0.7v0.7h-0.7zM491.6 146.6h0.7v0.7h-0.7zM493.3 143.9h0.7v0.7h-0.7zM492.8 151.3h0.7v0.7h-0.7zM491.0 146.6h0.7v0.7h-0.7zM493.3 146.3h0.7v0.7h-0.7zM491.0 148.9h0.7v0.7h-0.7zM485.7 151.1h0.7v0.7h-0.7zM492.4 150.6h0.7v0.7h-0.7zM488.4 146.1h0.7v0.7h-0.7zM492.9 150.5h0.7v0.7h-0.7zM490.3 146.0h0.7v0.7h-0.7zM495.6 149.2h0.7v0.7h-0.7zM494.9 142.0h0.7v0.7h-0.7zM492.9 145.5h0.7v0.7h-0.7zM490.6 153.7h0.7v0.7h-0.7zM489.2 143.8h0.7v0.7h-0.7zM490.1 146.9h0.7v0.7h-0.7zM491.9 149.9h0.7v0.7h-0.7zM494.9 150.1h0.7v0.7h-0.7zM496.2 152.8h0.7v0.7h-0.7zM493.2 147.4h0.7v0.7h-0.7zM495.2 146.7h0.7v0.7h-0.7zM494.3 148.2h0.7v0.7h-0.7zM490.4 151.0h0.7v0.7h-0.7zM493.5 149.4h0.7v0.7h-0.7zM494.5 148.5h0.7v0.7h-0.7zM490.0 148.4h0.7v0.7h-0.7zM496.4 143.7h0.7v0.7h-0.7zM487.3 148.0h0.7v0.7h-0.7zM489.3 154.0h0.7v0.7h-0.7zM492.2 143.9h0.7v0.7h-0.7zM491.7 143.8h0.7v0.7h-0.7zM493.0 152.2h0.7v0.7h-0.7zM494.8 152.7h0.7v0.7h-0.7zM491.8 153.3h0.7v0.7h-0.7zM493.0 142.3h0.7v0.7h-0.7zM495.2 144.1h0.7v0.7h-0.7zM490.3 141.1h0.7v0.7h-0.7zM489.8 138.6h0.7v0.7h-0.7zM488.8 144.3h0.7v0.7h-0.7zM488.9 146.3h0.7v0.7h-0.7zM493.8 146.6h0.7v0.7h-0.7zM492.9 152.9h0.7v0.7h-0.7zM490.3 154.6h0.7v0.7h-0.7zM491.7 147.8h0.7v0.7h-0.7zM492.7 154.0h0.7v0.7h-0.7zM488.8 152.1h0.7v0.7h-0.7zM490.6 148.4h0.7v0.7h-0.7zM489.3 136.7h0.7v0.7h-0.7zM494.7 151.4h0.7v0.7h-0.7zM489.2 143.9h0.7v0.7h-0.7zM488.8 147.8h0.7v0.7h-0.7zM496.9 147.4h0.7v0.7h-0.7zM487.6 151.3h0.7v0.7h-0.7zM489.6 140.9h0.7v0.7h-0.7zM492.8 148.0h0.7v0.7h-0.7zM492.2 151.2h0.7v0.7h-0.7z" fill="#333" opacity="0.5"/>
<ellipse cx="491.5" cy="142" rx="2" ry="4" fill="#111" opacity="0.3" filter="url(#b2)"/>
<ellipse cx="491.8" cy="150.4" rx="3.2" ry="4.0" fill="#111" opacity="1.0" filter="url(#b1)"/>
<text x="489.3" y="138.2" font-size="6.5" font-weight="bold" text-anchor="middle" fill="#111" stroke="#111" stroke-width="0.22">25%</text>
<text x="259.5" y="32.0" font-size="6.5" font-weight="bold" fill="#111" stroke="#111" stroke-width="0.22">15%</text>
<text x="295.0" y="32.0" font-size="6.5" font-weight="bold" text-anchor="end" fill="#111" stroke="#111" stroke-width="0.22">0.4%</text>
<text x="259.5" y="62.3" font-size="6.5" font-weight="bold" fill="#111" stroke="#111" stroke-width="0.22">15%</text>
<text x="295.0" y="62.3" font-size="6.5" font-weight="bold" text-anchor="end" fill="#111" stroke="#111" stroke-width="0.22">4.6%</text>
<text x="311.0" y="32.0" font-size="6.5" font-weight="bold" fill="#111" stroke="#111" stroke-width="0.22">10%</text>
<text x="347.0" y="32.0" font-size="6.5" font-weight="bold" text-anchor="end" fill="#111" stroke="#111" stroke-width="0.22">2%</text>
<text x="311.2" y="62.3" font-size="6.5" font-weight="bold" fill="#111" stroke="#111" stroke-width="0.22">75%</text>
<text x="347.0" y="62.3" font-size="6.5" font-weight="bold" text-anchor="end" fill="#111" stroke="#111" stroke-width="0.22">13%</text>
<text x="361.9" y="32.0" font-size="6.5" font-weight="bold" fill="#111" stroke="#111" stroke-width="0.22">20%</text>
<text x="398.7" y="32.0" font-size="6.5" font-weight="bold" text-anchor="end" fill="#111" stroke="#111" stroke-width="0.22">22%</text>
<text x="362.6" y="62.3" font-size="6.5" font-weight="bold" fill="#111" stroke="#111" stroke-width="0.22">52%</text>
<text x="398.7" y="62.3" font-size="6.5" font-weight="bold" text-anchor="end" fill="#111" stroke="#111" stroke-width="0.22">6%</text>
<text x="415.2" y="32.0" font-size="6.5" font-weight="bold" fill="#111" stroke="#111" stroke-width="0.22">3%</text>
<text x="451.7" y="32.0" font-size="6.5" font-weight="bold" text-anchor="end" fill="#111" stroke="#111" stroke-width="0.22">70%</text>
<text x="415.0" y="62.3" font-size="6.5" font-weight="bold" fill="#111" stroke="#111" stroke-width="0.22">8%</text>
<text x="451.7" y="62.3" font-size="6.5" font-weight="bold" text-anchor="end" fill="#111" stroke="#111" stroke-width="0.22">19%</text>
<text x="258.0" y="129.1" font-size="6.5" font-weight="bold" fill="#111" stroke="#111" stroke-width="0.22">0.1%</text>
<text x="294.4" y="129.1" font-size="6.5" font-weight="bold" text-anchor="end" fill="#111" stroke="#111" stroke-width="0.22">0.1%</text>
<text x="258.2" y="159.5" font-size="6.5" font-weight="bold" fill="#111" stroke="#111" stroke-width="0.22">95%</text>
<text x="294.1" y="159.5" font-size="6.5" font-weight="bold" text-anchor="end" fill="#111" stroke="#111" stroke-width="0.22">5%</text>
<text x="313.9" y="129.1" font-size="6.5" font-weight="bold" fill="#111" stroke="#111" stroke-width="0.22">1%</text>
<text x="349.8" y="129.1" font-size="6.5" font-weight="bold" text-anchor="end" fill="#111" stroke="#111" stroke-width="0.22">0.5%</text>
<text x="313.2" y="159.5" font-size="6.5" font-weight="bold" fill="#111" stroke="#111" stroke-width="0.22">84%</text>
<text x="349.8" y="159.5" font-size="6.5" font-weight="bold" text-anchor="end" fill="#111" stroke="#111" stroke-width="0.22">14%</text>
<text x="366.3" y="130.4" font-size="6.5" font-weight="bold" fill="#111" stroke="#111" stroke-width="0.22">6%</text>
<text x="400.4" y="130.4" font-size="6.5" font-weight="bold" text-anchor="end" fill="#111" stroke="#111" stroke-width="0.22">10%</text>
<text x="362.9" y="159.5" font-size="6.5" font-weight="bold" fill="#111" stroke="#111" stroke-width="0.22">65%</text>
<text x="400.4" y="159.5" font-size="6.5" font-weight="bold" text-anchor="end" fill="#111" stroke="#111" stroke-width="0.22">19%</text>
<text x="419.6" y="130.4" font-size="6.5" font-weight="bold" fill="#111" stroke="#111" stroke-width="0.22">5%</text>
<text x="454.8" y="130.4" font-size="6.5" font-weight="bold" text-anchor="end" fill="#111" stroke="#111" stroke-width="0.22">62%</text>
<text x="419.3" y="159.5" font-size="6.5" font-weight="bold" fill="#111" stroke="#111" stroke-width="0.22">6%</text>
<text x="455.2" y="159.5" font-size="6.5" font-weight="bold" text-anchor="end" fill="#111" stroke="#111" stroke-width="0.22">27%</text>
<line x1="247.9" y1="127.39999999999999" x2="247.9" y2="143.1" stroke="#111" stroke-width="1.3"/>
<path d="M246.20000000000002,127.89999999999999 L247.9,124.3 L249.6,127.89999999999999 Z" fill="#111"/>
<text x="250.0" y="165.0" font-size="6.8" font-weight="bold" fill="#111" transform="rotate(-90 250.0 165.0)" stroke="#111" stroke-width="0.22">CD138</text>
<text x="265.2" y="174.6" font-size="6.5" font-weight="bold" fill="#111" stroke="#111" stroke-width="0.22">CD38</text>
<line x1="288.7" y1="172.4" x2="451.4" y2="172.4" stroke="#111" stroke-width="1.5"/>
<path d="M450.9,170.5 L454.5,172.4 L450.9,174.3 Z" fill="#111"/>
<line x1="517.7" y1="128.1" x2="517.7" y2="142.8" stroke="#111" stroke-width="1.3"/>
<path d="M516.0,128.6 L517.7,125.0 L519.4000000000001,128.6 Z" fill="#111"/>
<text x="520.2" y="160.6" font-size="6.5" font-weight="bold" fill="#111" transform="rotate(-90 520.2 160.6)" stroke="#111" stroke-width="0.22">IL-10</text>
<text x="473.4" y="174.7" font-size="6.8" font-weight="bold" fill="#111" stroke="#111" stroke-width="0.22">CD19</text>
<line x1="492.1" y1="172.5" x2="506.4" y2="172.5" stroke="#111" stroke-width="1.5"/>
<path d="M505.9,170.6 L509.5,172.5 L505.9,174.4 Z" fill="#111"/>
<line x1="330.6" y1="210.6" x2="330.6" y2="298.7" stroke="#111" stroke-width="1.2"/>
<line x1="330.0" y1="298.1" x2="460.6" y2="298.1" stroke="#111" stroke-width="1.2"/>
<line x1="328.0" y1="298.1" x2="330.6" y2="298.1" stroke="#111" stroke-width="1.1"/>
<text x="327.4" y="301.8" font-size="10.3" text-anchor="end" fill="#111" stroke="#111" stroke-width="0.35">0</text>
<line x1="328.0" y1="280.73" x2="330.6" y2="280.73" stroke="#111" stroke-width="1.1"/>
<text x="327.4" y="284.43" font-size="10.3" text-anchor="end" fill="#111" stroke="#111" stroke-width="0.35">5</text>
<line x1="328.0" y1="263.36" x2="330.6" y2="263.36" stroke="#111" stroke-width="1.1"/>
<text x="327.4" y="267.06" font-size="10.3" text-anchor="end" fill="#111" stroke="#111" stroke-width="0.35">10</text>
<line x1="328.0" y1="245.99" x2="330.6" y2="245.99" stroke="#111" stroke-width="1.1"/>
<text x="327.4" y="249.69" font-size="10.3" text-anchor="end" fill="#111" stroke="#111" stroke-width="0.35">15</text>
<line x1="328.0" y1="228.62" x2="330.6" y2="228.62" stroke="#111" stroke-width="1.1"/>
<text x="327.4" y="232.32" font-size="10.3" text-anchor="end" fill="#111" stroke="#111" stroke-width="0.35">20</text>
<line x1="328.0" y1="211.25" x2="330.6" y2="211.25" stroke="#111" stroke-width="1.1"/>
<text x="327.4" y="214.95" font-size="10.3" text-anchor="end" fill="#111" stroke="#111" stroke-width="0.35">25</text>
<text x="348.0" y="309.6" font-size="8.7" text-anchor="middle" fill="#111" stroke="#111" stroke-width="0.3">Day 1</text>
<text x="383.0" y="309.6" font-size="8.7" text-anchor="middle" fill="#111" stroke="#111" stroke-width="0.3">Day 4</text>
<text x="419.0" y="309.6" font-size="8.7" text-anchor="middle" fill="#111" stroke="#111" stroke-width="0.3">Day 7</text>
<text x="452.5" y="309.6" font-size="8.7" text-anchor="middle" fill="#111" stroke="#111" stroke-width="0.3">Day 10</text>
<text x="402.9" y="322.7" font-size="8.6" text-anchor="middle" fill="#111" stroke="#111" stroke-width="0.3">Time</text>
<text x="309.0" y="301.2" font-size="9.0" fill="#111" transform="rotate(-90 309.0 301.2)" stroke="#111" stroke-width="0.3">CD19<tspan font-size="5.2" dy="-3.2">+</tspan><tspan dy="3.2"> IL-10</tspan><tspan font-size="5.2" dy="-3.2">+</tspan><tspan dy="3.2"> (% CD19</tspan><tspan font-size="5.2" dy="-3.2">+</tspan><tspan dy="3.2">)</tspan></text>
<polyline points="347.0,292.25 379.5,258.55 412.0,256.46 444.6,227.28" fill="none" stroke="#111" stroke-width="1.35"/>
<circle cx="347.0" cy="292.25" r="1.95" fill="#111"/>
<circle cx="379.5" cy="258.55" r="1.95" fill="#111"/>
<circle cx="412.0" cy="256.46" r="1.95" fill="#111"/>
<circle cx="444.6" cy="227.28" r="1.95" fill="#111"/>
<polyline points="347.0,296.42 379.5,275.92 412.0,264.80 444.6,253.16" fill="none" stroke="#111" stroke-width="1.35"/>
<circle cx="347.0" cy="296.42" r="1.95" fill="#111"/>
<circle cx="379.5" cy="275.92" r="1.95" fill="#111"/>
<circle cx="412.0" cy="264.80" r="1.95" fill="#111"/>
<circle cx="444.6" cy="253.16" r="1.95" fill="#111"/>
<polyline points="347.0,297.98 379.5,285.65 412.0,264.80 444.6,253.16" fill="none" stroke="#111" stroke-width="1.35"/>
<circle cx="347.0" cy="297.98" r="1.95" fill="#111"/>
<circle cx="379.5" cy="285.65" r="1.95" fill="#111"/>
<circle cx="412.0" cy="264.80" r="1.95" fill="#111"/>
<circle cx="444.6" cy="253.16" r="1.95" fill="#111"/></svg>
</body></html>
